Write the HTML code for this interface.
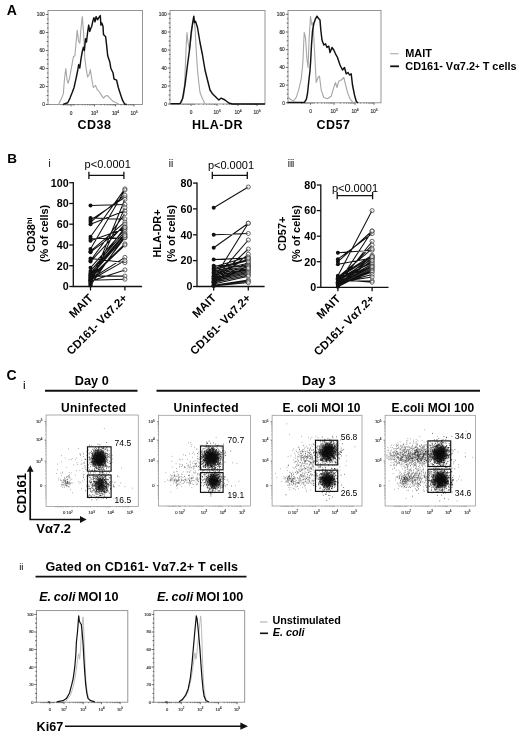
<!DOCTYPE html>
<html lang="en">
<head>
<meta charset="utf-8">
<title>Figure</title>
<style>html,body{margin:0;padding:0;background:#fff}svg{display:block}</style>
</head>
<body>
<svg width="520" height="736" viewBox="0 0 520 736" font-family='"Liberation Sans", sans-serif'>
<rect width="520" height="736" fill="#fff"/>
<defs><radialGradient id="core"><stop offset="0" stop-color="#000" stop-opacity="0.95"/><stop offset="0.45" stop-color="#000" stop-opacity="0.7"/><stop offset="1" stop-color="#000" stop-opacity="0"/></radialGradient><radialGradient id="core2"><stop offset="0" stop-color="#000" stop-opacity="0.6"/><stop offset="0.5" stop-color="#000" stop-opacity="0.3"/><stop offset="1" stop-color="#000" stop-opacity="0"/></radialGradient></defs>
<text x="6.8" y="14.7" font-size="14" font-weight="bold">A</text>
<rect x="48" y="10.5" width="94.5" height="94" fill="none" stroke="#8a8a8a" stroke-width="0.9"/>
<path d="M45.8 104.5H48.3M47.1 100H48.3M46.6 95.5H48.3M47.1 91H48.3M45.8 86.5H48.3M47.1 82H48.3M46.6 77.5H48.3M47.1 73H48.3M45.8 68.5H48.3M47.1 64H48.3M46.6 59.5H48.3M47.1 55H48.3M45.8 50.5H48.3M47.1 46H48.3M46.6 41.5H48.3M47.1 37H48.3M45.8 32.5H48.3M47.1 28H48.3M46.6 23.5H48.3M47.1 19H48.3M45.8 14.5H48.3" stroke="#333" stroke-width="0.7" fill="none"/>
<text x="44.8" y="106.2" font-size="4.8" text-anchor="end" fill="#333" stroke="#333" stroke-width="0.15">0</text>
<text x="44.8" y="88.2" font-size="4.8" text-anchor="end" fill="#333" stroke="#333" stroke-width="0.15">20</text>
<text x="44.8" y="70.2" font-size="4.8" text-anchor="end" fill="#333" stroke="#333" stroke-width="0.15">40</text>
<text x="44.8" y="52.2" font-size="4.8" text-anchor="end" fill="#333" stroke="#333" stroke-width="0.15">60</text>
<text x="44.8" y="34.2" font-size="4.8" text-anchor="end" fill="#333" stroke="#333" stroke-width="0.15">80</text>
<text x="44.8" y="16.2" font-size="4.8" text-anchor="end" fill="#333" stroke="#333" stroke-width="0.15">100</text>
<line x1="71" y1="104.5" x2="71" y2="106.5" stroke="#333" stroke-width="0.7"/>
<text x="71" y="114.7" font-size="4.8" text-anchor="middle" fill="#333" stroke="#333" stroke-width="0.15">0</text>
<line x1="94.5" y1="104.5" x2="94.5" y2="106.5" stroke="#333" stroke-width="0.7"/>
<text x="94.5" y="114.7" font-size="4.8" text-anchor="middle" fill="#333" stroke="#333" stroke-width="0.15">10<tspan dy="-1.8" font-size="3.4">3</tspan></text>
<line x1="115.5" y1="104.5" x2="115.5" y2="106.5" stroke="#333" stroke-width="0.7"/>
<text x="115.5" y="114.7" font-size="4.8" text-anchor="middle" fill="#333" stroke="#333" stroke-width="0.15">10<tspan dy="-1.8" font-size="3.4">4</tspan></text>
<line x1="134" y1="104.5" x2="134" y2="106.5" stroke="#333" stroke-width="0.7"/>
<text x="134" y="114.7" font-size="4.8" text-anchor="middle" fill="#333" stroke="#333" stroke-width="0.15">10<tspan dy="-1.8" font-size="3.4">5</tspan></text>
<path d="M78.1 104.3v1.2M82.2 104.3v1.2M85.1 104.3v1.2M87.4 104.3v1.2M89.3 104.3v1.2M90.9 104.3v1.2M92.2 104.3v1.2M93.4 104.3v1.2M100.8 104.3v1.2M104.5 104.3v1.2M107.1 104.3v1.2M109.2 104.3v1.2M110.8 104.3v1.2M112.2 104.3v1.2M113.5 104.3v1.2M114.5 104.3v1.2M121.1 104.3v1.2M124.3 104.3v1.2M126.6 104.3v1.2M128.4 104.3v1.2M129.9 104.3v1.2M131.1 104.3v1.2M132.2 104.3v1.2M133.2 104.3v1.2M62 104.3v1.2M63.5 104.3v1.2M65 104.3v1.2M66.2 104.3v1.2M67.4 104.3v1.2M68.6 104.3v1.2M69.8 104.3v1.2M72.2 104.3v1.2M73.4 104.3v1.2M74.6 104.3v1.2" stroke="#444" stroke-width="0.55" fill="none"/>
<path d="M58.6 104.4L61.2 99.1L63.3 93.9L64.5 79L65.8 68.5L67.1 80.1L68.1 83.3L69.6 78L71.7 66.3L73.4 56.8L74.9 55.8L76 43.1L77.2 30.4L78.5 41L79.8 43.1L80.8 30.4L82.3 16.6L83.6 32.5L84.8 57.9L86.1 68.5L87.6 76.9L89.1 74.8L90.3 69.5L91.8 79L93.3 87.5L94.6 86.4L95.6 85.4L97.1 89.6L99.2 91.7L101.3 94.9L103.5 98.1L105.6 96L107.3 95.5L109.8 98.1L113 101.3L116.2 102.7L119.3 104.4" fill="none" stroke="#a6a6a6" stroke-width="1.1" stroke-linejoin="round"/>
<path d="M63.1 104.4L67.7 102.7L70 98.1L72.3 92.3L74 87.7L75.8 79.6L77.5 71.5L78.7 64.6L79.8 68L81 58.9L82.3 51.5L83.4 47.3L84.4 50.5L85.5 38.8L86.5 42L87.6 32.5L88.7 25.1L89.7 31.4L90.8 28.3L91.8 26.2L92.9 20.9L93.9 17.7L95 21.9L96.1 16.6L97.5 19.8L98.8 17.7L100.3 15.6L100.9 25.1L101.8 23L103 26.2L103.5 34.6L105.6 36.7L106.6 45.2L107.7 55.8L109.8 62.1L110.9 68.5L113 72.7L114 79L116.6 80.1L118.3 87.5L120.4 93.9L122.5 100.2L124.6 104L126.7 104.4" fill="none" stroke="#111" stroke-width="1.45" stroke-linejoin="round"/>
<text x="94.5" y="129" font-size="12.5" font-weight="bold" text-anchor="middle" letter-spacing="0.5">CD38</text>
<rect x="170" y="10.5" width="95" height="93.5" fill="none" stroke="#8a8a8a" stroke-width="0.9"/>
<path d="M167.8 104H170.3M169.1 99.5H170.3M168.6 95H170.3M169.1 90.5H170.3M167.8 86H170.3M169.1 81.5H170.3M168.6 77H170.3M169.1 72.5H170.3M167.8 68H170.3M169.1 63.5H170.3M168.6 59H170.3M169.1 54.5H170.3M167.8 50H170.3M169.1 45.5H170.3M168.6 41H170.3M169.1 36.5H170.3M167.8 32H170.3M169.1 27.5H170.3M168.6 23H170.3M169.1 18.5H170.3M167.8 14H170.3" stroke="#333" stroke-width="0.7" fill="none"/>
<text x="166.8" y="105.7" font-size="4.8" text-anchor="end" fill="#333" stroke="#333" stroke-width="0.15">0</text>
<text x="166.8" y="87.7" font-size="4.8" text-anchor="end" fill="#333" stroke="#333" stroke-width="0.15">20</text>
<text x="166.8" y="69.7" font-size="4.8" text-anchor="end" fill="#333" stroke="#333" stroke-width="0.15">40</text>
<text x="166.8" y="51.7" font-size="4.8" text-anchor="end" fill="#333" stroke="#333" stroke-width="0.15">60</text>
<text x="166.8" y="33.7" font-size="4.8" text-anchor="end" fill="#333" stroke="#333" stroke-width="0.15">80</text>
<text x="166.8" y="15.7" font-size="4.8" text-anchor="end" fill="#333" stroke="#333" stroke-width="0.15">100</text>
<line x1="191" y1="104" x2="191" y2="106" stroke="#333" stroke-width="0.7"/>
<text x="191" y="114.2" font-size="4.8" text-anchor="middle" fill="#333" stroke="#333" stroke-width="0.15">0</text>
<line x1="217" y1="104" x2="217" y2="106" stroke="#333" stroke-width="0.7"/>
<text x="217" y="114.2" font-size="4.8" text-anchor="middle" fill="#333" stroke="#333" stroke-width="0.15">10<tspan dy="-1.8" font-size="3.4">3</tspan></text>
<line x1="238" y1="104" x2="238" y2="106" stroke="#333" stroke-width="0.7"/>
<text x="238" y="114.2" font-size="4.8" text-anchor="middle" fill="#333" stroke="#333" stroke-width="0.15">10<tspan dy="-1.8" font-size="3.4">4</tspan></text>
<line x1="257" y1="104" x2="257" y2="106" stroke="#333" stroke-width="0.7"/>
<text x="257" y="114.2" font-size="4.8" text-anchor="middle" fill="#333" stroke="#333" stroke-width="0.15">10<tspan dy="-1.8" font-size="3.4">5</tspan></text>
<path d="M198.8 103.8v1.2M203.4 103.8v1.2M206.7 103.8v1.2M209.2 103.8v1.2M211.2 103.8v1.2M213 103.8v1.2M214.5 103.8v1.2M215.8 103.8v1.2M223.3 103.8v1.2M227 103.8v1.2M229.6 103.8v1.2M231.7 103.8v1.2M233.3 103.8v1.2M234.7 103.8v1.2M236 103.8v1.2M237 103.8v1.2M243.7 103.8v1.2M247.1 103.8v1.2M249.4 103.8v1.2M251.3 103.8v1.2M252.8 103.8v1.2M254.1 103.8v1.2M255.2 103.8v1.2M256.1 103.8v1.2M182 103.8v1.2M183.5 103.8v1.2M185 103.8v1.2M186.2 103.8v1.2M187.4 103.8v1.2M188.6 103.8v1.2M189.8 103.8v1.2M192.2 103.8v1.2M193.4 103.8v1.2M194.6 103.8v1.2" stroke="#444" stroke-width="0.55" fill="none"/>
<path d="M181.2 103.8L183.8 95L185 75L186.2 45L187 32.5L188 42.5L189.5 50L191.2 37.5L192.5 25L193.8 18.8L195 27.5L196.2 50L197.5 70L198.8 82.5L200 92.5L202.5 98.8L205 103.8" fill="none" stroke="#a6a6a6" stroke-width="1.1" stroke-linejoin="round"/>
<path d="M170.5 103.8L180 103.8L182.5 98.8L185 85L187.5 65L189.5 50L191.2 32.5L192.5 23.8L193.8 16.2L194.5 22.5L195.5 21.2L197.5 27.5L200 42.5L202.5 55L205 70L207.5 80L210 90L212.5 93.8L215 96.2L218.8 100L221.2 98.2L225 100L228.8 103L232.5 104L265 104" fill="none" stroke="#111" stroke-width="1.45" stroke-linejoin="round"/>
<text x="217.5" y="129" font-size="12.5" font-weight="bold" text-anchor="middle" letter-spacing="0.5">HLA-DR</text>
<rect x="288" y="10.5" width="93" height="92.3" fill="none" stroke="#8a8a8a" stroke-width="0.9"/>
<path d="M285.8 102.8H288.3M287.1 98.4H288.3M286.6 94H288.3M287.1 89.5H288.3M285.8 85.1H288.3M287.1 80.7H288.3M286.6 76.2H288.3M287.1 71.8H288.3M285.8 67.4H288.3M287.1 63H288.3M286.6 58.5H288.3M287.1 54.1H288.3M285.8 49.7H288.3M287.1 45.3H288.3M286.6 40.8H288.3M287.1 36.4H288.3M285.8 32H288.3M287.1 27.6H288.3M286.6 23.1H288.3M287.1 18.7H288.3M285.8 14.3H288.3" stroke="#333" stroke-width="0.7" fill="none"/>
<text x="284.8" y="104.5" font-size="4.8" text-anchor="end" fill="#333" stroke="#333" stroke-width="0.15">0</text>
<text x="284.8" y="86.8" font-size="4.8" text-anchor="end" fill="#333" stroke="#333" stroke-width="0.15">20</text>
<text x="284.8" y="69.1" font-size="4.8" text-anchor="end" fill="#333" stroke="#333" stroke-width="0.15">40</text>
<text x="284.8" y="51.4" font-size="4.8" text-anchor="end" fill="#333" stroke="#333" stroke-width="0.15">60</text>
<text x="284.8" y="33.7" font-size="4.8" text-anchor="end" fill="#333" stroke="#333" stroke-width="0.15">80</text>
<text x="284.8" y="16" font-size="4.8" text-anchor="end" fill="#333" stroke="#333" stroke-width="0.15">100</text>
<line x1="310.5" y1="102.8" x2="310.5" y2="104.8" stroke="#333" stroke-width="0.7"/>
<text x="310.5" y="113" font-size="4.8" text-anchor="middle" fill="#333" stroke="#333" stroke-width="0.15">0</text>
<line x1="334" y1="102.8" x2="334" y2="104.8" stroke="#333" stroke-width="0.7"/>
<text x="334" y="113" font-size="4.8" text-anchor="middle" fill="#333" stroke="#333" stroke-width="0.15">10<tspan dy="-1.8" font-size="3.4">3</tspan></text>
<line x1="355" y1="102.8" x2="355" y2="104.8" stroke="#333" stroke-width="0.7"/>
<text x="355" y="113" font-size="4.8" text-anchor="middle" fill="#333" stroke="#333" stroke-width="0.15">10<tspan dy="-1.8" font-size="3.4">4</tspan></text>
<line x1="374" y1="102.8" x2="374" y2="104.8" stroke="#333" stroke-width="0.7"/>
<text x="374" y="113" font-size="4.8" text-anchor="middle" fill="#333" stroke="#333" stroke-width="0.15">10<tspan dy="-1.8" font-size="3.4">5</tspan></text>
<path d="M317.6 102.6v1.2M321.7 102.6v1.2M324.6 102.6v1.2M326.9 102.6v1.2M328.8 102.6v1.2M330.4 102.6v1.2M331.7 102.6v1.2M332.9 102.6v1.2M340.3 102.6v1.2M344 102.6v1.2M346.6 102.6v1.2M348.7 102.6v1.2M350.3 102.6v1.2M351.7 102.6v1.2M353 102.6v1.2M354 102.6v1.2M360.7 102.6v1.2M364.1 102.6v1.2M366.4 102.6v1.2M368.3 102.6v1.2M369.8 102.6v1.2M371.1 102.6v1.2M372.2 102.6v1.2M373.1 102.6v1.2M301.5 102.6v1.2M303 102.6v1.2M304.5 102.6v1.2M305.7 102.6v1.2M306.9 102.6v1.2M308.1 102.6v1.2M309.3 102.6v1.2M311.7 102.6v1.2M312.9 102.6v1.2M314.1 102.6v1.2" stroke="#444" stroke-width="0.55" fill="none"/>
<path d="M287.9 96.9L290.5 99.5L293.6 101L296.5 96.9L298.9 88.8L301.1 79.6L302.8 63.8L304.2 32.5L305.5 37.5L307 60L308 67.5L309.2 37.5L310.5 16.2L311.8 25L313 22.5L314.5 50L316.2 82.5L318 77.5L319.5 76.2L321.2 90L323.8 97.5L327.5 98.8L331.2 96.2L333.8 87.5L335.5 82.5L337 87.5L338.8 81.2L341.2 80L343.8 77.5L345 82.5L347.5 92.5L350 98.8L352.5 102L356.2 102.5" fill="none" stroke="#a6a6a6" stroke-width="1.1" stroke-linejoin="round"/>
<path d="M287.5 102.5L302 102.5L304.6 102.2L306.4 99.2L307.5 93.5L308.6 83L309.9 71.5L310.6 62.2L311.5 45L312.5 31.2L313.8 23.8L315.5 18.8L317 16.2L318.8 18.8L320 20L320.8 30L322 40L323.8 45L325.5 43.8L327 47.5L328.8 46.2L330 52.5L332 47.5L333.8 50L335.5 53.8L337.5 57.5L340 65L342.5 70L344.5 67.5L346.2 73.8L348 72.5L349.5 75L351.2 73.8L352.5 85L354.5 95L356.2 101.2L358 103" fill="none" stroke="#111" stroke-width="1.45" stroke-linejoin="round"/>
<text x="333.5" y="129" font-size="12.5" font-weight="bold" text-anchor="middle" letter-spacing="0.5">CD57</text>
<line x1="390.2" y1="53.7" x2="398.5" y2="53.7" stroke="#b0b0b0" stroke-width="1.2"/>
<line x1="390.2" y1="66.3" x2="399" y2="66.3" stroke="#111" stroke-width="1.8"/>
<text x="405.3" y="57" font-size="10.9" font-weight="bold">MAIT</text>
<text x="405.3" y="70.3" font-size="10.9" font-weight="bold">CD161<tspan dy="-1.2">-</tspan><tspan dy="1.2"> Vα7.2</tspan><tspan dy="-1.2" font-size="8">+</tspan><tspan dy="1.2"> T cells</tspan></text>
<text x="7.2" y="163.2" font-size="13.5" font-weight="bold">B</text>
<path d="M73.3 182.1V286.5H142" fill="none" stroke="#111" stroke-width="1.3"/>
<line x1="69.3" y1="286.5" x2="73.3" y2="286.5" stroke="#111" stroke-width="1.3"/>
<text x="68.7" y="290.3" font-size="10.7" font-weight="bold" text-anchor="end">0</text>
<line x1="69.3" y1="265.7" x2="73.3" y2="265.7" stroke="#111" stroke-width="1.3"/>
<text x="68.7" y="269.5" font-size="10.7" font-weight="bold" text-anchor="end">20</text>
<line x1="69.3" y1="245" x2="73.3" y2="245" stroke="#111" stroke-width="1.3"/>
<text x="68.7" y="248.8" font-size="10.7" font-weight="bold" text-anchor="end">40</text>
<line x1="69.3" y1="224.2" x2="73.3" y2="224.2" stroke="#111" stroke-width="1.3"/>
<text x="68.7" y="228" font-size="10.7" font-weight="bold" text-anchor="end">60</text>
<line x1="69.3" y1="203.5" x2="73.3" y2="203.5" stroke="#111" stroke-width="1.3"/>
<text x="68.7" y="207.3" font-size="10.7" font-weight="bold" text-anchor="end">80</text>
<line x1="69.3" y1="182.7" x2="73.3" y2="182.7" stroke="#111" stroke-width="1.3"/>
<text x="68.7" y="186.5" font-size="10.7" font-weight="bold" text-anchor="end">100</text>
<line x1="90.5" y1="286.5" x2="90.5" y2="290.5" stroke="#111" stroke-width="1.3"/>
<line x1="124.9" y1="286.5" x2="124.9" y2="290.5" stroke="#111" stroke-width="1.3"/>
<path d="M90.5 205.5L124.9 204.5M90.5 218L124.9 219M90.5 220.1L124.9 197.2M90.5 222.1L124.9 195.2M90.5 224.2L124.9 210.7M90.5 236.7L124.9 188.9M90.5 238.8L124.9 237.7M90.5 240.8L124.9 228.4M90.5 249.1L124.9 190M90.5 251.2L124.9 222.1M90.5 252.2L124.9 226.3M90.5 258.5L124.9 262.6M90.5 260.6L124.9 213.8M90.5 261.6L124.9 224.2M90.5 267.8L124.9 229.4M90.5 270.9L124.9 231.5M90.5 273L124.9 233.6M90.5 275.1L124.9 234.6M90.5 276.1L124.9 236.7M90.5 277.2L124.9 243.9M90.5 278.2L124.9 245M90.5 279.2L124.9 257.4M90.5 280.3L124.9 260.6M90.5 281.3L124.9 269.9M90.5 276.1L124.9 276.1M90.5 280.3L124.9 279.2M90.5 282.3L124.9 237.7M90.5 283.4L124.9 199.3M90.5 284.4L124.9 207.6M90.5 274L124.9 227.3M90.5 285.5L124.9 235.6" stroke="#111" stroke-width="1.05" fill="none"/>
<circle cx="90.5" cy="205.5" r="2" fill="#111"/>
<circle cx="90.5" cy="218" r="2" fill="#111"/>
<circle cx="90.5" cy="220.1" r="2" fill="#111"/>
<circle cx="90.5" cy="222.1" r="2" fill="#111"/>
<circle cx="90.5" cy="224.2" r="2" fill="#111"/>
<circle cx="90.5" cy="236.7" r="2" fill="#111"/>
<circle cx="90.5" cy="238.8" r="2" fill="#111"/>
<circle cx="90.5" cy="240.8" r="2" fill="#111"/>
<circle cx="90.5" cy="249.1" r="2" fill="#111"/>
<circle cx="90.5" cy="251.2" r="2" fill="#111"/>
<circle cx="90.5" cy="252.2" r="2" fill="#111"/>
<circle cx="90.5" cy="258.5" r="2" fill="#111"/>
<circle cx="90.5" cy="260.6" r="2" fill="#111"/>
<circle cx="90.5" cy="261.6" r="2" fill="#111"/>
<circle cx="90.5" cy="267.8" r="2" fill="#111"/>
<circle cx="90.5" cy="270.9" r="2" fill="#111"/>
<circle cx="90.5" cy="273" r="2" fill="#111"/>
<circle cx="90.5" cy="275.1" r="2" fill="#111"/>
<circle cx="90.5" cy="276.1" r="2" fill="#111"/>
<circle cx="90.5" cy="277.2" r="2" fill="#111"/>
<circle cx="90.5" cy="278.2" r="2" fill="#111"/>
<circle cx="90.5" cy="279.2" r="2" fill="#111"/>
<circle cx="90.5" cy="280.3" r="2" fill="#111"/>
<circle cx="90.5" cy="281.3" r="2" fill="#111"/>
<circle cx="90.5" cy="276.1" r="2" fill="#111"/>
<circle cx="90.5" cy="280.3" r="2" fill="#111"/>
<circle cx="90.5" cy="282.3" r="2" fill="#111"/>
<circle cx="90.5" cy="283.4" r="2" fill="#111"/>
<circle cx="90.5" cy="284.4" r="2" fill="#111"/>
<circle cx="90.5" cy="274" r="2" fill="#111"/>
<circle cx="90.5" cy="285.5" r="2" fill="#111"/>
<circle cx="124.9" cy="204.5" r="2.05" fill="#fff" fill-opacity="0.5" stroke="#3a3a3a" stroke-width="0.75"/>
<circle cx="124.9" cy="219" r="2.05" fill="#fff" fill-opacity="0.5" stroke="#3a3a3a" stroke-width="0.75"/>
<circle cx="124.9" cy="197.2" r="2.05" fill="#fff" fill-opacity="0.5" stroke="#3a3a3a" stroke-width="0.75"/>
<circle cx="124.9" cy="195.2" r="2.05" fill="#fff" fill-opacity="0.5" stroke="#3a3a3a" stroke-width="0.75"/>
<circle cx="124.9" cy="210.7" r="2.05" fill="#fff" fill-opacity="0.5" stroke="#3a3a3a" stroke-width="0.75"/>
<circle cx="124.9" cy="188.9" r="2.05" fill="#fff" fill-opacity="0.5" stroke="#3a3a3a" stroke-width="0.75"/>
<circle cx="124.9" cy="237.7" r="2.05" fill="#fff" fill-opacity="0.5" stroke="#3a3a3a" stroke-width="0.75"/>
<circle cx="124.9" cy="228.4" r="2.05" fill="#fff" fill-opacity="0.5" stroke="#3a3a3a" stroke-width="0.75"/>
<circle cx="124.9" cy="190" r="2.05" fill="#fff" fill-opacity="0.5" stroke="#3a3a3a" stroke-width="0.75"/>
<circle cx="124.9" cy="222.1" r="2.05" fill="#fff" fill-opacity="0.5" stroke="#3a3a3a" stroke-width="0.75"/>
<circle cx="124.9" cy="226.3" r="2.05" fill="#fff" fill-opacity="0.5" stroke="#3a3a3a" stroke-width="0.75"/>
<circle cx="124.9" cy="262.6" r="2.05" fill="#fff" fill-opacity="0.5" stroke="#3a3a3a" stroke-width="0.75"/>
<circle cx="124.9" cy="213.8" r="2.05" fill="#fff" fill-opacity="0.5" stroke="#3a3a3a" stroke-width="0.75"/>
<circle cx="124.9" cy="224.2" r="2.05" fill="#fff" fill-opacity="0.5" stroke="#3a3a3a" stroke-width="0.75"/>
<circle cx="124.9" cy="229.4" r="2.05" fill="#fff" fill-opacity="0.5" stroke="#3a3a3a" stroke-width="0.75"/>
<circle cx="124.9" cy="231.5" r="2.05" fill="#fff" fill-opacity="0.5" stroke="#3a3a3a" stroke-width="0.75"/>
<circle cx="124.9" cy="233.6" r="2.05" fill="#fff" fill-opacity="0.5" stroke="#3a3a3a" stroke-width="0.75"/>
<circle cx="124.9" cy="234.6" r="2.05" fill="#fff" fill-opacity="0.5" stroke="#3a3a3a" stroke-width="0.75"/>
<circle cx="124.9" cy="236.7" r="2.05" fill="#fff" fill-opacity="0.5" stroke="#3a3a3a" stroke-width="0.75"/>
<circle cx="124.9" cy="243.9" r="2.05" fill="#fff" fill-opacity="0.5" stroke="#3a3a3a" stroke-width="0.75"/>
<circle cx="124.9" cy="245" r="2.05" fill="#fff" fill-opacity="0.5" stroke="#3a3a3a" stroke-width="0.75"/>
<circle cx="124.9" cy="257.4" r="2.05" fill="#fff" fill-opacity="0.5" stroke="#3a3a3a" stroke-width="0.75"/>
<circle cx="124.9" cy="260.6" r="2.05" fill="#fff" fill-opacity="0.5" stroke="#3a3a3a" stroke-width="0.75"/>
<circle cx="124.9" cy="269.9" r="2.05" fill="#fff" fill-opacity="0.5" stroke="#3a3a3a" stroke-width="0.75"/>
<circle cx="124.9" cy="276.1" r="2.05" fill="#fff" fill-opacity="0.5" stroke="#3a3a3a" stroke-width="0.75"/>
<circle cx="124.9" cy="279.2" r="2.05" fill="#fff" fill-opacity="0.5" stroke="#3a3a3a" stroke-width="0.75"/>
<circle cx="124.9" cy="237.7" r="2.05" fill="#fff" fill-opacity="0.5" stroke="#3a3a3a" stroke-width="0.75"/>
<circle cx="124.9" cy="199.3" r="2.05" fill="#fff" fill-opacity="0.5" stroke="#3a3a3a" stroke-width="0.75"/>
<circle cx="124.9" cy="207.6" r="2.05" fill="#fff" fill-opacity="0.5" stroke="#3a3a3a" stroke-width="0.75"/>
<circle cx="124.9" cy="227.3" r="2.05" fill="#fff" fill-opacity="0.5" stroke="#3a3a3a" stroke-width="0.75"/>
<circle cx="124.9" cy="235.6" r="2.05" fill="#fff" fill-opacity="0.5" stroke="#3a3a3a" stroke-width="0.75"/>
<path d="M88.9 171.7V178.9M88.9 175.3H123.9M123.9 171.7V178.9" fill="none" stroke="#111" stroke-width="1.3"/>
<text x="107.7" y="167.7" font-size="11" text-anchor="middle">p&lt;0.0001</text>
<text x="49.5" y="167.2" font-size="10" text-anchor="middle">i</text>
<text transform="translate(35.4 234.7) rotate(-90)" font-size="10.9" font-weight="bold" text-anchor="middle">CD38<tspan dy="-3.2" font-size="7.5">hi</tspan></text>
<text transform="translate(47.7 233.5) rotate(-90)" font-size="10.9" font-weight="bold" text-anchor="middle">(% of cells)</text>
<text transform="translate(93.7 298.7) rotate(-45)" font-size="11.5" font-weight="bold" text-anchor="end">MAIT</text>
<text transform="translate(128.1 298.7) rotate(-45)" font-size="11.5" font-weight="bold" text-anchor="end">CD161- Vα7.2+</text>
<path d="M197 182.5V286.5H264.6" fill="none" stroke="#111" stroke-width="1.3"/>
<line x1="193" y1="286.5" x2="197" y2="286.5" stroke="#111" stroke-width="1.3"/>
<text x="192.4" y="290.3" font-size="10.7" font-weight="bold" text-anchor="end">0</text>
<line x1="193" y1="260.6" x2="197" y2="260.6" stroke="#111" stroke-width="1.3"/>
<text x="192.4" y="264.4" font-size="10.7" font-weight="bold" text-anchor="end">20</text>
<line x1="193" y1="234.8" x2="197" y2="234.8" stroke="#111" stroke-width="1.3"/>
<text x="192.4" y="238.6" font-size="10.7" font-weight="bold" text-anchor="end">40</text>
<line x1="193" y1="208.9" x2="197" y2="208.9" stroke="#111" stroke-width="1.3"/>
<text x="192.4" y="212.8" font-size="10.7" font-weight="bold" text-anchor="end">60</text>
<line x1="193" y1="183.1" x2="197" y2="183.1" stroke="#111" stroke-width="1.3"/>
<text x="192.4" y="186.9" font-size="10.7" font-weight="bold" text-anchor="end">80</text>
<line x1="213.7" y1="286.5" x2="213.7" y2="290.5" stroke="#111" stroke-width="1.3"/>
<line x1="248.3" y1="286.5" x2="248.3" y2="290.5" stroke="#111" stroke-width="1.3"/>
<path d="M213.7 207.7L248.3 187M213.7 234.8L248.3 233.5M213.7 247.7L248.3 223.2M213.7 259.4L248.3 258.1M213.7 267.1L248.3 256.8M213.7 278.7L248.3 223.2M213.7 280L248.3 240M213.7 281.3L248.3 249M213.7 282.6L248.3 254.2M213.7 268.4L248.3 259.4M213.7 269.7L248.3 260.6M213.7 271L248.3 263.2M213.7 272.3L248.3 264.5M213.7 273.6L248.3 265.8M213.7 274.9L248.3 267.1M213.7 276.2L248.3 268.4M213.7 277.5L248.3 269.7M213.7 278.7L248.3 271M213.7 280L248.3 272.3M213.7 281.3L248.3 273.6M213.7 282.6L248.3 274.9M213.7 283.9L248.3 276.2M213.7 285.2L248.3 280M213.7 285.2L248.3 281.3M213.7 285.9L248.3 282.6M213.7 283.9L248.3 265.8M213.7 282.6L248.3 261.9M213.7 265.8L248.3 267.1M213.7 276.2L248.3 258.1M213.7 278.7L248.3 268.4" stroke="#111" stroke-width="1.05" fill="none"/>
<circle cx="213.7" cy="207.7" r="2" fill="#111"/>
<circle cx="213.7" cy="234.8" r="2" fill="#111"/>
<circle cx="213.7" cy="247.7" r="2" fill="#111"/>
<circle cx="213.7" cy="259.4" r="2" fill="#111"/>
<circle cx="213.7" cy="267.1" r="2" fill="#111"/>
<circle cx="213.7" cy="278.7" r="2" fill="#111"/>
<circle cx="213.7" cy="280" r="2" fill="#111"/>
<circle cx="213.7" cy="281.3" r="2" fill="#111"/>
<circle cx="213.7" cy="282.6" r="2" fill="#111"/>
<circle cx="213.7" cy="268.4" r="2" fill="#111"/>
<circle cx="213.7" cy="269.7" r="2" fill="#111"/>
<circle cx="213.7" cy="271" r="2" fill="#111"/>
<circle cx="213.7" cy="272.3" r="2" fill="#111"/>
<circle cx="213.7" cy="273.6" r="2" fill="#111"/>
<circle cx="213.7" cy="274.9" r="2" fill="#111"/>
<circle cx="213.7" cy="276.2" r="2" fill="#111"/>
<circle cx="213.7" cy="277.5" r="2" fill="#111"/>
<circle cx="213.7" cy="278.7" r="2" fill="#111"/>
<circle cx="213.7" cy="280" r="2" fill="#111"/>
<circle cx="213.7" cy="281.3" r="2" fill="#111"/>
<circle cx="213.7" cy="282.6" r="2" fill="#111"/>
<circle cx="213.7" cy="283.9" r="2" fill="#111"/>
<circle cx="213.7" cy="285.2" r="2" fill="#111"/>
<circle cx="213.7" cy="285.2" r="2" fill="#111"/>
<circle cx="213.7" cy="285.9" r="2" fill="#111"/>
<circle cx="213.7" cy="283.9" r="2" fill="#111"/>
<circle cx="213.7" cy="282.6" r="2" fill="#111"/>
<circle cx="213.7" cy="265.8" r="2" fill="#111"/>
<circle cx="213.7" cy="276.2" r="2" fill="#111"/>
<circle cx="213.7" cy="278.7" r="2" fill="#111"/>
<circle cx="248.3" cy="187" r="2.05" fill="#fff" fill-opacity="0.5" stroke="#3a3a3a" stroke-width="0.75"/>
<circle cx="248.3" cy="233.5" r="2.05" fill="#fff" fill-opacity="0.5" stroke="#3a3a3a" stroke-width="0.75"/>
<circle cx="248.3" cy="223.2" r="2.05" fill="#fff" fill-opacity="0.5" stroke="#3a3a3a" stroke-width="0.75"/>
<circle cx="248.3" cy="258.1" r="2.05" fill="#fff" fill-opacity="0.5" stroke="#3a3a3a" stroke-width="0.75"/>
<circle cx="248.3" cy="256.8" r="2.05" fill="#fff" fill-opacity="0.5" stroke="#3a3a3a" stroke-width="0.75"/>
<circle cx="248.3" cy="223.2" r="2.05" fill="#fff" fill-opacity="0.5" stroke="#3a3a3a" stroke-width="0.75"/>
<circle cx="248.3" cy="240" r="2.05" fill="#fff" fill-opacity="0.5" stroke="#3a3a3a" stroke-width="0.75"/>
<circle cx="248.3" cy="249" r="2.05" fill="#fff" fill-opacity="0.5" stroke="#3a3a3a" stroke-width="0.75"/>
<circle cx="248.3" cy="254.2" r="2.05" fill="#fff" fill-opacity="0.5" stroke="#3a3a3a" stroke-width="0.75"/>
<circle cx="248.3" cy="259.4" r="2.05" fill="#fff" fill-opacity="0.5" stroke="#3a3a3a" stroke-width="0.75"/>
<circle cx="248.3" cy="260.6" r="2.05" fill="#fff" fill-opacity="0.5" stroke="#3a3a3a" stroke-width="0.75"/>
<circle cx="248.3" cy="263.2" r="2.05" fill="#fff" fill-opacity="0.5" stroke="#3a3a3a" stroke-width="0.75"/>
<circle cx="248.3" cy="264.5" r="2.05" fill="#fff" fill-opacity="0.5" stroke="#3a3a3a" stroke-width="0.75"/>
<circle cx="248.3" cy="265.8" r="2.05" fill="#fff" fill-opacity="0.5" stroke="#3a3a3a" stroke-width="0.75"/>
<circle cx="248.3" cy="267.1" r="2.05" fill="#fff" fill-opacity="0.5" stroke="#3a3a3a" stroke-width="0.75"/>
<circle cx="248.3" cy="268.4" r="2.05" fill="#fff" fill-opacity="0.5" stroke="#3a3a3a" stroke-width="0.75"/>
<circle cx="248.3" cy="269.7" r="2.05" fill="#fff" fill-opacity="0.5" stroke="#3a3a3a" stroke-width="0.75"/>
<circle cx="248.3" cy="271" r="2.05" fill="#fff" fill-opacity="0.5" stroke="#3a3a3a" stroke-width="0.75"/>
<circle cx="248.3" cy="272.3" r="2.05" fill="#fff" fill-opacity="0.5" stroke="#3a3a3a" stroke-width="0.75"/>
<circle cx="248.3" cy="273.6" r="2.05" fill="#fff" fill-opacity="0.5" stroke="#3a3a3a" stroke-width="0.75"/>
<circle cx="248.3" cy="274.9" r="2.05" fill="#fff" fill-opacity="0.5" stroke="#3a3a3a" stroke-width="0.75"/>
<circle cx="248.3" cy="276.2" r="2.05" fill="#fff" fill-opacity="0.5" stroke="#3a3a3a" stroke-width="0.75"/>
<circle cx="248.3" cy="280" r="2.05" fill="#fff" fill-opacity="0.5" stroke="#3a3a3a" stroke-width="0.75"/>
<circle cx="248.3" cy="281.3" r="2.05" fill="#fff" fill-opacity="0.5" stroke="#3a3a3a" stroke-width="0.75"/>
<circle cx="248.3" cy="282.6" r="2.05" fill="#fff" fill-opacity="0.5" stroke="#3a3a3a" stroke-width="0.75"/>
<circle cx="248.3" cy="265.8" r="2.05" fill="#fff" fill-opacity="0.5" stroke="#3a3a3a" stroke-width="0.75"/>
<circle cx="248.3" cy="261.9" r="2.05" fill="#fff" fill-opacity="0.5" stroke="#3a3a3a" stroke-width="0.75"/>
<circle cx="248.3" cy="267.1" r="2.05" fill="#fff" fill-opacity="0.5" stroke="#3a3a3a" stroke-width="0.75"/>
<circle cx="248.3" cy="258.1" r="2.05" fill="#fff" fill-opacity="0.5" stroke="#3a3a3a" stroke-width="0.75"/>
<circle cx="248.3" cy="268.4" r="2.05" fill="#fff" fill-opacity="0.5" stroke="#3a3a3a" stroke-width="0.75"/>
<path d="M212.3 171.8V179M212.3 175.4H247.3M247.3 171.8V179" fill="none" stroke="#111" stroke-width="1.3"/>
<text x="231" y="169.2" font-size="11" text-anchor="middle">p&lt;0.0001</text>
<text x="171" y="167.2" font-size="10" text-anchor="middle">ii</text>
<text transform="translate(160.6 233.5) rotate(-90)" font-size="10.9" font-weight="bold" text-anchor="middle">HLA-DR+</text>
<text transform="translate(174.8 233.5) rotate(-90)" font-size="10.9" font-weight="bold" text-anchor="middle">(% of cells)</text>
<text transform="translate(216.9 298.7) rotate(-45)" font-size="11.5" font-weight="bold" text-anchor="end">MAIT</text>
<text transform="translate(251.5 298.7) rotate(-45)" font-size="11.5" font-weight="bold" text-anchor="end">CD161- Vα7.2+</text>
<path d="M320.8 184.4V287.3H388.5" fill="none" stroke="#111" stroke-width="1.3"/>
<line x1="316.8" y1="287.3" x2="320.8" y2="287.3" stroke="#111" stroke-width="1.3"/>
<text x="316.2" y="291.1" font-size="10.7" font-weight="bold" text-anchor="end">0</text>
<line x1="316.8" y1="261.7" x2="320.8" y2="261.7" stroke="#111" stroke-width="1.3"/>
<text x="316.2" y="265.5" font-size="10.7" font-weight="bold" text-anchor="end">20</text>
<line x1="316.8" y1="236.2" x2="320.8" y2="236.2" stroke="#111" stroke-width="1.3"/>
<text x="316.2" y="240" font-size="10.7" font-weight="bold" text-anchor="end">40</text>
<line x1="316.8" y1="210.6" x2="320.8" y2="210.6" stroke="#111" stroke-width="1.3"/>
<text x="316.2" y="214.4" font-size="10.7" font-weight="bold" text-anchor="end">60</text>
<line x1="316.8" y1="185" x2="320.8" y2="185" stroke="#111" stroke-width="1.3"/>
<text x="316.2" y="188.8" font-size="10.7" font-weight="bold" text-anchor="end">80</text>
<line x1="337.9" y1="287.3" x2="337.9" y2="291.3" stroke="#111" stroke-width="1.3"/>
<line x1="372.1" y1="287.3" x2="372.1" y2="291.3" stroke="#111" stroke-width="1.3"/>
<path d="M337.9 252.8L372.1 250.2M337.9 259.2L372.1 233.6M337.9 261.7L372.1 231M337.9 264.3L372.1 257.9M337.9 275.8L372.1 210.6M337.9 283.5L372.1 231M337.9 284.7L372.1 241.3M337.9 280.9L372.1 245.1M337.9 277.1L372.1 255.3M337.9 278.3L372.1 256.6M337.9 279.6L372.1 259.2M337.9 280.9L372.1 261.7M337.9 282.2L372.1 264.3M337.9 283.5L372.1 265.6M337.9 284.7L372.1 266.8M337.9 286L372.1 268.1M337.9 286.7L372.1 269.4M337.9 286L372.1 270.7M337.9 284.7L372.1 272M337.9 283.5L372.1 274.5M337.9 282.2L372.1 277.1M337.9 280.9L372.1 280.9M337.9 279.6L372.1 282.2M337.9 278.3L372.1 263M337.9 277.1L372.1 248.9M337.9 286L372.1 257.9M337.9 282.2L372.1 256.6M337.9 279.6L372.1 266.8M337.9 284.7L372.1 260.4" stroke="#111" stroke-width="1.05" fill="none"/>
<circle cx="337.9" cy="252.8" r="2" fill="#111"/>
<circle cx="337.9" cy="259.2" r="2" fill="#111"/>
<circle cx="337.9" cy="261.7" r="2" fill="#111"/>
<circle cx="337.9" cy="264.3" r="2" fill="#111"/>
<circle cx="337.9" cy="275.8" r="2" fill="#111"/>
<circle cx="337.9" cy="283.5" r="2" fill="#111"/>
<circle cx="337.9" cy="284.7" r="2" fill="#111"/>
<circle cx="337.9" cy="280.9" r="2" fill="#111"/>
<circle cx="337.9" cy="277.1" r="2" fill="#111"/>
<circle cx="337.9" cy="278.3" r="2" fill="#111"/>
<circle cx="337.9" cy="279.6" r="2" fill="#111"/>
<circle cx="337.9" cy="280.9" r="2" fill="#111"/>
<circle cx="337.9" cy="282.2" r="2" fill="#111"/>
<circle cx="337.9" cy="283.5" r="2" fill="#111"/>
<circle cx="337.9" cy="284.7" r="2" fill="#111"/>
<circle cx="337.9" cy="286" r="2" fill="#111"/>
<circle cx="337.9" cy="286.7" r="2" fill="#111"/>
<circle cx="337.9" cy="286" r="2" fill="#111"/>
<circle cx="337.9" cy="284.7" r="2" fill="#111"/>
<circle cx="337.9" cy="283.5" r="2" fill="#111"/>
<circle cx="337.9" cy="282.2" r="2" fill="#111"/>
<circle cx="337.9" cy="280.9" r="2" fill="#111"/>
<circle cx="337.9" cy="279.6" r="2" fill="#111"/>
<circle cx="337.9" cy="278.3" r="2" fill="#111"/>
<circle cx="337.9" cy="277.1" r="2" fill="#111"/>
<circle cx="337.9" cy="286" r="2" fill="#111"/>
<circle cx="337.9" cy="282.2" r="2" fill="#111"/>
<circle cx="337.9" cy="279.6" r="2" fill="#111"/>
<circle cx="337.9" cy="284.7" r="2" fill="#111"/>
<circle cx="372.1" cy="250.2" r="2.05" fill="#fff" fill-opacity="0.5" stroke="#3a3a3a" stroke-width="0.75"/>
<circle cx="372.1" cy="233.6" r="2.05" fill="#fff" fill-opacity="0.5" stroke="#3a3a3a" stroke-width="0.75"/>
<circle cx="372.1" cy="231" r="2.05" fill="#fff" fill-opacity="0.5" stroke="#3a3a3a" stroke-width="0.75"/>
<circle cx="372.1" cy="257.9" r="2.05" fill="#fff" fill-opacity="0.5" stroke="#3a3a3a" stroke-width="0.75"/>
<circle cx="372.1" cy="210.6" r="2.05" fill="#fff" fill-opacity="0.5" stroke="#3a3a3a" stroke-width="0.75"/>
<circle cx="372.1" cy="231" r="2.05" fill="#fff" fill-opacity="0.5" stroke="#3a3a3a" stroke-width="0.75"/>
<circle cx="372.1" cy="241.3" r="2.05" fill="#fff" fill-opacity="0.5" stroke="#3a3a3a" stroke-width="0.75"/>
<circle cx="372.1" cy="245.1" r="2.05" fill="#fff" fill-opacity="0.5" stroke="#3a3a3a" stroke-width="0.75"/>
<circle cx="372.1" cy="255.3" r="2.05" fill="#fff" fill-opacity="0.5" stroke="#3a3a3a" stroke-width="0.75"/>
<circle cx="372.1" cy="256.6" r="2.05" fill="#fff" fill-opacity="0.5" stroke="#3a3a3a" stroke-width="0.75"/>
<circle cx="372.1" cy="259.2" r="2.05" fill="#fff" fill-opacity="0.5" stroke="#3a3a3a" stroke-width="0.75"/>
<circle cx="372.1" cy="261.7" r="2.05" fill="#fff" fill-opacity="0.5" stroke="#3a3a3a" stroke-width="0.75"/>
<circle cx="372.1" cy="264.3" r="2.05" fill="#fff" fill-opacity="0.5" stroke="#3a3a3a" stroke-width="0.75"/>
<circle cx="372.1" cy="265.6" r="2.05" fill="#fff" fill-opacity="0.5" stroke="#3a3a3a" stroke-width="0.75"/>
<circle cx="372.1" cy="266.8" r="2.05" fill="#fff" fill-opacity="0.5" stroke="#3a3a3a" stroke-width="0.75"/>
<circle cx="372.1" cy="268.1" r="2.05" fill="#fff" fill-opacity="0.5" stroke="#3a3a3a" stroke-width="0.75"/>
<circle cx="372.1" cy="269.4" r="2.05" fill="#fff" fill-opacity="0.5" stroke="#3a3a3a" stroke-width="0.75"/>
<circle cx="372.1" cy="270.7" r="2.05" fill="#fff" fill-opacity="0.5" stroke="#3a3a3a" stroke-width="0.75"/>
<circle cx="372.1" cy="272" r="2.05" fill="#fff" fill-opacity="0.5" stroke="#3a3a3a" stroke-width="0.75"/>
<circle cx="372.1" cy="274.5" r="2.05" fill="#fff" fill-opacity="0.5" stroke="#3a3a3a" stroke-width="0.75"/>
<circle cx="372.1" cy="277.1" r="2.05" fill="#fff" fill-opacity="0.5" stroke="#3a3a3a" stroke-width="0.75"/>
<circle cx="372.1" cy="280.9" r="2.05" fill="#fff" fill-opacity="0.5" stroke="#3a3a3a" stroke-width="0.75"/>
<circle cx="372.1" cy="282.2" r="2.05" fill="#fff" fill-opacity="0.5" stroke="#3a3a3a" stroke-width="0.75"/>
<circle cx="372.1" cy="263" r="2.05" fill="#fff" fill-opacity="0.5" stroke="#3a3a3a" stroke-width="0.75"/>
<circle cx="372.1" cy="248.9" r="2.05" fill="#fff" fill-opacity="0.5" stroke="#3a3a3a" stroke-width="0.75"/>
<circle cx="372.1" cy="257.9" r="2.05" fill="#fff" fill-opacity="0.5" stroke="#3a3a3a" stroke-width="0.75"/>
<circle cx="372.1" cy="256.6" r="2.05" fill="#fff" fill-opacity="0.5" stroke="#3a3a3a" stroke-width="0.75"/>
<circle cx="372.1" cy="266.8" r="2.05" fill="#fff" fill-opacity="0.5" stroke="#3a3a3a" stroke-width="0.75"/>
<circle cx="372.1" cy="260.4" r="2.05" fill="#fff" fill-opacity="0.5" stroke="#3a3a3a" stroke-width="0.75"/>
<path d="M337.2 192V199.2M337.2 195.6H372.6M372.6 192V199.2" fill="none" stroke="#111" stroke-width="1.3"/>
<text x="355" y="191.7" font-size="11" text-anchor="middle">p&lt;0.0001</text>
<text x="291" y="167.2" font-size="10" text-anchor="middle">iii</text>
<text transform="translate(286 233.8) rotate(-90)" font-size="10.9" font-weight="bold" text-anchor="middle">CD57+</text>
<text transform="translate(299.5 233.8) rotate(-90)" font-size="10.9" font-weight="bold" text-anchor="middle">(% of cells)</text>
<text transform="translate(341.1 299.5) rotate(-45)" font-size="11.5" font-weight="bold" text-anchor="end">MAIT</text>
<text transform="translate(375.3 299.5) rotate(-45)" font-size="11.5" font-weight="bold" text-anchor="end">CD161- Vα7.2+</text>
<text x="6.5" y="380.2" font-size="14" font-weight="bold">C</text>
<text x="24.4" y="389" font-size="10" text-anchor="middle" stroke="#000" stroke-width="0.2">i</text>
<text x="91.8" y="385" font-size="12.7" font-weight="bold" text-anchor="middle">Day 0</text>
<text x="319" y="385" font-size="12.7" font-weight="bold" text-anchor="middle">Day 3</text>
<line x1="45" y1="390.8" x2="137.5" y2="390.8" stroke="#111" stroke-width="2"/>
<line x1="156.5" y1="390.8" x2="480" y2="390.8" stroke="#111" stroke-width="2"/>
<rect x="46.1" y="415" width="92.2" height="91.4" fill="none" stroke="#9a9a9a" stroke-width="0.8"/>
<text x="93.8" y="411.6" font-size="12" font-weight="bold" text-anchor="middle" letter-spacing="0.35">Uninfected</text>
<path d="M65.1 483.4h0.6m-0.5 -2.8h0.6m-2.6 0.4h0.6m5.1 2.1h0.6m-0.8 -0.6h0.6m-2.4 -0.2h0.6m-6.4 2.3h0.6m5.5 -1.2h0.6m-6.7 -7.6h0.6m1.6 4.3h0.6m2.8 1.4h0.6m0 -2h0.6m-1.2 3.5h0.6m-3.4 4.5h0.6m2.9 -1.7h0.6m-3.9 -6.6h0.6m0.1 2.1h0.6m2.2 1.2h0.6m-3.7 -4.1h0.6m-0.8 7.5h0.6m-1.4 -3.4h0.6m2.9 -5.9h0.6m-1.7 9.5h0.6m-6.3 -5.5h0.6m4.7 -1.7h0.6m1.1 2.6h0.6m-6.1 3h0.6m5.4 0.4h0.6m1.5 -2h0.6m-4.3 -5.6h0.6m0.8 2.3h0.6m-3.6 -2.2h0.6m-2 2.5h0.6m5.7 -5.1h0.6m-8.3 7.7h0.6m7.5 1.2h0.6m-9.9 -10.6h0.6m5.7 6.1h0.6m-4.7 5.8h0.6m5.6 -2.8h0.6m-3 1h0.6m3.2 0.6h0.6m-3.6 -0.2h0.6m-6.5 2.5h0.6m6.5 -2.6h0.6m-8.8 -4h0.6m7.3 -4h0.6m-3.5 9.7h0.6m-3.8 2h0.6m4.6 -6h0.6m-1.2 2.7h0.6m-1.2 1.7h0.6m-2.8 -5.3h0.6m4.2 1.5h0.6m-6 3.1h0.6m6 -4.7h0.6m-8.6 1h0.6m2.9 -0.5h0.6m3.7 -2.5h0.6m-1 -0.8h0.6m-6.3 6.4h0.6m4.8 0.8h0.6m-2.8 -2.4h0.6m-1.2 1.5h0.6m-1.5 -1.1h0.6m1.5 -0.9h0.6m-0.1 1.9h0.6m2.9 -0.8h0.6m-7.4 -2.4h0.6m0.6 4.4h0.6m-1.5 -1.8h0.6m5.4 -10h0.6m-8.8 9.5h0.6m3.6 0h0.6m-2.9 1.4h0.6m1.4 -4h0.6m5.4 3h0.6m-9 -1.5h0.6m0.4 0.1h0.6m-7.6 -1.5h0.6m9.8 -2.3h0.6m-3.6 7.2h0.6m2 1.9h0.6m-7.8 -6.3h0.6m3.2 3.3h0.6m3.5 -11.2h0.6m-0.7 4.2h0.6m-1.7 -0.2h0.6m-2 9.2h0.6m-1.5 -3.5h0.6m18.8 -15.1h0.6m1.5 17.2h0.6m-3.5 -22.4h0.6m6.7 -16.4h0.6m-8.8 17.3h0.6m-0.3 12.8h0.6m-0.4 -1h0.6m-26.9 -10.6h0.6m18.7 -6h0.6m-16 3.8h0.6m30.2 8.4h0.6m-9.5 -16.3h0.6m-12.8 5.6h0.6m22.1 20.9h0.6m-13.1 8.2h0.6m2.5 -25.3h0.6m-12.7 29.4h0.6m0.8 -27.8h0.6m9.4 6.7h0.6m-1.3 -18.6h0.6m12.3 24.6h0.6m-8.6 -16.7h0.6m-9.5 22h0.6m0.2 -12.5h0.6m6.7 -10.1h0.6m-29 17.8h0.6m10.2 8.7h0.6m6.7 -24.1h0.6m5.9 14.8h0.6m3.1 4h0.6m-3.4 -1.8h0.6m14.5 -2.8h0.6m-21.2 4.4h0.6m-21.8 -11.7h0.6m12.2 20h0.6m-1.9 -13.6h0.6m7 -5.4h0.6m-1.9 4.4h0.6m15.9 -13.8h0.6m-4 15.1h0.6m-20.1 -16.8h0.6m11.2 23h0.6m-19 -9.7h0.6m27.7 -0.8h0.6m-7.9 5.2h0.6m-11.8 -18.8h0.6m-10.1 13.6h0.6m18.3 -11.9h0.6m-15.4 7.4h0.6m-1.2 9.1h0.6m5 2.6h0.6m-9.6 5.7h0.6m-1.9 -29.4h0.6m19.9 8.2h0.6m-26.3 9.6h0.6m20.7 -9h0.6m10.5 8.4h0.6m-4 -3.2h0.6m6.4 -0.4h0.6m-24.2 -20.4h0.6m38.6 42.2h0.6m-17.4 -28.5h0.6m30.8 -20.6h0.6m-40.8 39.1h0.6m38.8 -12.9h0.6m-19.1 16.3h0.6m-21.2 -15.8h0.6m16.2 14.6h0.6m-5.2 -16.3h0.6m-14.3 -2.6h0.6m26.1 7.3h0.6m-25 -15.1h0.6m48.6 31.7h0.6m-29 -59.7h0.6m-0.8 49.2h0.6m14.3 -0.9h0.6m-25.1 1.6h0.6m-26.9 8.1h0.6m31.1 -27.7h0.6m13.5 40.1h0.6m-38.8 -39.6h0.6m23.1 13.6h0.6m-10.3 -18.5h0.6m34.7 32.2h0.6m-47 -38.1h0.6m39.9 37.3h0.6m1.1 -2.8h0.6m-38.3 -8.8h0.6m-18.6 -16.2h0.6m28.8 20.4h0.6m-10 -10.4h0.6m16 8h0.6m1.9 -2.7h0.6m-14 9.3h0.6m4.6 -25.8h0.6m-10.1 13.2h0.6m6.7 2.5h0.6m0.9 0.3h0.6m-2.5 -22.9h0.6m7.2 37h0.6" stroke="#151515" stroke-width="0.66" stroke-opacity="0.8" fill="none"/>
<ellipse cx="98.8" cy="458.6" rx="9" ry="10" fill="url(#core)"/>
<ellipse cx="100.4" cy="484.5" rx="7" ry="8.5" fill="url(#core2)"/>
<path d="M100.3 457.8h0.8m-0.7 -3.3h0.8m-9 4.4h0.8m2.5 2.8h0.8m-1.3 -14.1h0.8m-0.6 17.6h0.8m1.5 -12.4h0.8m-2.2 8h0.8m3.6 -1.5h0.8m2.7 2.3h0.8m-6.1 -0.5h0.8m5.1 1.6h0.8m-3 -8.6h0.8m-4.9 7.6h0.8m-1.3 1.4h0.8m2.3 -0.7h0.8m-3.6 6.9h0.8m4.2 -11.6h0.8m-4.8 11.8h0.8m-2.3 -7.2h0.8m3.8 -3.7h0.8m-8.3 0.8h0.8m4.6 3.9h0.8m0.6 -4.6h0.8m-0.5 2.2h0.8m-3.1 -2.1h0.8m-2.4 2.7h0.8m-3.6 -5.5h0.8m2.9 -3.5h0.8m-2.3 -2.3h0.8m-1.7 10.8h0.8m3.6 -2.6h0.8m-3.6 -5.8h0.8m6.4 8.2h0.8m-3.4 -5.9h0.8m-5.2 -3.9h0.8m2.5 11.5h0.8m-10.1 -4.1h0.8m8 -7.2h0.8m-9.4 2.9h0.8m3.4 -1.4h0.8m1.5 6.9h0.8m1.3 1.9h0.8m2.3 2h0.8m-10.7 -7h0.8m0.1 -2.4h0.8m2.6 4.5h0.8m1.2 -6.7h0.8m-6.8 6.6h0.8m2.8 -1.2h0.8m-0.3 -1.9h0.8m1.9 4.7h0.8m-3.6 -4.3h0.8m-1.1 -8.6h0.8m-3.6 11.6h0.8m-2.7 0.6h0.8m5 -6.6h0.8m-2.2 4.5h0.8m1.7 3.9h0.8m-2.5 -6.2h0.8m-1.2 3.3h0.8m2.3 1.5h0.8m-5.9 -6.9h0.8m0.4 2.6h0.8m-3.4 2.6h0.8m1.4 0.9h0.8m2.7 -2.1h0.8m5.5 0.3h0.8m-5 1.9h0.8m-0.8 -10.5h0.8m-7.3 11h0.8m3.9 8.8h0.8m-1.8 -4.4h0.8m0.8 -1.4h0.8m-1.7 -4.7h0.8m-0.8 -3.8h0.8m1.5 0.2h0.8m-4 13.2h0.8m-2.5 -8.8h0.8m4.1 0h0.8m-7.7 1h0.8m4 1.9h0.8m-5.5 4.4h0.8m7.7 -7.3h0.8m-5.7 -1.9h0.8m3.2 -1.2h0.8m-3.3 1h0.8m-5.6 5h0.8m6.3 -3h0.8m-7.9 3.4h0.8m1.4 -2.1h0.8m4.7 3.5h0.8m-7.9 4.8h0.8m1 -6.3h0.8m-3.1 -3.5h0.8m-4.6 7.7h0.8m10.1 -12.6h0.8m-10.9 -1.7h0.8m8.6 4.9h0.8m-5.1 0.6h0.8m-1 -3.3h0.8m-0.3 -1.4h0.8m-1.2 7.3h0.8m1.1 -2.3h0.8m-5.6 1.7h0.8m0.7 5.9h0.8m3.6 -7.1h0.8m-5.1 -2.5h0.8m-2.5 1.5h0.8m3.5 3.7h0.8m0.2 6.6h0.8m-5.3 -8.7h0.8m11.5 -7.9h0.8m-12.4 8.5h0.8m1.5 1h0.8m-2.1 -0.2h0.8m0.2 1.7h0.8m-7.6 -6.9h0.8m5.8 -0.6h0.8m-4.5 6.9h0.8m0.6 0.1h0.8m4.1 -1.4h0.8m-1.6 -1.7h0.8m-7.5 0.3h0.8m5.7 -2.1h0.8m-2.7 5.3h0.8m-3.6 -0.4h0.8m8.8 -5h0.8m-6.8 1.7h0.8m4.1 1.9h0.8m-3.1 -4.2h0.8m-4 2.9h0.8m-6.9 6.1h0.8m8.5 -13.4h0.8m-1.3 6.7h0.8m-1.8 2.1h0.8m-7.6 -2.4h0.8m9.6 -1.5h0.8m-9.6 -3.3h0.8m-1.5 7.1h0.8m9.4 0.4h0.8m-5.8 7.6h0.8m-3.5 -12.2h0.8m2.8 5.1h0.8m-6.2 -7.2h0.8m3.8 5.9h0.8m-6.4 -1.8h0.8m1.9 2.7h0.8m0.7 -2.3h0.8m-1.6 4.8h0.8m5.3 -5.9h0.8m-2.7 -1.7h0.8m-3.5 6.3h0.8m4.2 -4.7h0.8m-6.4 2.4h0.8m-5.7 -0.7h0.8m2 1.5h0.8m-2.4 -9.9h0.8m3.3 9.4h0.8m-2.8 2.6h0.8m0.1 -6.2h0.8m1.9 -4.1h0.8m-4.9 6.5h0.8m4.6 -0.6h0.8m-2.7 -2.1h0.8m-0.8 9.8h0.8m-4.3 2.9h0.8m-0.7 -9.8h0.8m2.1 4.2h0.8m-5.7 -13.1h0.8m5.6 12.1h0.8m-0.7 7.7h0.8m-2.3 -9.9h0.8m1.8 0.4h0.8m1.7 -6.7h0.8m-7.9 -9.3h0.8m3.3 12.9h0.8m-0.4 10.6h0.8m-4 -10.1h0.8m-2.5 -2.4h0.8m-1.3 6.2h0.8m1.5 -2.4h0.8m-1.5 3.5h0.8m1.5 -4.4h0.8m-0.2 0h0.8m-7.1 6.7h0.8m4.8 -10.1h0.8m1.4 5.4h0.8m-10.1 5.4h0.8m5.9 -3.1h0.8m-1.3 -4.3h0.8m-6.9 4.7h0.8m4.7 -5.3h0.8m0.3 1.5h0.8m0.4 -1.9h0.8m-3.3 -7.4h0.8m-2.2 11.8h0.8m5.4 -4.3h0.8m-5.9 8.2h0.8m-1.5 -3.6h0.8m6.2 -2.9h0.8m-2.4 -3.2h0.8m-4.4 2.7h0.8m-1.1 5h0.8m7.2 -7.5h0.8m-11.2 4.9h0.8m-2.5 0h0.8m4.9 -3.3h0.8m-0.9 -5.3h0.8m0 0h0.8m-5.9 4.2h0.8m0.2 5.9h0.8m0.9 -5.3h0.8m0.8 8.3h0.8m-2.7 -5.1h0.8m3.5 -0.4h0.8m-9.6 9.4h0.8m11.4 -18.8h0.8m-8.6 10.1h0.8m2.7 1h0.8m-5.2 -7.2h0.8m0.6 8.7h0.8m-5 -8.6h0.8m2.9 -3.8h0.8m-1.6 6.3h0.8m1.7 -1.1h0.8m-5.5 1.2h0.8m2.1 -1.1h0.8m-0.6 6h0.8m3.3 4h0.8m-7.6 -9h0.8m-6.8 9.8h0.8m5.4 -8.1h0.8m3.5 -5.6h0.8m-1 5.6h0.8m-8.8 1.3h0.8m9.8 -9h0.8m-2.2 8.7h0.8m-1.9 1h0.8m2.1 -2.8h0.8m-2.3 -0.8h0.8m-1.4 -1.7h0.8m-3.7 10.7h0.8m1.2 -8h0.8m-6.4 -2.6h0.8m3.9 7.2h0.8m0 -1.7h0.8m-2.4 3.5h0.8m-2.1 -8h0.8m3.7 2.6h0.8m-4.9 -2.7h0.8m-0.7 5h0.8m1.3 -7.7h0.8m-0.5 5.9h0.8m-5.8 2.4h0.8m1.7 -4.6h0.8m3 6.9h0.8m-6 -3.7h0.8m-1.5 7.9h0.8m0.6 -4.7h0.8m-1.4 -1.6h0.8m9.3 -14.1h0.8m-10.1 12.8h0.8m0.4 -4.9h0.8m7 3.1h0.8m-14.1 3.3h0.8m-1 1.2h0.8m3.2 -4.2h0.8m5.6 -0.1h0.8m-10.1 -7.6h0.8m8.2 10.2h0.8m-7.8 0.5h0.8m3.8 -0.9h0.8m-10.4 -4h0.8m10.3 4.4h0.8m-0.9 -13.4h0.8m-3.3 12.4h0.8m7.5 -6.1h0.8m-10.9 4.2h0.8m3.5 -2.1h0.8m0.1 -1.4h0.8m-3.9 1.1h0.8m-1.1 -0.7h0.8m-7 7.5h0.8m5.9 -6.9h0.8m-1.2 6.5h0.8m-4.9 -4.7h0.8m4.5 2.7h0.8m-3.9 -11h0.8m4.8 10.2h0.8m-5.2 -2.6h0.8m0.1 -0.6h0.8m-5.3 -1.3h0.8m0.7 0.5h0.8m-2.8 5.3h0.8m-1.3 0.1h0.8m0.2 -1.3h0.8m7.6 -0.6h0.8m-8.2 -0.7h0.8m2.3 -7.5h0.8m-3.4 8h0.8m-0.3 -0.4h0.8m3.4 2.9h0.8m-0.2 -0.7h0.8m-5 -2.6h0.8m-0.7 -1.2h0.8m-0.5 -5.9h0.8m-1.4 7.1h0.8m-3 0h0.8m4.4 -0.6h0.8m4.7 -10.2h0.8m-8.8 3.2h0.8m3.3 18.8h0.8m-13 -10.6h0.8m9.8 -1.8h0.8m-0.7 -8.1h0.8m0.3 11h0.8m-3.7 -4.1h0.8m1.3 0.5h0.8m-2.2 -0.1h0.8m-9.5 2h0.8m7.8 3.3h0.8m-4.6 -3.3h0.8m4.5 0.7h0.8m1.3 7.8h0.8m-8.3 -16.5h0.8m5.4 14.5h0.8m-0.6 -3h0.8m-6.2 -6.4h0.8m4.5 -0.8h0.8m-10.2 -0.4h0.8m14.2 12.3h0.8m-11.9 -11.2h0.8m2.4 0h0.8m3 2.8h0.8m-9.2 5.8h0.8m1 -4.6h0.8m1.2 -2.2h0.8m0.3 -1.6h0.8m-8.4 -6.4h0.8m1.3 6.1h0.8m3.5 3.4h0.8m1.2 0.3h0.8m-5.5 -3.5h0.8m-5.4 2.3h0.8m8.3 2.9h0.8m-2.9 -2.9h0.8m2.9 0.8h0.8m-1.5 2.3h0.8m-2.7 3.1h0.8m-3.5 -7h0.8m-1.6 -1.8h0.8m7.4 10.7h0.8m-6.1 -5h0.8m3.2 1h0.8m-0.7 -8.7h0.8m-7.2 7.2h0.8m6.4 -1.5h0.8m-8.8 -1.9h0.8m-0.1 -2.1h0.8m6.8 1h0.8m-6 11.7h0.8m3.2 -7.7h0.8m-7 0.3h0.8m7 0.9h0.8m-2.1 -2.2h0.8m-3.4 -1.2h0.8m-1.1 6.3h0.8m-7.3 -5.8h0.8m5 -2.1h0.8m-2.7 5.7h0.8m7.3 -0.7h0.8m-6.7 -9.1h0.8m4.8 6.8h0.8m-7.6 -5h0.8m-0.9 0.1h0.8m-0.4 6.6h0.8m-0.9 -0.8h0.8m-3.9 4.8h0.8m-0.1 -13.6h0.8m0.8 4.4h0.8m-3.6 1.7h0.8m3.7 -3.5h0.8m-2.3 11h0.8m2.1 -6.6h0.8m-2.8 0.1h0.8m-1.4 3.6h0.8m-0.9 -13.2h0.8m-0.6 6.4h0.8m1.6 1.1h0.8m-2.6 11.7h0.8m-5 -13.8h0.8m-2 -5.4h0.8m-2.5 11.6h0.8m3.6 -9.3h0.8m-3.8 10.4h0.8m1.7 -4.1h0.8m3.1 7.2h0.8m4.8 -1.4h0.8m-7.1 -3.5h0.8m5 5.2h0.8m-8.2 -4.1h0.8m1.3 -1.7h0.8m-3.6 -5.8h0.8m-0.9 -0.9h0.8m5.4 8.8h0.8m-9.3 3.6h0.8m6.5 -13.9h0.8m2.5 11.4h0.8m0 -8.6h0.8m-6.1 7h0.8m-2 -1.1h0.8m2.2 -7h0.8m-8.8 0.4h0.8m1.5 3.4h0.8m2.5 3.6h0.8m-2 -3.9h0.8m-2.4 6.8h0.8m3.4 -3.6h0.8m-4.6 6.1h0.8m-1.8 -3.8h0.8m5.3 -3.8h0.8m-1.9 -3.6h0.8m-0.2 5.5h0.8m-9.9 2h0.8m1.7 2.6h0.8m-0.1 -6.1h0.8m2.6 -0.7h0.8m-0.9 -0.9h0.8m0.7 2.3h0.8m-2.5 -11.6h0.8m2.6 11.7h0.8m-11.1 0.3h0.8m7 4.1h0.8m-6.2 2h0.8m2.4 3.6h0.8m-0.7 -7.2h0.8m-1.6 -7.6h0.8m4.3 8.5h0.8m0.8 -0.2h0.8m-8.2 -10.6h0.8m-1.1 4.2h0.8m-1.4 5.2h0.8m3.2 -3.5h0.8m-1.3 0.5h0.8m-0.7 3.8h0.8m1.9 -6.1h0.8m-9.5 8.9h0.8m4.9 -1.4h0.8m-7 -6h0.8m5.1 -4.7h0.8m-2.7 9.1h0.8m4.8 3.7h0.8m-7.6 -12.6h0.8m4 9.8h0.8m-1.9 -9.4h0.8m1.2 8.8h0.8m-1.6 -5.3h0.8m-1.6 5.3h0.8m-3.9 -11h0.8m2.4 9.7h0.8m-2 1.7h0.8m-2.9 -4h0.8m0.2 2.7h0.8m5.9 -3.5h0.8m0.8 7.5h0.8m-5.2 -3.9h0.8m2.6 -3.3h0.8m-7.4 -3.7h0.8m1.3 10.1h0.8m-0.6 -3.8h0.8m-3.4 -1.1h0.8m-5.1 3.7h0.8m2.8 -9h0.8m-2 1.1h0.8m4.8 7.9h0.8m-8.6 -0.5h0.8m7.1 -6.3h0.8m-9.1 -0.7h0.8m2.2 4.5h0.8m0.1 -9.9h0.8m1.3 2.1h0.8m1.6 1.3h0.8m-6.4 1.5h0.8m-0.3 9.1h0.8m4.1 -3h0.8m-2.7 -9h0.8m-3.7 4.2h0.8m-2.4 4.4h0.8m0 -5.1h0.8m-1.9 -5.6h0.8m5 14.2h0.8m-2.3 -9.7h0.8m-10.9 4.8h0.8m13 0.5h0.8m-1.9 5h0.8m-0.1 -8.1h0.8m-1 5.2h0.8m-9.9 -5h0.8m-0.4 1.2h0.8m6.2 -4h0.8m-10 10h0.8m7.7 0.7h0.8m-6.7 -1.7h0.8m11.1 3.9h0.8m-8.8 -7.3h0.8m-0.6 3.1h0.8m3.3 -3.8h0.8m-9.2 2.7h0.8m2.4 -0.5h0.8m1.7 4.2h0.8m2.3 -8.7h0.8m-3.6 9.3h0.8m-3.9 -5.6h0.8m5.3 3.5h0.8m-3.2 -10.8h0.8m-7 6.5h0.8m5 9.7h0.8m-5.2 -5.9h0.8m4.9 -11.8h0.8m-6.4 7.7h0.8m0.4 -1.3h0.8m2.5 -2.8h0.8m-0.8 0.7h0.8m-4.3 5h0.8m-0.9 -1.1h0.8m6.8 -1.1h0.8m-6.9 3h0.8m-1.6 1.4h0.8m-4 -1.9h0.8m1.9 -6h0.8m7.2 -0.2h0.8m-0.9 6.4h0.8m-1.8 -6.9h0.8m-1.7 10.2h0.8m-5.4 -6.6h0.8m8.2 1.2h0.8m-10.9 -3.3h0.8m2.3 4h0.8m-1.8 5.8h0.8m-2.5 -5.2h0.8m5.4 -6.2h0.8m-2.3 11.9h0.8m-9.1 -12.3h0.8m0.3 -3.2h0.8m4.4 0h0.8m-0.7 13.9h0.8m-8.2 -7.4h0.8m-1.8 4.6h0.8m3.3 -4.4h0.8m2 3.4h0.8m-2.2 -2.2h0.8m-1.5 0.4h0.8m-3 -0.2h0.8m-3.5 -2.4h0.8m12.7 2.4h0.8m-11.9 0.8h0.8m0.2 -8h0.8m0 10h0.8m3.1 -3.5h0.8m-5.3 -4.1h0.8m7.1 5.5h0.8m-8.8 -9.9h0.8m-2.3 19.3h0.8m0 -10.7h0.8m3.9 -0.4h0.8m-2.5 -5.1h0.8m-3.5 12.9h0.8m0.3 -3.5h0.8m-4.1 -4.8h0.8m6 5.6h0.8m-5.6 -1.9h0.8m4.5 -5.6h0.8m-0.5 -0.7h0.8m-5.3 3.7h0.8m-7.5 -0.4h0.8m5.2 -5.6h0.8m1.2 9.3h0.8m-0.7 2.1h0.8m-3.5 -10.8h0.8m8.7 7.2h0.8m-2.9 -5.2h0.8m-1.3 4.6h0.8m-1.3 -1h0.8m1.1 -2.8h0.8m-8.4 -3.5h0.8m6.7 3.1h0.8m-8.6 -0.8h0.8m1.3 -1.4h0.8m-0.2 2.7h0.8m-1.7 -1.4h0.8m1.2 2.1h0.8m-0.5 2.9h0.8m0 -10.2h0.8m-3.9 5.9h0.8m3.8 -3.3h0.8m-6 5.4h0.8m0.5 5.4h0.8m-1.1 -0.1h0.8m-4.4 -11.7h0.8m8.6 9.4h0.8m-3.4 -1.3h0.8m-0.8 -5.6h0.8m0.8 2.9h0.8m-0.7 2.6h0.8m-11.1 -5.8h0.8m10 4.8h0.8m-6.1 1.6h0.8m-0.9 -3.3h0.8m1.1 2.9h0.8m4.1 -0.4h0.8m0.5 7.4h0.8m-1.4 -3.1h0.8m-6.3 -3.9h0.8m-1.8 -3.7h0.8m-0.5 0.4h0.8m5.1 4.9h0.8m-8.1 -10.2h0.8m0.6 6.3h0.8m-4.4 -3.1h0.8m-4.9 7.2h0.8m6.9 8.4h0.8m-0.7 -11.4h0.8m4.4 1.2h0.8m-5.3 -2.2h0.8m-3.5 7.9h0.8m4.8 0.9h0.8m-5.5 -7.1h0.8m-2.7 4h0.8m-2.6 -1.7h0.8m7.9 3.5h0.8m-7.9 -1.3h0.8m0 -7.8h0.8m-2.9 8.1h0.8m9.6 -7.4h0.8m-9.3 1.1h0.8m10.7 5.6h0.8m-11.5 -11.7h0.8m-1.3 12.5h0.8m8.1 -6.1h0.8m-9.7 -1h0.8m-5 5.9h0.8m2 0.7h0.8m-3 -9.8h0.8m6.2 2.1h0.8m0.9 3.2h0.8m-7.6 2.6h0.8m6.2 -10.6h0.8m2.7 10.1h0.8m-4.5 -9.9h0.8m-6 6.3h0.8m5.5 -4.6h0.8m-7.7 -2.4h0.8m1.5 10h0.8m-5.9 -4h0.8m6.9 9.2h0.8m-0.3 -8h0.8m-7.2 -2.6h0.8m1 4.5h0.8m1.3 6.4h0.8m0.4 -11.5h0.8m3.6 8.5h0.8m-5.8 -7h0.8m-7.7 -1.3h0.8m8.9 0.9h0.8m-8.6 4.2h0.8m4.7 1.7h0.8m0.6 3.4h0.8m-6 -1.8h0.8m-1.4 -1.2h0.8m3.3 -1.9h0.8m2 -1.1h0.8m-0.3 3.8h0.8m-4.2 -6.1h0.8m-3.9 0.2h0.8m1.1 2.1h0.8m10.3 2.8h0.8m-8.5 -6.3h0.8m-6 2.3h0.8m2.4 -3.1h0.8m4.1 2h0.8m-2.6 -7.4h0.8m-4.6 11h0.8m-0.1 1.3h0.8m-0.5 -1.8h0.8m-8.4 -3.7h0.8m-2.4 5.6h0.8m8.5 -3.4h0.8m-4.8 -1.6h0.8m8.6 9.7h0.8m-7.5 -1.9h0.8m-6.2 -13.5h0.8m3.1 4.4h0.8m-1.1 4.5h0.8m11.8 -3.6h0.8m-11.2 4h0.8m-1.1 2.7h0.8m5.5 -9.1h0.8m-6.4 4.1h0.8m-0.2 -5.3h0.8m-11.6 -7.1h0.8m11.9 15.1h0.8m-3.3 -15.4h0.8m-3.3 9.7h0.8m-6.6 -1h0.8m11 8.8h0.8m-4.8 -0.2h0.8m-4.1 -2.7h0.8m2.8 2.9h0.8m-1.4 -4.2h0.8m-1.2 -3h0.8m12.5 7h0.8m-10.9 10.6h0.8m4.7 -23h0.8m-4.8 14.3h0.8m5.9 2.9h0.8m-7.1 -15h0.8m-10 8.7h0.8m6.9 -7.7h0.8m-5.8 3.7h0.8m1.7 4.4h0.8m-2.7 -9.4h0.8m7.8 17h0.8m-8.4 -3.5h0.8m2.3 -2.1h0.8m-0.6 -8.6h0.8m-0.3 10.7h0.8m-9 5.7h0.8m15.9 -0.9h0.8m-1.4 -6.4h0.8m-13.8 -8.1h0.8m-3.5 4.3h0.8m3.6 3.3h0.8m-11.9 9.9h0.8m23.2 -14.1h0.8m-9.7 3.1h0.8m-3.1 -4.2h0.8m-3 -3.6h0.8m0.9 4.8h0.8m0 -5h0.8m-2.4 5.4h0.8m2.4 -6.7h0.8m-1.9 12.3h0.8m0.2 -8.1h0.8m-6.9 0.8h0.8m6.1 10.7h0.8m-5.8 -13.2h0.8m2.2 5.1h0.8m-8 -5.6h0.8m3.7 8.4h0.8m-6.9 -10.1h0.8m8.7 -1.2h0.8m-3 9.4h0.8m-2 -8.2h0.8m-0.5 4.1h0.8m1.4 -3h0.8m3.4 -5.1h0.8m-7.9 10.1h0.8m5.6 -3.7h0.8m-3.1 0.3h0.8m0.2 13.8h0.8m-7.1 -7.7h0.8m-3.8 3.1h0.8m11.2 -5.6h0.8m-14 2.2h0.8m12 4.1h0.8m-2.6 -17.5h0.8m-9.2 19.5h0.8m-3.9 -1.7h0.8m16.6 -2.2h0.8m-5 -6.6h0.8m-14 1.4h0.8m5 0.3h0.8m4.2 -0.6h0.8m-3.6 3.4h0.8m-1.9 8.6h0.8m1.7 -10.6h0.8m-4.5 -4.3h0.8m7.9 4.7h0.8m-14.3 -4.3h0.8m4.4 0.7h0.8m6.1 -4.3h0.8m-4.1 7.9h0.8m-10.2 -0.6h0.8m5.3 2.7h0.8m-2.8 -1.2h0.8m-7.6 -8.3h0.8m12.9 12.7h0.8m-5.3 -9.8h0.8m5.4 -9h0.8m-11.4 16.6h0.8m7.4 -10.2h0.8m-15.1 14.9h0.8m10.7 -14.1h0.8m-1.4 10.8h0.8m-15.6 1.3h0.8m17.8 -19.2h0.8m-0.6 1.8h0.8m1.3 13.1h0.8m5.4 -6.1h0.8m-13.4 10h0.8m-4.4 -10.5h0.8m0.7 3.8h0.8m-4.8 3.3h0.8m8.3 -2.5h0.8m5.7 -2.4h0.8m-3 -1.3h0.8m-3.9 -8.3h0.8m-3.9 10.5h0.8m-4.7 -2.6h0.8m0.1 -0.6h0.8m-11.2 0.7h0.8m8.4 0.5h0.8m-3.6 2.3h0.8m9.5 -0.7h0.8m-8 9.6h0.8m7.5 -2.6h0.8m0.2 -7.5h0.8m-8 8.7h0.8m-3.2 -7.4h0.8m4.4 2.9h0.8m-4.4 3.7h0.8m-0.3 -1.5h0.8m6.2 -0.4h0.8m-2.7 -11h0.8m-12.2 3.3h0.8m9.2 12.7h0.8m-10.3 -7.2h0.8m1.2 -6.2h0.8m2.5 8.6h0.8m1.9 2.9h0.8m-7.5 -1.8h0.8m9.9 -4.9h0.8m-3.3 -3.8h0.8m-9.6 1h0.8m1.7 19.7h0.8m0.1 -7.4h0.8m3 -8h0.8m2.3 -6.6h0.8m0.1 7h0.8m-14.4 1.3h0.8m10.8 -0.9h0.8m5 -5.2h0.8m-6.8 7h0.8m-8.7 2.7h0.8m-3.9 -15h0.8m10.2 1.3h0.8m-4.4 -3.4h0.8m0.3 3.1h0.8m0.7 -2.4h0.8m-0.2 7.6h0.8m-2.9 1.2h0.8m-0.5 -7.5h0.8m-15.9 8.1h0.8m8.4 -2.9h0.8m6.8 -9.2h0.8m-7.5 8.2h0.8m-2.4 5.7h0.8m4.3 -6.9h0.8m-5.5 9.7h0.8m1 -1.3h0.8m5.4 -14.9h0.8m-9.4 11.4h0.8m7.2 4.7h0.8m1.8 1.5h0.8m-7.4 -7.5h0.8m5.6 -1.3h0.8m0.8 -6.9h0.8m-3 8.5h0.8m-15.5 6.9h0.8m11.9 -5.8h0.8m-8.5 -2.9h0.8m13.7 -2.2h0.8m-28.7 -0.1h0.8m11.9 4.3h0.8m3.7 -4.7h0.8m-3.3 11.8h0.8m-4.2 5.4h0.8m4.3 -18.3h0.8m6.6 10h0.8m-11 1.1h0.8m-5.3 -10h0.8m15.8 4h0.8m-14.4 4.6h0.8m11.6 -3.2h0.8m-16 -2h0.8m11.6 6.7h0.8m7.3 -6.1h0.8m-13.9 1.3h0.8m8.7 -5.4h0.8m-0.3 -10.9h0.8m-3.6 12.4h0.8m-2.7 8.2h0.8m-10 -4.6h0.8m7.1 4h0.8m-7.3 -9.4h0.8m-6.4 21.1h0.8m8.9 -16.5h0.8m-8.1 6.9h0.8m4.6 3h0.8m7 -8.5h0.8m-1.5 -6.8h0.8m-6.7 3.2h0.8m-6.1 3.6h0.8m5.5 8.5h0.8m-18.8 -12.6h0.8m12.9 1.2h0.8m6.7 5.2h0.8m-3 -5.2h0.8m1.8 5h0.8m-13.9 -3.8h0.8m1.8 -5.5h0.8m7.7 7.5h0.8m-1 -5.7h0.8m-2.5 -0.2h0.8m2.4 9.6h0.8m6.9 3.5h0.8m-15.1 -10.3h0.8m-1.6 4.5h0.8m15.6 2.5h0.8m-24.2 -11.8h0.8m4.3 10.6h0.8m6.4 -1.3h0.8m9.2 -6.8h0.8m-15.5 16.8h0.8m5.8 -16.5h0.8m-14.1 -4.4h0.8m-3.1 9.5h0.8m13.1 5.6h0.8m-1.8 -10.2h0.8m-4.2 15.6h0.8m-6.5 -10.4h0.8m9.2 2.7h0.8m-3.2 -0.7h0.8m6.1 -3.9h0.8m-8 -0.2h0.8m-3.6 -0.1h0.8m2.9 2.5h0.8m8.4 6.5h0.8m-10.8 -4.2h0.8m3.4 1h0.8m-2.4 -3h0.8m-3.5 -6.3h0.8m6.7 12.5h0.8m-2 -5.2h0.8m-3 -5.3h0.8m-12.3 6.7h0.8m10.3 -7.3h0.8m-7.3 11h0.8m-5.5 2.9h0.8m12.9 3.6h0.8m-8.4 -14.3h0.8m0.4 1h0.8m0.8 -5.4h0.8m6.4 -0.2h0.8m-9.6 8h0.8m-1 -5.9h0.8m4.2 0.4h0.8m-9.8 1.6h0.8m5 10.8h0.8m-5.7 -4.4h0.8m0.9 -7.9h0.8m1.8 3.7h0.8m5.8 8.9h0.8m-9.2 -2.5h0.8m8.4 -3.1h0.8m-10.7 0.5h0.8m2.9 -3.3h0.8m-1.7 1.9h0.8m6.9 2.8h0.8m-8.1 -0.8h0.8m8.4 -11.6h0.8m-0.7 -2.4h0.8m-6 11.6h0.8m4.5 -1.9h0.8m-11.8 -6.5h0.8m-5.1 9.4h0.8m4.9 -8.9h0.8m3.5 -0.3h0.8m-6.2 1.8h0.8m10.9 11.6h0.8m-11 -18.2h0.8m1.6 9.8h0.8m-0.3 3h0.8m-4.6 2.2h0.8m5.7 -4.3h0.8m-7.8 -4.2h0.8m5.4 -3.7h0.8m-5.6 2.1h0.8m-7.7 8.1h0.8m6.9 -3.4h0.8m4.2 -9.2h0.8m-6.1 10.7h0.8m4.3 -8.2h0.8m-1.5 7.8h0.8m2.8 5.5h0.8m-5.3 6.1h0.8m-3.9 -15.4h0.8m-2.7 -3.1h0.8m0.9 -5.7h0.8m-1.1 13.9h0.8m5.3 -4.7h0.8m1.4 -1.8h0.8m-9.4 -7.4h0.8m-4.3 6.6h0.8m11.7 7.8h0.8m-15 0h0.8m7.8 -4.5h0.8m-3.3 -0.4h0.8m-3.9 -8.6h0.8m1.7 17.9h0.8m7.5 -9.1h0.8m-12.7 0.4h0.8m8.2 3.3h0.8m-8.9 0h0.8m1.3 0.9h0.8m-1.9 -11.6h0.8m1.7 13.1h0.8m-7.1 -5.1h0.8m10 -1.6h0.8m-6.9 37.6h0.8m5.3 -4.9h0.8m-8.1 3h0.8m-3.7 -10.5h0.8m9 9h0.8m-7.6 -9.7h0.8m3.8 -6.2h0.8m1 12.1h0.8m-5.2 -0.1h0.8m4.2 -1.1h0.8m-1.9 5.9h0.8m-4.8 -6.6h0.8m-1 4.2h0.8m-0.4 -2.7h0.8m1.5 -2h0.8m5.6 -0.7h0.8m-2 4.4h0.8m-1.2 -4.8h0.8m-2.4 4.5h0.8m-7.1 -2.4h0.8m1.2 -1.5h0.8m5 -3.3h0.8m-12.9 -4.9h0.8m4.2 5.3h0.8m1.1 5.8h0.8m6.2 -1.2h0.8m-6 -5h0.8m-0.3 10.1h0.8m2.2 -16h0.8m-2.6 17h0.8m-1.1 -14.8h0.8m-5.3 10h0.8m2.1 -6.7h0.8m-6.1 8.6h0.8m-2.6 2.2h0.8m4.7 -5.5h0.8m-6.3 -4.3h0.8m7.4 -4.2h0.8m4.8 0.3h0.8m-14.1 7h0.8m6 3.3h0.8m-4.2 -4.5h0.8m-0.3 -1.8h0.8m-10.2 7.4h0.8m10.6 -3.8h0.8m-4.3 0.4h0.8m1.6 -1.6h0.8m3.8 -7.9h0.8m-4.3 3.2h0.8m-3.1 12.3h0.8m-3.9 -7.7h0.8m1.2 5.1h0.8m-2.4 -12.7h0.8m5.3 6.4h0.8m-4.2 6.9h0.8m-3.1 -7h0.8m3.4 3.8h0.8m-3.5 3h0.8m10.3 -7h0.8m-2.3 -8.1h0.8m-2.6 8.4h0.8m-5.9 0.1h0.8m-4 -4.5h0.8m0.2 12.3h0.8m5.4 -7.9h0.8m-7.5 -1.7h0.8m-3.5 12.1h0.8m6.7 -8.1h0.8m-5.5 -5.5h0.8m6.5 8.6h0.8m-9.9 1h0.8m-1.5 -1.6h0.8m-0.2 -5.1h0.8m5.1 4.1h0.8m1.3 -6.1h0.8m1.5 10.5h0.8m-7.2 -4.3h0.8m-3.9 -2.9h0.8m-3 1.1h0.8m5.3 6h0.8m2.2 -2.5h0.8m-6.1 -5h0.8m-0.7 2.2h0.8m-7.2 2.6h0.8m0.7 -6.2h0.8m5.6 0h0.8m5.8 2h0.8m-1.2 6.1h0.8m-9.1 -3.7h0.8m6.4 -3.5h0.8m-5.6 -1.1h0.8m-1 1h0.8m-0.7 6.5h0.8m4.5 -4.2h0.8m-5.6 3.5h0.8m-2.8 -9.2h0.8m4.9 0.6h0.8m-1.5 -0.1h0.8m2.8 -0.4h0.8m-4.8 12.2h0.8m-8.1 -0.1h0.8m-0.2 -15.6h0.8m5.4 11.9h0.8m-4.5 -15.5h0.8m-0.2 10.6h0.8m-2.1 0.1h0.8m-6.5 -1.3h0.8m13.7 10.1h0.8m-9.6 -10.8h0.8m2.3 8.5h0.8m0.5 -10.7h0.8m-3 6.3h0.8m4.3 5h0.8m-4.5 0.1h0.8m-4.5 1.6h0.8m-0.9 -5.5h0.8m4.6 -6.3h0.8m-7.3 -4h0.8m2.7 8.1h0.8m-2.8 2.7h0.8m-8 -2.5h0.8m8.1 -1.2h0.8m2 9.7h0.8m-5.8 -12.9h0.8m-1.4 4.9h0.8m4 -4.5h0.8m0.8 -0.8h0.8m-1.5 7h0.8m-2.2 8.3h0.8m-3.8 -11.2h0.8m2.2 4.9h0.8m-8.1 -2.8h0.8m1.6 1.7h0.8m7.7 -2.8h0.8m-6.7 0.7h0.8m-12.3 2.8h0.8m13.4 -2.9h0.8m-4.7 -4.3h0.8m0.1 9.3h0.8m-0.5 0.7h0.8m-10.8 -8.7h0.8m10.7 2.1h0.8m-8.6 -3.1h0.8m10.9 -3h0.8m-9.8 0.9h0.8m1 8.4h0.8m3.8 -12.8h0.8m2.7 6.9h0.8m-9.1 10.8h0.8m1.3 -14h0.8m-3.1 2.5h0.8m-2.3 1.9h0.8m6.8 3.3h0.8m-9.9 11.7h0.8m0.8 -12.8h0.8m3.3 3.1h0.8m-2.2 -1.5h0.8m9 -1.7h0.8m-13.7 1.1h0.8m0.4 -3.4h0.8m3.2 3.4h0.8m-2.7 2.5h0.8m-0.5 -10.4h0.8m3.5 4.6h0.8m0.6 -1.4h0.8m-3.4 4.6h0.8m-14 -8.7h0.8m5.6 14h0.8m-3.9 -2.4h0.8m11.2 -2h0.8m-2.5 -4.8h0.8m-3.5 3.5h0.8m0.9 2.3h0.8m-3.3 -6.8h0.8m-2.3 5.4h0.8m-5.2 -8h0.8m4.2 3.3h0.8m-0.2 -10.1h0.8m-1.1 11.6h0.8m3.7 -8.3h0.8m-5.1 11.8h0.8m2.4 3.4h0.8m1.5 -10.7h0.8m-2.5 3.4h0.8m-6.6 9h0.8m-0.1 -11.5h0.8m0.1 0h0.8m4.9 5.9h0.8m0.8 0.2h0.8m-9 3h0.8m-0.9 -7.2h0.8m1.1 2.4h0.8m4.7 -3.1h0.8m-4.2 2.8h0.8m-7.3 -5.2h0.8m3.4 7.2h0.8m1.4 0.4h0.8m-1.9 -4.5h0.8m0.7 -2.6h0.8m-7.9 3.2h0.8m-1.2 -0.9h0.8m2 -0.2h0.8m2 -1.2h0.8m-2.3 -4.3h0.8m1.5 4h0.8m0.2 -9.4h0.8m-5.6 14.8h0.8m-7.5 -2.9h0.8m9.5 2.2h0.8m-7.3 0.6h0.8m5.9 -5.8h0.8m1.6 4.5h0.8m-3.7 -2h0.8m1.3 2.7h0.8m1.6 1.7h0.8m-7.9 -3.3h0.8m5.4 -0.7h0.8m-2.9 4.3h0.8m-3.1 -13.7h0.8m0.4 12.2h0.8m-0.7 -4.7h0.8m3.5 3h0.8m-8.2 -2.8h0.8m3.2 -1.8h0.8m-6.4 15h0.8m8.6 -4.6h0.8m-0.6 -2.2h0.8m-13.1 2.9h0.8m11 -3.4h0.8m-13.8 3.6h0.8m12.8 -8.4h0.8m-5.9 6.2h0.8m-1.6 1.5h0.8m-0.2 -2h0.8m-0.8 -10.5h0.8m-5.1 22.5h0.8m4.3 -9h0.8m2.7 2h0.8m-3.1 -11.2h0.8m-3 -6.4h0.8m-1.7 13.7h0.8m-8.8 -3.4h0.8m11.4 5.4h0.8m-8 -9.6h0.8m-4.6 -1.7h0.8m9 14.9h0.8m-7.7 -3.3h0.8m5.6 -9.1h0.8m6.4 -9.8h0.8m-10 13.3h0.8m8.2 7.6h0.8m-0.3 -8h0.8m-6 5.9h0.8m-2.7 -4.9h0.8m-3.6 -3.7h0.8m-5.1 11.5h0.8m2.4 -19.6h0.8m2.1 9.9h0.8m-1.2 9h0.8m-1.9 -10.1h0.8m-3.4 1.2h0.8m0.4 1.1h0.8m13.8 0.9h0.8m-17.1 7.5h0.8m6.2 -5.4h0.8m-1.4 0h0.8m-0.9 2.9h0.8m0.5 -0.3h0.8m-7 -6.6h0.8m-1.7 4.7h0.8m5.6 -7h0.8m-1.8 15.1h0.8m1.9 -18.2h0.8m-6.3 8.5h0.8m-0.5 -1.2h0.8m4.1 -0.3h0.8m-10.1 1.9h0.8m3.3 -2.9h0.8m-2.7 -7.3h0.8m-3.6 5h0.8m-0.1 -11.5h0.8m8.3 7.5h0.8m-8.5 8.3h0.8m-7.7 3.9h0.8m6 -3.3h0.8m0.3 -1.7h0.8m1.6 -1.5h0.8m-8.7 -7.2h0.8m6.5 14.1h0.8m-2.8 -4.3h0.8m2.1 -0.2h0.8m2.6 -9.7h0.8m-3.8 6.4h0.8m-3.2 -3.3h0.8m-2.7 -0.8h0.8m-2.1 17.2h0.8m10.7 -12.2h0.8m-4.8 -4.8h0.8m-15.2 -4.1h0.8m11.2 15.9h0.8m-1.6 -11.9h0.8m-1.6 0h0.8m-5.5 3.8h0.8m3.3 -2.9h0.8m-2.8 -0.5h0.8m3.8 11.3h0.8m-2.7 4.1h0.8m-6.5 -9.6h0.8m1.1 -2.1h0.8m4.3 3.5h0.8m3.4 -5.4h0.8m-10.5 1.8h0.8m5.5 -2.5h0.8m1.7 11.6h0.8m-10.3 -6.4h0.8m9.2 -11.2h0.8m-4.2 8.3h0.8m-7.4 7.5h0.8m5.9 -8.7h0.8m0.1 5.4h0.8m0.5 -0.3h0.8m-2.2 -8.5h0.8m-4.2 6.3h0.8m-10.4 9.8h0.8m8.9 -15.5h0.8m-6.6 6.3h0.8m6.7 -4h0.8m-2.6 -1.5h0.8m-2.2 3.8h0.8m-0.3 3.8h0.8m1.2 -2.7h0.8m1.5 5.6h0.8m0 -5.1h0.8m-4 -5h0.8m-1.5 7.2h0.8m1.5 -5.2h0.8m-7.2 -5.6h0.8m6 12.5h0.8m-0.6 -11.7h0.8m-3.2 7.8h0.8m-3.7 0.6h0.8m2.2 -5.8h0.8m-5.1 8.1h0.8m5.8 -8.3h0.8m-6.5 8.6h0.8m5.8 -5.8h0.8m3.3 0.1h0.8m-11.6 6.7h0.8m2.7 -3.6h0.8m0.2 -6.6h0.8m-5.9 4h0.8m9.8 -4h0.8m-0.9 6h0.8m-10.9 0.2h0.8m6 -5.7h0.8m-11.8 6.1h0.8m3.4 0.4h0.8m-4.1 -2.8h0.8m3.7 -6.5h0.8m1.5 8h0.8m-2.1 -6.5h0.8m2.4 -2.8h0.8m0.5 10.9h0.8m3.9 1.9h0.8m-6.3 -3h0.8m-2.1 -7.7h0.8m5.1 9h0.8m-8 -8.2h0.8m6.5 8.2h0.8m-11.7 0.7h0.8m11.7 -3.4h0.8m-6.9 -1.9h0.8m-5 7.2h0.8m14.4 -4.6h0.8m-13.9 3.3h0.8m-1.5 -0.4h0.8m3.8 -8.4h0.8m-8.6 4.5h0.8m7 1.7h0.8m0.9 -8h0.8m-3.9 3.7h0.8m-2.4 4.6h0.8m-5.2 -2.7h0.8m-1.5 2.4h0.8m0.4 -3.7h0.8m3.6 -0.8h0.8m3 0.1h0.8m-2 4.5h0.8m-8.5 -2.5h0.8m0 -0.7h0.8m1.5 10.6h0.8m-1.4 -1.2h0.8m2.7 -13.9h0.8m-12 9.6h0.8m0.5 0.2h0.8m11.5 -1.6h0.8m-5.9 -3.1h0.8m1.2 -0.3h0.8m-4.1 -0.3h0.8m6.2 -1.2h0.8m-4.1 -2.6h0.8m-5.2 -1.1h0.8m1.3 10h0.8m1.2 -5.7h0.8m0.5 0.7h0.8m-1.8 3h0.8m-0.1 -13.3h0.8m-8.3 15.7h0.8m4.1 7.2h0.8m-1.4 -13.6h0.8m6.3 5.4h0.8m0.8 -0.2h0.8m-9.3 1h0.8m-3.2 -5.7h0.8m0.1 1.1h0.8m4.7 -1.2h0.8m-2.7 -0.1h0.8m1.5 -10.9h0.8m-5.2 14.1h0.8m-4.4 4.1h0.8m4 3.5h0.8m3.5 -3.7h0.8m-7.3 -10h0.8m-1.2 3.6h0.8m1.9 0h0.8m15.5 -6.6h0.8m-11.7 6.6h0.8m-9 8.1h0.8m0.6 -12.4h0.8m1.6 5.9h0.8m-15.1 2.2h0.8m5 -5.4h0.8m8.1 6h0.8m-5.3 10.9h0.8m3.3 -16.2h0.8m-1.8 2.9h0.8m-15 -8.4h0.8m3.9 21.1h0.8m6.2 -13.6h0.8m-3 7.3h0.8m2.7 4.2h0.8m3.6 -0.4h0.8m-6.1 -7.3h0.8m-2.6 -3.2h0.8m-8.3 -2.4h0.8m3.7 -0.4h0.8m11.7 5.3h0.8m-0.7 3.5h0.8m-2.6 0.8h0.8m-9.6 -1.2h0.8m0.8 -7.7h0.8m8 15.6h0.8m-13.4 -2.5h0.8m9.7 -14.9h0.8m-4 7h0.8m-0.2 -4.2h0.8m-10.4 2.3h0.8m11.6 4.3h0.8m-2 1.9h0.8m-10.3 -6.6h0.8m6.9 6h0.8m-1.9 -2.8h0.8m-0.9 9.1h0.8m-14.2 -12.2h0.8m26.1 1.5h0.8m-25.7 -0.6h0.8m1.5 -4.7h0.8m8.8 13.8h0.8m0.6 -6h0.8m2.4 -2.7h0.8m-11.7 -1.8h0.8m6.1 -1h0.8m-6.6 -0.5h0.8m-5.6 -3.8h0.8m7.4 3.8h0.8m-0.1 10.2h0.8m0.7 -8.3h0.8m-9.3 -6h0.8m8.2 1.2h0.8m-0.5 -1.2h0.8m-2.5 5.8h0.8m4.2 -1.9h0.8m-8.7 3.7h0.8m1.6 8.4h0.8m-2.6 -12.9h0.8m-1.1 5.8h0.8m2.4 1.3h0.8m-10.2 10.3h0.8m17.8 -14.5h0.8m-18.4 1.1h0.8m8.6 -13.8h0.8m-3.1 4.4h0.8m1.7 16.5h0.8m2.6 -16.7h0.8m1.2 13.9h0.8m-10.9 -2.3h0.8m10.1 -4.8h0.8m-9.7 -1.3h0.8m6 -9.2h0.8m0.7 6.8h0.8m-3.7 -3.8h0.8m-11.5 5.9h0.8m9.4 -5.9h0.8m-2.1 5.7h0.8m2.9 1.9h0.8m-5.2 0.8h0.8m6.8 -1.1h0.8m-11.3 13.6h0.8m-0.3 -7.5h0.8m-5.5 -2.8h0.8m-9.6 -0.6h0.8m8.6 -9.3h0.8m-5.3 15.3h0.8m9.9 -15.4h0.8m7.2 4.8h0.8m-13.4 5.4h0.8m-5.3 -10.7h0.8m1.5 16.1h0.8m9 -15.9h0.8m0.7 9.3h0.8m-4.9 0.1h0.8m-1.3 -6.1h0.8m-8.4 1.7h0.8m2.3 7.7h0.8m-5.7 5.6h0.8m2.5 -12.6h0.8m7 5.9h0.8m-6.9 -8.7h0.8m-4.6 -3h0.8m11.6 15.5h0.8m3.4 -3.4h0.8m-9.7 1.5h0.8m2.8 -5.9h0.8m-4.3 13.9h0.8m-12.6 -20.5h0.8m3.4 12.5h0.8m11.7 -6.4h0.8m-3.8 1.7h0.8m-3 -2.8h0.8m-2.7 3.1h0.8m5.9 12.9h0.8m-17.8 -9.8h0.8m9.7 2.5h0.8m5.3 -1.1h0.8m-2.2 -10h0.8m-15.4 15.1h0.8m16.1 -15.1h0.8m-0.3 9.4h0.8m-22.5 1.3h0.8m7.7 1.5h0.8m1 -11h0.8m-5.8 3h0.8m14 -2.6h0.8m-17.4 16.3h0.8m20.6 -8.4h0.8m-14.6 -11h0.8m-7.2 10.2h0.8m16.2 -9.3h0.8m-8.3 4.5h0.8m-2.3 4.5h0.8m12.8 -6.6h0.8m-8 10h0.8m-7.3 -7.2h0.8m-7 7.1h0.8m3.9 -10h0.8m2.7 -1.2h0.8m-7.2 3.3h0.8m13.8 0.5h0.8m-6.4 -7.3h0.8m-15.1 19h0.8m8.2 -19.4h0.8m0.9 12.4h0.8m-10.2 -8.6h0.8m10.7 -0.2h0.8m2.3 10.9h0.8m-2.8 -8.1h0.8m-3.7 -1.2h0.8m-1.3 5.5h0.8m-1.7 3.8h0.8m15.9 -8.8h0.8m-13.8 8h0.8m0.9 -6.2h0.8m-7.3 7.2h0.8m5.6 -2.9h0.8m-9.1 0.8h0.8m8.5 -4.8h0.8m-1.7 13.7h0.8m-15.4 -9.1h0.8m3.3 -11.4h0.8m4.6 11.1h0.8m0.9 -10h0.8m-9.4 3.6h0.8m7.6 -1.6h0.8m-9.6 15h0.8m3 -11.1h0.8m0.9 -2.5h0.8m2.6 1.7h0.8m2.6 -5.2h0.8m-13 18.2h0.8m7.4 -6.8h0.8m6.4 -1.3h0.8m-7.4 -12.2h0.8m-10.3 14.7h0.8m12.4 -2.4h0.8m-14.3 -15.7h0.8m2.7 5.5h0.8m6.2 1h0.8m7.5 2.3h0.8m-13.3 8.6h0.8m4.4 -10.2h0.8m2.1 16.4h0.8m-12.7 -12.6h0.8m0 -9.9h0.8m9.1 15.4h0.8m1.3 -1.6h0.8m-18.2 -2.7h0.8m7 -6.7h0.8m-3.3 11.4h0.8m3.9 7h0.8m3.6 -22.6h0.8m1.7 18.4h0.8m-5.8 -14.4h0.8m9.3 -0.6h0.8m-11.6 -3.4h0.8m-7.6 1.2h0.8m12.9 16.8h0.8m-9.6 -14.8h0.8m1.2 10.1h0.8m-9.3 -9h0.8m7.5 10.9h0.8m0.2 -1.5h0.8m-8.5 -17.2h0.8m8.3 9.2h0.8m-3.3 3.2h0.8m2.7 -2.3h0.8m4.9 4.7h0.8m-6.2 3.5h0.8m2.2 -1.3h0.8m-17.1 -6.1h0.8m20.3 6.5h0.8" stroke="#111" stroke-width="0.8" stroke-opacity="0.85" fill="none"/>
<rect x="87.5" y="446.8" width="23.6" height="24.4" fill="none" stroke="#111" stroke-width="1.15"/>
<rect x="87.5" y="475" width="23.6" height="22.4" fill="none" stroke="#111" stroke-width="1.15"/>
<text x="114.6" y="446" font-size="8.5">74.5</text>
<text x="114.6" y="502.5" font-size="8.5">16.5</text>
<text x="67.8" y="514" font-size="4.2" text-anchor="middle" fill="#333" stroke="#333" stroke-width="0.15">0 10<tspan dy="-1.4" font-size="3">2</tspan></text>
<text x="91.7" y="514" font-size="4.2" text-anchor="middle" fill="#333" stroke="#333" stroke-width="0.15">10<tspan dy="-1.4" font-size="3">3</tspan></text>
<text x="110.6" y="514" font-size="4.2" text-anchor="middle" fill="#333" stroke="#333" stroke-width="0.15">10<tspan dy="-1.4" font-size="3">4</tspan></text>
<text x="130" y="514" font-size="4.2" text-anchor="middle" fill="#333" stroke="#333" stroke-width="0.15">10<tspan dy="-1.4" font-size="3">5</tspan></text>
<path d="M72.9 506.3v1.1M77.6 506.3v1.1M81 506.3v1.1M83.6 506.3v1.1M85.8 506.3v1.1M87.6 506.3v1.1M89.1 506.3v1.1M90.5 506.3v1.1M97.4 506.3v1.1M100.8 506.3v1.1M103.1 506.3v1.1M105 506.3v1.1M106.4 506.3v1.1M107.7 506.3v1.1M108.8 506.3v1.1M109.8 506.3v1.1M116.5 506.3v1.1M119.9 506.3v1.1M122.3 506.3v1.1M124.2 506.3v1.1M125.7 506.3v1.1M127 506.3v1.1M128.1 506.3v1.1M129.1 506.3v1.1M55.8 506.3v1.1M57.3 506.3v1.1M58.8 506.3v1.1M60 506.3v1.1M61.2 506.3v1.1M62.4 506.3v1.1M63.6 506.3v1.1M66 506.3v1.1M67.2 506.3v1.1M68.4 506.3v1.1" stroke="#777" stroke-width="0.45" fill="none"/>
<text x="42.3" y="422.7" font-size="4.2" text-anchor="end" fill="#333" stroke="#333" stroke-width="0.15">10<tspan dy="-1.4" font-size="3">5</tspan></text>
<line x1="44.5" y1="421.4" x2="46.1" y2="421.4" stroke="#444" stroke-width="0.6"/>
<text x="42.3" y="441.4" font-size="4.2" text-anchor="end" fill="#333" stroke="#333" stroke-width="0.15">10<tspan dy="-1.4" font-size="3">4</tspan></text>
<line x1="44.5" y1="440.1" x2="46.1" y2="440.1" stroke="#444" stroke-width="0.6"/>
<text x="42.3" y="462.5" font-size="4.2" text-anchor="end" fill="#333" stroke="#333" stroke-width="0.15">10<tspan dy="-1.4" font-size="3">3</tspan></text>
<line x1="44.5" y1="461.2" x2="46.1" y2="461.2" stroke="#444" stroke-width="0.6"/>
<text x="42.3" y="487.1" font-size="4.2" text-anchor="end" fill="#333" stroke="#333" stroke-width="0.15">0<tspan dy="-1.4" font-size="3"></tspan></text>
<line x1="44.5" y1="485.8" x2="46.1" y2="485.8" stroke="#444" stroke-width="0.6"/>
<path d="M45.1 478.4h1M45.1 474.1h1M45.1 471h1M45.1 468.6h1M45.1 466.6h1M45.1 465h1M45.1 463.5h1M45.1 462.3h1M45.1 454.8h1M45.1 451.1h1M45.1 448.5h1M45.1 446.5h1M45.1 444.8h1M45.1 443.4h1M45.1 442.2h1M45.1 441.1h1M45.1 434.5h1M45.1 431.2h1M45.1 428.9h1M45.1 427h1M45.1 425.6h1M45.1 424.3h1M45.1 423.2h1M45.1 422.3h1M45.1 487.3h1M45.1 488.8h1M45.1 490.3h1M45.1 491.8h1M45.1 493.8h1M45.1 495.8h1M45.1 498.3h1" stroke="#777" stroke-width="0.45" fill="none"/>
<rect x="158.5" y="415.3" width="91.9" height="90.7" fill="none" stroke="#9a9a9a" stroke-width="0.8"/>
<text x="206.2" y="411.6" font-size="12" font-weight="bold" text-anchor="middle" letter-spacing="0.35">Uninfected</text>
<path d="M177.1 481.2h0.6m-4.7 -3.6h0.6m-0.6 5.7h0.6m2.8 2h0.6m-0.1 0.3h0.6m-0.7 -9.6h0.6m3.8 4.8h0.6m-2.5 -0.4h0.6m-5.8 -0.2h0.6m-3.3 -4.2h0.6m0.2 2.1h0.6m-2.3 1.3h0.6m5.1 6.7h0.6m4.7 -6.6h0.6m-3.9 -0.5h0.6m-2.3 0.6h0.6m-3.8 0.3h0.6m-3.8 1.2h0.6m3.5 -4.8h0.6m-0.8 5.1h0.6m-1.7 -0.2h0.6m3.7 3.4h0.6m-6.3 -5.2h0.6m4.9 5h0.6m-1.5 -2.3h0.6m-6.6 -4.2h0.6m10.2 0.9h0.6m1.2 -1.4h0.6m-9.1 -2.7h0.6m2.6 5.8h0.6m4.2 -0.3h0.6m-8.5 -4.9h0.6m0 7.4h0.6m2.3 0.9h0.6m-0.2 -4h0.6m-1.5 0.6h0.6m-7.3 4.9h0.6m5.3 -8.7h0.6m-0.6 4.2h0.6m1.5 3.7h0.6m-14.5 -2.8h0.6m15.2 -4.8h0.6m-12.3 3.9h0.6m7 0.2h0.6m-5.6 -2.6h0.6m3.9 3.9h0.6m6.3 -1.5h0.6m-10.3 -8.4h0.6m5.2 7.1h0.6m-4.7 -2.7h0.6m2.3 -2.6h0.6m-2.7 6.1h0.6m0 3.7h0.6m-1.9 -3.8h0.6m2.7 -5.2h0.6m-4.6 5.1h0.6m3.7 -2.7h0.6m-1.1 3.7h0.6m-8.6 -5.9h0.6m-0.4 5.1h0.6m5.1 1.9h0.6m1.6 -4.1h0.6m0.2 4.4h0.6m-2.7 -1.1h0.6m-6.7 -0.4h0.6m0.3 -4.9h0.6m1.8 4.2h0.6m0.4 -1.5h0.6m-3.9 1.7h0.6m0.3 -5.1h0.6m24 -0.1h0.6m-15.6 -10.2h0.6m25.4 3.3h0.6m-22 0.6h0.6m17.4 13.6h0.6m-9.9 -10h0.6m-10.9 -16.9h0.6m-9.7 13h0.6m17.1 -2.7h0.6m8 -10.7h0.6m-10.3 11.3h0.6m8.2 13.1h0.6m-3.3 -5.5h0.6m-2.2 -17.6h0.6m-4.3 5.2h0.6m-2.6 6.5h0.6m-4 -2.7h0.6m12 -8.8h0.6m1.6 15.8h0.6m-4.1 -2.9h0.6m5.5 -4.6h0.6m-9.4 -15.6h0.6m7.8 6.3h0.6m-31.9 20.2h0.6m4.9 1h0.6m-5.8 -4.6h0.6m18.3 -5.3h0.6m-10.7 5h0.6m6.1 -2.9h0.6m-1.2 -2.1h0.6m-0.1 -13.1h0.6m-3.3 18.1h0.6m-2.9 -4.3h0.6m2.5 4.3h0.6m10.5 -12.9h0.6m-9.7 12.6h0.6m-10.8 -12.4h0.6m10.3 5.1h0.6m-2.4 10.7h0.6m-1.3 -10.3h0.6m-22.8 8.1h0.6m23.4 -5.5h0.6m4.2 -0.9h0.6m-14.4 -2.1h0.6m-0.2 10h0.6m3 5.1h0.6m-13.4 -12.4h0.6m8.1 -7.2h0.6m16.9 -7.6h0.6m-10.1 14.8h0.6m-13.3 -3.2h0.6m3.3 20.8h0.6m27.3 -11.6h0.6m-26.9 7.4h0.6m11.8 -7.8h0.6m-5 2.6h0.6m9.7 -9.7h0.6m0.1 -7.8h0.6m-2.3 -3.4h0.6m-8.8 -11.7h0.6m-4.5 21h0.6m7.6 9.9h0.6m0.6 -9.6h0.6m-0.1 -14.8h0.6m-6.4 32.2h0.6m-8 -26.5h0.6m3.5 4.7h0.6m18.6 5.1h0.6m-15.5 13.8h0.6m-4.4 -0.1h0.6m5.5 -14.7h0.6m-16.6 12.1h0.6m-8.6 4h0.6m10.8 6.7h0.6m-10.3 -25.2h0.6m23.9 5h0.6m-1 16.4h0.6m-0.1 -19.2h0.6m-25.1 -7.1h0.6m25.7 13.8h0.6m-19.5 -5.9h0.6m2.4 -4.9h0.6m10.8 12.8h0.6m8.6 -12.4h0.6m-8.4 11h0.6m3.8 -13.4h0.6m-22.9 14.4h0.6m-1.2 -0.4h0.6m13.6 -0.7h0.6m0.3 -3.2h0.6m-2.9 5.2h0.6m10.4 -6.2h0.6m-0.7 -9.6h0.6m-5 21.9h0.6m-2.9 -9.8h0.6m-2.2 6.5h0.6m-10 -10.2h0.6m4.5 0.8h0.6m6.6 -5.4h0.6m-5.3 5.4h0.6m-0.8 -3.6h0.6m1.6 -9.1h0.6m-8.7 13.4h0.6m10.6 -2.7h0.6m-3.5 -0.9h0.6m-13.3 3.5h0.6m4.9 0.7h0.6m8.1 0.8h0.6m2.7 -7h0.6m-18.1 6h0.6m9.3 13.6h0.6m12.6 -0.6h0.6m-1.9 5.4h0.6m-20.2 -2.1h0.6m14.7 0.4h0.6m-8.7 -1.2h0.6m-3.9 -3.3h0.6m2.9 5.9h0.6m-2.2 -2.6h0.6m1.4 -5.4h0.6m0.6 4.4h0.6m-7.3 -0.1h0.6m-0.6 -4.8h0.6m5.9 2h0.6m-9 -4.4h0.6m6.5 6h0.6m-4 -0.2h0.6m-8.1 0.7h0.6m13 -0.4h0.6m-7.8 -0.6h0.6m4.6 3.1h0.6m0.4 -2.6h0.6m-7.6 2h0.6m12.7 -4.4h0.6m-4.3 2.6h0.6m-5.4 -5.1h0.6m12 -1.9h0.6m-10.8 4.8h0.6m5.3 -0.2h0.6m-8.3 3.4h0.6m2.3 -3.7h0.6m1 3h0.6m1.5 -2.9h0.6m-7.8 0.4h0.6m-6.2 2h0.6m8.2 3.7h0.6m-5.8 -3.3h0.6m9.7 -1.6h0.6m-8.2 0.8h0.6m-5.8 -3.6h0.6m12 3.8h0.6m-8.9 -4.6h0.6m0.7 7.7h0.6m-9.4 -6.5h0.6m15.1 7.4h0.6m2.5 -6.4h0.6m-7.2 -0.6h0.6m-1.2 1.2h0.6m-2.8 5.5h0.6m0.4 -5.1h0.6m-2.6 1.6h0.6m-4.6 -0.1h0.6m7.2 4.3h0.6m-19.2 -8.8h0.6m5.2 6.6h0.6m25 -2.2h0.6m-16.8 3h0.6m-18.4 -4.2h0.6m-5.3 1.1h0.6m17.6 -2h0.6m5.3 -0.4h0.6m4.7 1.9h0.6m-5.7 8.1h0.6m-6.3 -5.2h0.6m-3.2 1.1h0.6m11.8 -3.6h0.6m-0.4 4.7h0.6m2.1 -5.1h0.6m-10.6 3.5h0.6m-10.4 -5.4h0.6m33.3 1.4h0.6m21.2 18.9h0.6m-25 -20.9h0.6m-26.6 -9.9h0.6m24.4 -0.7h0.6m-3.7 13.2h0.6m-16.7 -18.6h0.6m-13.7 27.1h0.6m10.9 -45.1h0.6m28.3 23.6h0.6m2.5 -2.4h0.6m17.8 17.1h0.6m-31.9 -9.5h0.6m-6.3 11h0.6m34.4 -19.5h0.6m-49.5 16.2h0.6m33.5 -33.1h0.6m-28.4 7.8h0.6m19.2 23.8h0.6m-21.1 -25.8h0.6m21.8 -14.7h0.6m-1.2 30h0.6m19.5 18.2h0.6m-40.1 -20h0.6m4.2 -7.2h0.6m5.1 26.7h0.6m-25.7 -18.8h0.6m46.8 15.3h0.6m-37 -24.4h0.6m-1.3 -12.6h0.6m31 26.4h0.6m-29.7 -23.7h0.6m4.3 14.5h0.6m32.6 0.9h0.6m-25.9 24.1h0.6m8.1 -19.7h0.6m-45.5 24.9h0.6m43.2 -28.9h0.6m-11.4 -8.2h0.6m-13.3 -8.4h0.6" stroke="#151515" stroke-width="0.66" stroke-opacity="0.8" fill="none"/>
<ellipse cx="211" cy="457.5" rx="10" ry="10.5" fill="url(#core)"/>
<ellipse cx="213.5" cy="481" rx="7.5" ry="8" fill="url(#core)"/>
<path d="M213.1 459.8h0.8m-2.2 1.2h0.8m0.7 -2.9h0.8m-6.6 2.1h0.8m7.7 0.2h0.8m-0.5 -5h0.8m-10 7.8h0.8m0.8 -4.6h0.8m0.8 -1h0.8m-1.1 -2.5h0.8m-7.1 11h0.8m7.4 -17.3h0.8m-5.3 3.6h0.8m-0.2 -6.4h0.8m4.7 18.9h0.8m-4.2 -4h0.8m2.7 -9h0.8m1.7 -2h0.8m-8.2 6h0.8m6.8 2.1h0.8m-6.5 -4.1h0.8m0.1 3.8h0.8m1.8 6.1h0.8m-0.8 -6.2h0.8m-4.4 7.1h0.8m0.6 -7.3h0.8m5.8 7.2h0.8m-5.9 -7.6h0.8m-5.7 5.3h0.8m-0.1 -0.5h0.8m-2.1 -3.8h0.8m4.1 0.2h0.8m-1.5 1h0.8m-6.4 -6.7h0.8m3.2 13.1h0.8m-0.7 -12.3h0.8m-3 4.4h0.8m6.8 -2.7h0.8m-3.4 3.3h0.8m-4.6 -5h0.8m0.1 1h0.8m2 -4.7h0.8m1.6 11.3h0.8m-3 3.3h0.8m-0.7 -14.4h0.8m-3.1 9.7h0.8m-3.8 -7.1h0.8m3.8 7.4h0.8m-4.3 -3.4h0.8m-1.2 -1.4h0.8m1.1 7.3h0.8m-7.2 -6.3h0.8m12.4 2.9h0.8m-6.8 2.4h0.8m-5.5 -9.2h0.8m-3.5 -1.1h0.8m7 10.3h0.8m-3.5 -6.8h0.8m2.6 5.8h0.8m-1.4 -11.3h0.8m-4.1 -2.9h0.8m2.4 7.6h0.8m-4.5 10.5h0.8m7.3 -4.5h0.8m-5.1 -1.4h0.8m-4.3 -1h0.8m9.4 -3.7h0.8m-11.3 4.6h0.8m5.5 3h0.8m-8.4 -4.3h0.8m2.1 -4.9h0.8m0.6 3.3h0.8m2.7 4.1h0.8m-7.8 -1.5h0.8m0.9 -3.2h0.8m-1.3 7.6h0.8m-0.5 -12.5h0.8m-2.3 11.3h0.8m11.2 -8.3h0.8m-11.1 3.2h0.8m-5 3.3h0.8m4.7 -0.6h0.8m8.5 -2.4h0.8m-6.7 4.9h0.8m-6.6 -6.3h0.8m8.2 5.8h0.8m-6.6 -8.1h0.8m2.2 7.3h0.8m4.6 4.2h0.8m-6.5 -5.4h0.8m-3.8 -3.7h0.8m0.2 3.6h0.8m0.6 3.8h0.8m-2.2 -7.3h0.8m1.2 9.3h0.8m-7.5 -5h0.8m4.8 0.5h0.8m-0.9 -2.8h0.8m-3.3 7.9h0.8m6.7 -13.8h0.8m-18.3 8.3h0.8m6.8 -4.3h0.8m-4.5 3.9h0.8m5.5 -4h0.8m3.1 13.3h0.8m1.5 -5.7h0.8m-8.5 -2.3h0.8m0.7 2.3h0.8m1.8 -5.4h0.8m-0.9 -3h0.8m0.1 9.9h0.8m-5.5 -4.2h0.8m-6.1 1.7h0.8m9.6 -8.8h0.8m2.7 5.1h0.8m-15 -6.6h0.8m9.9 4.9h0.8m0.1 -5.7h0.8m-5.7 11.3h0.8m-3.2 -1.4h0.8m0.5 -1.5h0.8m2 8.5h0.8m-7.2 -6.5h0.8m9.7 -8.5h0.8m-5.9 15.3h0.8m3.2 -23.6h0.8m-6.1 5.7h0.8m1.4 4.4h0.8m-4.3 -0.5h0.8m2.7 1.6h0.8m-5.7 1.1h0.8m4.6 -2.8h0.8m2 -3.6h0.8m-3.6 5.7h0.8m3.9 -1.2h0.8m-9.9 -3.1h0.8m10 8.8h0.8m-13.3 -4.3h0.8m-0.3 8.3h0.8m4.8 -15.9h0.8m-1.6 13.2h0.8m-1.7 -2h0.8m-1.2 -1.2h0.8m0.5 -4.1h0.8m-0.3 3.9h0.8m-2.4 -3.8h0.8m-4.7 4.2h0.8m6.7 -11.9h0.8m-6.4 16.9h0.8m5.1 -9.3h0.8m1 -1.2h0.8m-9.5 13.1h0.8m0.6 -9.7h0.8m-5.7 -3.5h0.8m1.1 3.9h0.8m-3.5 5.4h0.8m5.2 -7.5h0.8m-1.9 6h0.8m8.1 -5.1h0.8m-0.5 9h0.8m-1.9 -5.9h0.8m-12.4 1.7h0.8m3.6 -2.1h0.8m-6.8 -2.2h0.8m7.9 -2.9h0.8m-0.6 11.7h0.8m-1.1 -10.6h0.8m8 -6.5h0.8m-14.3 11.4h0.8m0.6 -12.1h0.8m2.7 14h0.8m-5.1 2.9h0.8m4.4 -1.3h0.8m-9 -5.3h0.8m11.9 9h0.8m-1.9 -9h0.8m-5.5 -2.8h0.8m3 -0.3h0.8m-4.8 -6.1h0.8m-7.5 17.2h0.8m5.6 -7h0.8m-10 -1.1h0.8m16.7 -6.6h0.8m-19 6h0.8m6.7 -0.2h0.8m-3.7 -5.2h0.8m-0.8 9h0.8m4.1 0.8h0.8m-5 -1h0.8m1.8 -2.3h0.8m4.8 -0.3h0.8m-6 -7.6h0.8m0.9 11h0.8m-3.7 -3.8h0.8m-5.5 -5.7h0.8m8.2 11.8h0.8m-3.8 -13.3h0.8m-1.1 0.5h0.8m-0.3 15.7h0.8m1.5 -9.4h0.8m2.3 -1h0.8m-3.7 2.6h0.8m-0.4 -7.5h0.8m0.3 10.6h0.8m-13.1 -16.2h0.8m4.9 18.9h0.8m3 -3.6h0.8m1.4 0.9h0.8m-5.7 -6.6h0.8m3.4 5.3h0.8m0 -1.2h0.8m-5.2 3.5h0.8m3.1 -0.2h0.8m-13.2 -0.2h0.8m-0.4 -3.6h0.8m6.6 -0.5h0.8m-0.1 -1.9h0.8m2 3h0.8m-4.9 -13.1h0.8m-0.7 14h0.8m-1.1 -0.6h0.8m1.2 -6.2h0.8m5.5 11.8h0.8m-6 -7.7h0.8m3.6 -5.8h0.8m-8.4 11.1h0.8m6.5 -7.3h0.8m-7.7 3.8h0.8m-3.4 -3.9h0.8m4 -8.9h0.8m2.7 14.7h0.8m1.1 -10h0.8m-10.5 2.8h0.8m-0.9 13h0.8m0.5 -10.7h0.8m4.2 3.5h0.8m4.3 -7.1h0.8m-3.1 5.7h0.8m-9.4 0h0.8m-1.7 6.7h0.8m2 -2.8h0.8m7.6 -7.4h0.8m-9.9 3.4h0.8m-1.5 3.5h0.8m4.3 -7.6h0.8m-4.4 6.8h0.8m-3.9 4.4h0.8m1.9 -8.6h0.8m-1.4 8.3h0.8m6.5 -1.5h0.8m-1.5 -5.5h0.8m3.6 2.6h0.8m-6.1 -0.4h0.8m0.5 -1.3h0.8m-4.6 -8.6h0.8m8.5 1.3h0.8m-18.4 2.7h0.8m16.3 8.9h0.8m-11.4 -4.4h0.8m1.6 -10.3h0.8m-2.1 10.4h0.8m5.5 -6.8h0.8m-15.1 -1.7h0.8m10 7.6h0.8m-1.6 0.3h0.8m-2.9 -7h0.8m2.6 8.1h0.8m-0.3 3.9h0.8m-8.4 -16.4h0.8m-3.1 20.5h0.8m2.9 -8h0.8m2.9 1.5h0.8m12.8 -5.7h0.8m-15 -0.3h0.8m0.9 5.1h0.8m-5.9 3.7h0.8m8.1 -4.1h0.8m-6.1 -3.1h0.8m-7.2 4.1h0.8m2 -5.3h0.8m7.5 -1.9h0.8m-7.2 8.1h0.8m9.2 -7.1h0.8m-4 0.2h0.8m-3.8 5.2h0.8m-7.2 2.5h0.8m11.6 -4.5h0.8m-7.3 -5.6h0.8m5.6 5.7h0.8m-13.7 3.2h0.8m-1.5 -6.7h0.8m-3.7 9.5h0.8m17.5 -9.2h0.8m-12.8 0.2h0.8m-0.5 5.2h0.8m7.7 -7.1h0.8m-5.1 -3.7h0.8m3.8 7.9h0.8m-10.1 7.4h0.8m1.7 -0.7h0.8m4.1 1.3h0.8m-8.7 -7.3h0.8m4.1 -1.2h0.8m4.1 -2.4h0.8m-3 9.6h0.8m-13.2 -10.8h0.8m3.6 2h0.8m4.6 1.7h0.8m-2.1 -1.3h0.8m-1.4 4.3h0.8m2.6 -5.8h0.8m-4.4 0.1h0.8m-1 -3.1h0.8m3.9 9.7h0.8m-5.3 -6.2h0.8m-2.2 0h0.8m-5.4 10.6h0.8m19.5 -13.2h0.8m-19.5 8.4h0.8m6.6 -9.9h0.8m-11.4 9.7h0.8m-1.1 4h0.8m5.5 -6.1h0.8m1.3 -3h0.8m-1.4 1.2h0.8m5 1h0.8m-6.1 -2h0.8m-3.4 -1h0.8m1.9 11.8h0.8m3.9 -7.3h0.8m1.5 3.6h0.8m-6.9 -5.5h0.8m-6.3 1.9h0.8m2.5 -8.4h0.8m-4.9 16.2h0.8m5.5 -6.6h0.8m-0.9 -4.4h0.8m0.3 7.1h0.8m-4 -2.6h0.8m4.8 -4.6h0.8m-4.4 -1.2h0.8m1 1.7h0.8m1.5 -1.8h0.8m1.5 2.1h0.8m-11.4 -2.8h0.8m5.5 0.3h0.8m4 9.8h0.8m-6.2 -12.4h0.8m-3.1 3.2h0.8m-8.3 5.3h0.8m16 -4.5h0.8m-6.6 8.4h0.8m-8.2 -7.5h0.8m4.3 3.8h0.8m-6.7 -1.2h0.8m3.6 3.4h0.8m-7.1 -7h0.8m3.8 1.1h0.8m4.3 -1.4h0.8m7.7 -0.4h0.8m-8.8 8h0.8m-0.2 -5.6h0.8m-8.4 -0.3h0.8m5.5 1.8h0.8m-1.2 2h0.8m-6.9 -6.9h0.8m9 2.1h0.8m-13.6 10.8h0.8m2.4 -12.9h0.8m6.8 -0.9h0.8m-8.6 10h0.8m-0.5 6.7h0.8m3 0.8h0.8m-0.7 -12h0.8m-4 -1.3h0.8m-0.2 0.9h0.8m4.5 -5.7h0.8m-7.9 -3.8h0.8m9.4 9.3h0.8m-7.2 0h0.8m3.5 1.8h0.8m-1.4 -2.3h0.8m-4.9 0.5h0.8m-8.1 5.3h0.8m0.4 -9.6h0.8m8.6 4.9h0.8m-0.2 7.5h0.8m3.6 -1.4h0.8m-9.5 3h0.8m-3.6 -9.8h0.8m7.1 -0.6h0.8m-5.5 -0.6h0.8m5.4 -9.7h0.8m-1.2 16.2h0.8m-6.4 -2.3h0.8m-4.6 2.5h0.8m16.2 -9.3h0.8m-7.8 3.9h0.8m-8.1 -1.9h0.8m-0.2 -3.6h0.8m-5.7 13.4h0.8m4.8 -5.1h0.8m0.6 -0.3h0.8m-8.5 -6.6h0.8m8.3 9h0.8m-8.3 -7.3h0.8m-0.5 5.7h0.8m5.1 -2.8h0.8m-4.9 1.4h0.8m2 -5h0.8m0.5 0.3h0.8m1.8 6h0.8m-7.7 -0.2h0.8m2.4 -5.9h0.8m-4.9 -4.4h0.8m-1.7 9.2h0.8m9 -4.5h0.8m-5.2 4.5h0.8m1.8 0.4h0.8m1.1 1.5h0.8m-9.2 -1.7h0.8m-7.4 -2.6h0.8m9.1 3.5h0.8m-2.2 1.1h0.8m6 -7.7h0.8m-8.6 5.1h0.8m3.6 -0.5h0.8m0.6 -6.1h0.8m-1 10.8h0.8m0.6 -3.4h0.8m-6.5 -0.2h0.8m-0.1 -9.1h0.8m-3 7.1h0.8m-0.5 -4.1h0.8m0.4 2.6h0.8m0.5 1.5h0.8m-0.4 4.8h0.8m-0.9 -2.7h0.8m-6.5 -15.5h0.8m2.6 16.7h0.8m-0.5 -6h0.8m-4.6 7h0.8m2.2 -3h0.8m6.1 1.4h0.8m3.9 -3.1h0.8m-6.2 3.8h0.8m-7.6 -3h0.8m-0.4 -4.9h0.8m2.9 1.1h0.8m5 0.2h0.8m-10.2 3.8h0.8m-0.7 -0.2h0.8m-1.2 -6.7h0.8m-8.3 0.6h0.8m15.7 7.9h0.8m-6.6 -4.1h0.8m-2 3.5h0.8m-6 -5.1h0.8m1.3 9.5h0.8m-1.5 -0.4h0.8m1.6 7.1h0.8m0.9 -12.4h0.8m5.2 3.9h0.8m-2.6 -8.9h0.8m0.1 12.6h0.8m-6 -9.9h0.8m-5 6.9h0.8m5 -4.7h0.8m-7.2 7.5h0.8m8.1 -7.6h0.8m1.7 -4.3h0.8m-3.3 -0.2h0.8m1.4 3.3h0.8m-1.6 -0.6h0.8m-4.2 7.2h0.8m-6.3 -4.9h0.8m-0.5 3.5h0.8m0.2 -5.6h0.8m0.8 7.1h0.8m-4.3 -5.5h0.8m2.2 -2.4h0.8m-2.7 1.8h0.8m3.3 -6.4h0.8m-0.6 1.7h0.8m-1.7 15.9h0.8m-5 -10.8h0.8m2.2 4.8h0.8m-1.7 -12.7h0.8m-5.6 9h0.8m7.1 4.1h0.8m-4.2 -1.8h0.8m-3 2.9h0.8m3.4 -9.1h0.8m0.2 11.1h0.8m-5.1 -13.7h0.8m-1.5 0.4h0.8m3.3 6.9h0.8m-1.3 -0.7h0.8m4.9 -2.2h0.8m-11.1 -9.2h0.8m5.5 7.4h0.8m-2.8 5h0.8m2.1 -9.1h0.8m-6.7 7.5h0.8m2.6 5h0.8m-2.3 -14.8h0.8m6.2 2h0.8m-9.8 9.3h0.8m-1.1 9.6h0.8m4.6 -8.9h0.8m-3.6 7.7h0.8m3.3 -13.5h0.8m2.2 -4.5h0.8m-8.6 9.1h0.8m2.3 -5.7h0.8m5.2 11.2h0.8m-11.3 -5.1h0.8m0.4 -3.7h0.8m6 2.6h0.8m-5.4 -0.1h0.8m-5.2 5.1h0.8m0.9 0.4h0.8m0.5 -8.1h0.8m7.3 3h0.8m-9.7 -3.4h0.8m4.4 11.1h0.8m-0.7 -10.4h0.8m-8.1 -1.3h0.8m3.4 4.2h0.8m-3.1 4.8h0.8m-2 -9.2h0.8m5.3 5.5h0.8m-4.5 2.2h0.8m-5.1 3.1h0.8m14.3 1.5h0.8m-9.5 0h0.8m-1.1 -2.9h0.8m-1.8 -5.2h0.8m2.2 -8.9h0.8m-3.9 15.9h0.8m-12.2 -6.1h0.8m15.4 -0.3h0.8m-3.9 4.9h0.8m-0.2 -15.1h0.8m-6.2 7.3h0.8m3.8 -0.7h0.8m-1.8 9.8h0.8m-12.7 -2.4h0.8m15.4 -2.5h0.8m-4.6 -2.5h0.8m0.6 0.8h0.8m-5.3 2.5h0.8m-1.3 -3.8h0.8m1.2 -5.1h0.8m3.2 5h0.8m-8.2 -0.1h0.8m-1.7 7h0.8m7.2 2.5h0.8m-5.4 -5.9h0.8m-2.5 -7.1h0.8m2.9 5.8h0.8m3.5 -3.1h0.8m-0.1 5.6h0.8m-9.1 -5.2h0.8m-0.9 8.6h0.8m0.7 -3.7h0.8m5.3 -5.3h0.8m-6.6 2.8h0.8m-2 -7.4h0.8m-1.6 7.4h0.8m4 6.5h0.8m-9.2 -5.8h0.8m2 3h0.8m6.9 -4.7h0.8m2.5 -2.3h0.8m-9.2 -3.1h0.8m-1.3 5.3h0.8m4.7 5.4h0.8m-4.7 -9.2h0.8m-1.1 1.3h0.8m-1.4 0.2h0.8m-2.4 1.6h0.8m0.7 -0.6h0.8m-4.5 1.5h0.8m7.4 2.3h0.8m-5.5 -8.2h0.8m-3.9 -0.2h0.8m1.9 4h0.8m-5.5 4.5h0.8m0.2 -6.2h0.8m2.6 6.9h0.8m9.9 -5.4h0.8m-9.6 -0.2h0.8m-0.5 1h0.8m10.3 -4.2h0.8m-11.6 1.4h0.8m1.2 1.2h0.8m0.1 -2.5h0.8m5.6 5.9h0.8m-17 2.2h0.8m4.6 -8.5h0.8m3 2.9h0.8m0.5 -0.1h0.8m-0.1 3.2h0.8m-3.1 0h0.8m-3.8 -2.3h0.8m2.6 4.8h0.8m-4.4 7h0.8m7.9 -15.4h0.8m-3.3 4.9h0.8m-4.3 -3.3h0.8m5.1 -0.1h0.8m-8 0.4h0.8m7.5 9h0.8m-14.3 -7.7h0.8m6.2 0h0.8m-3.8 -2.9h0.8m1.7 0h0.8m1.7 15.8h0.8m-5.7 -3.4h0.8m2.1 -10.5h0.8m-3.7 -1.3h0.8m1.1 7.5h0.8m2.6 -4.5h0.8m-9.6 1h0.8m11 1.6h0.8m-8 -10.7h0.8m-2.3 11.9h0.8m-2.9 3.6h0.8m0.8 -10h0.8m-0.9 3.5h0.8m5.7 -2.1h0.8m-12.3 2.2h0.8m8.8 7.3h0.8m-7.6 -0.3h0.8m6.6 -4.6h0.8m-6.8 -6.1h0.8m-1.6 8.2h0.8m4.1 0.6h0.8m5.8 -4.7h0.8m-8.5 8.6h0.8m-6 -10.7h0.8m3.1 0.3h0.8m1.3 -2.1h0.8m3.4 -2.3h0.8m-9 -1.5h0.8m-3.2 10.3h0.8m7.6 -3.6h0.8m0.1 3.7h0.8m-6.7 -3h0.8m3.1 9.3h0.8m-4.1 -7.4h0.8m3.3 3.8h0.8m-1.3 -0.6h0.8m-7 -6.1h0.8m-4.4 1h0.8m16.8 1.3h0.8m-10 0.1h0.8m-0.6 -7.1h0.8m-4.3 5.1h0.8m2.8 -3.1h0.8m-1.9 0.6h0.8m-5.8 0.4h0.8m1.3 6.7h0.8m8 -1.2h0.8m-7.2 -5.1h0.8m-6.4 0.2h0.8m12.2 7.5h0.8m-6.4 -6.3h0.8m-1.7 3h0.8m-0.8 0.1h0.8m-4 -1.8h0.8m1 4.7h0.8m-4.5 1h0.8m3.9 -8.1h0.8m-0.3 2.8h0.8m-1.9 1.3h0.8m-2.2 -9.5h0.8m4.5 7.5h0.8m3.2 1.9h0.8m-16 3.8h0.8m4.7 -3.1h0.8m11.2 2.4h0.8m-14.5 -5.3h0.8m-2.9 3.4h0.8m8.1 -7.6h0.8m-1.2 8.8h0.8m0.6 -7.2h0.8m-7 -2h0.8m-3.2 6.4h0.8m4.7 4.5h0.8m0.1 -7.3h0.8m-7.8 8.4h0.8m5.8 -7.1h0.8m-5.6 -4.6h0.8m5.9 0.4h0.8m-1 7.1h0.8m-4.8 -10h0.8m2.5 13.5h0.8m-5.9 -11.9h0.8m7.1 6.3h0.8m-7.9 4.8h0.8m0.7 -3.4h0.8m-1.4 -5.4h0.8m1.8 -0.5h0.8m-9 1.4h0.8m11.6 7.4h0.8m3.1 -0.5h0.8m-3.1 -3.3h0.8m-9.3 0.9h0.8m-2.9 1.2h0.8m1.3 -2.1h0.8m-2.5 -1.8h0.8m6.7 -0.3h0.8m-7.6 2.2h0.8m5.6 -2.1h0.8m-9.2 -6.1h0.8m-1.5 11.7h0.8m4.3 -2.6h0.8m4 -0.9h0.8m-3.2 -3.5h0.8m-9.4 5.1h0.8m5.4 -0.3h0.8m-4.8 -3.2h0.8m11.9 -3.1h0.8m-8.7 9.6h0.8m-2.2 -5.3h0.8m-8.6 2.9h0.8m6.2 2.3h0.8m0.6 -7.4h0.8m1.4 0.6h0.8m-4.7 7.9h0.8m5.3 -6.4h0.8m-1.5 3.2h0.8m-1.7 -3.4h0.8m-2.9 1.6h0.8m1.2 -0.3h0.8m-5.4 -1.9h0.8m3.4 -4h0.8m-2.7 7.7h0.8m-0.1 -4.6h0.8m-1.6 -0.9h0.8m3.3 0.5h0.8m-11.7 -3.7h0.8m7.3 6.3h0.8m-3.9 -6.7h0.8m0.5 2.1h0.8m-2.9 3.7h0.8m-1.3 1.3h0.8m-0.6 -3.4h0.8m1.3 8.5h0.8m6.6 -2.3h0.8m-10.3 -4.1h0.8m6 3.5h0.8m-11.3 -3.8h0.8m2.9 3.6h0.8m4.8 -5.7h0.8m5.4 1.1h0.8m0.4 0.5h0.8m-11.1 9.1h0.8m-2.7 -10.4h0.8m7.5 1.9h0.8m-4.9 -5.4h0.8m4.6 9.9h0.8m-6.7 -1.2h0.8m-4.4 -5.2h0.8m-5.2 3.7h0.8m10.8 2.1h0.8m-2.1 -0.6h0.8m-8.4 -8.9h0.8m5.6 6.5h0.8m0.7 -1.9h0.8m-8.5 3.1h0.8m0.5 -9.1h0.8m-1 3.3h0.8m-2.9 1.5h0.8m7.7 12.7h0.8m2.4 -12.1h0.8m-3.2 1.5h0.8m-3.8 -2.7h0.8m-2.8 -4.4h0.8m6.9 4h0.8m-5.8 0.8h0.8m-2.1 -2.6h0.8m-3.4 9.2h0.8m3.1 -12.5h0.8m0.3 2.7h0.8m-3.1 8h0.8m-4.6 -3.6h0.8m0.8 3.1h0.8m4 4.2h0.8m-3.3 2.8h0.8m-6 -0.9h0.8m2 -4.5h0.8m-0.2 -3h0.8m-4.1 1.4h0.8m11.3 -1.1h0.8m-9.2 -0.6h0.8m2.2 -0.9h0.8m-3.7 1.8h0.8m6.9 5.5h0.8m-14.7 -9.8h0.8m5.5 9.1h0.8m4.8 -6.5h0.8m6 0.3h0.8m-5 9.8h0.8m0.3 -7.6h0.8m-6.8 -10.6h0.8m-14.7 5.6h0.8m13.9 10.4h0.8m-5.6 -0.2h0.8m3.2 3h0.8m-13.5 -14.5h0.8m2.9 -1.3h0.8m14.5 0.7h0.8m-15.4 3.2h0.8m9.3 -0.3h0.8m-1.7 6.2h0.8m-8.9 -18h0.8m-2.4 6.9h0.8m14.2 3.3h0.8m-16.7 6.7h0.8m5.8 -8.1h0.8m5.3 11.5h0.8m-5.6 -10.4h0.8m-7.5 -8h0.8m6.6 15.1h0.8m-8.5 -2.2h0.8m23.9 -7.2h0.8m-30.1 10.8h0.8m6.7 -6.9h0.8m5.4 2.3h0.8m1.3 4h0.8m0.2 -2.5h0.8m-20.3 7.7h0.8m1.9 -2h0.8m10.7 -15h0.8m-1.9 14h0.8m-7.2 -5.2h0.8m0.9 -6.4h0.8m-0.1 14.1h0.8m6.8 -8.1h0.8m-5.3 1h0.8m1.4 0.3h0.8m-12.6 4.6h0.8m4.3 -21.8h0.8m8.3 8.6h0.8m-5.7 6.9h0.8m-3.5 3.9h0.8m1.1 -5h0.8m-4.8 -0.1h0.8m-1.3 2h0.8m13.1 6h0.8m-6.1 -14.6h0.8m2.8 14.1h0.8m5.2 -19.6h0.8m-12.8 11.8h0.8m5.5 -4.6h0.8m-9.4 21h0.8m7.3 -26.7h0.8m-6.6 20.8h0.8m-4.5 -4.7h0.8m3.4 -12.8h0.8m-5.1 16.1h0.8m9.9 -10.8h0.8m-1.2 -0.6h0.8m-5.9 4.2h0.8m-9.7 2.2h0.8m4.3 -19h0.8m-3.4 11.7h0.8m-0.8 -0.8h0.8m0 -9.1h0.8m8.6 15.6h0.8m-4.6 -2.1h0.8m-1.9 0h0.8m-7.6 -7.8h0.8m6 15.8h0.8m0.2 3.6h0.8m-10.3 -11.6h0.8m3.7 9.3h0.8m12.8 -10.9h0.8m-6.5 1.7h0.8m-11 0.9h0.8m-1 10.3h0.8m8.8 -2.3h0.8m-2.2 -22.4h0.8m1.8 15.6h0.8m-19.6 0.1h0.8m19.3 10h0.8m-12.8 -5.8h0.8m7.2 -5.9h0.8m-4.5 4.3h0.8m4.3 0.8h0.8m-6.6 -12.3h0.8m9.4 16.3h0.8m-11.9 -8.3h0.8m7.3 -10.7h0.8m-2.7 26h0.8m-2.1 -19.5h0.8m9.7 4.5h0.8m-11.6 -2.7h0.8m-1 -8.5h0.8m-9.5 1.9h0.8m12.1 8.6h0.8m0.7 -12.1h0.8m-11.1 21.8h0.8m-2 -20.7h0.8m-0.5 9.5h0.8m3.5 10.2h0.8m7.1 1.6h0.8m-5.2 -12.8h0.8m-7.1 -6.1h0.8m9.6 17h0.8m-7.8 -13.3h0.8m2.7 8.6h0.8m-3.9 -10.3h0.8m-0.3 3.7h0.8m2.2 7.2h0.8m-2.6 -6.3h0.8m5.6 7.4h0.8m-2.3 0.4h0.8m-4.4 -2.7h0.8m-11 -13.8h0.8m0 15.1h0.8m10.1 -2.6h0.8m-5.7 10.2h0.8m-3.6 -22.5h0.8m-7.6 9.1h0.8m12.4 6.6h0.8m-6.2 0.5h0.8m0.2 -9.6h0.8m-2.7 9.2h0.8m7 -11.7h0.8m-12.2 7.8h0.8m17.5 -8.1h0.8m-20.7 9.9h0.8m9.6 -6.4h0.8m-4 6.8h0.8m-10.9 -3.1h0.8m13 5.9h0.8m2.6 -6.2h0.8m-16.2 8.8h0.8m12.2 -12.4h0.8m0.8 10.5h0.8m-7.7 -21.2h0.8m-2.8 10h0.8m-2.9 4.2h0.8m-2.3 2.9h0.8m16.7 -9.8h0.8m-5.8 4.1h0.8m-3.7 2.5h0.8m3.5 -3.6h0.8m-4 -0.4h0.8m-3.8 4.7h0.8m4.3 -9.7h0.8m-15.1 18.5h0.8m9.4 1.9h0.8m-9.2 -9.3h0.8m8.8 9.7h0.8m-4.6 -13.8h0.8m3.7 2.2h0.8m-9.4 5.4h0.8m-7.6 -11.1h0.8m18.4 3.2h0.8m-10.7 5.4h0.8m7.7 1h0.8m-13.1 -6.8h0.8m11.1 2.8h0.8m-10.7 6.1h0.8m9.6 8.2h0.8m-13.8 -18h0.8m1.4 6.6h0.8m0.5 4.8h0.8m-13.8 -1h0.8m11.2 -7.7h0.8m6.3 3h0.8m-10 8.1h0.8m8.5 -12.5h0.8m-3 -3.8h0.8m-9.2 5h0.8m8.5 2.5h0.8m-7.4 -9.2h0.8m-6.1 18.6h0.8m11.2 -15h0.8m4 8.4h0.8m-10.2 -7.2h0.8m8.3 5.8h0.8m2.1 0.3h0.8m-13.8 -6h0.8m-1.5 5.3h0.8m4.8 2.2h0.8m0.3 -10.3h0.8m-4.6 0.6h0.8m3.2 -2.3h0.8m-7 2.9h0.8m-1 3.7h0.8m11.6 0h0.8m-18 -0.3h0.8m12 5.4h0.8m-3.8 8.9h0.8m4.3 -11.8h0.8m-0.2 -8.9h0.8m-8.9 2.9h0.8m1.2 15.5h0.8m-4.7 -0.2h0.8m-3.9 -1h0.8m-4.7 -14.2h0.8m14.9 4.7h0.8m-5.8 0.5h0.8m-0.5 -1h0.8m-7.6 -0.7h0.8m5.5 -3.8h0.8m1.3 16.6h0.8m-13.1 -14.4h0.8m7.2 3.5h0.8m1.4 -4.6h0.8m-1.6 4.5h0.8m-1.1 9.6h0.8m0.5 -18.8h0.8m-10.7 12.9h0.8m6.3 -7.6h0.8m-6.7 2h0.8m6.6 -2.4h0.8m-2.3 9.8h0.8m5.8 -2.1h0.8m-6.4 -11.9h0.8m4.7 17.8h0.8m2.1 -2h0.8m-6.6 -5h0.8m-2.5 5.5h0.8m-2.3 5.6h0.8m5.3 -15.4h0.8m-5.3 -8h0.8m-5.1 8.1h0.8m17.8 -3.2h0.8m-9.7 5.6h0.8m-7.9 3.4h0.8m-10.7 2h0.8m22.1 -4.1h0.8m-12.5 -0.8h0.8m3.5 -4.1h0.8m-4 6.2h0.8m-3.5 -0.7h0.8m3.1 2.1h0.8m-8.4 -7.8h0.8m2.4 10.8h0.8m3.2 -17.8h0.8m-9.7 22.4h0.8m8.6 -20.2h0.8m-8.1 9h0.8m12.8 9.2h0.8m-11.2 -12h0.8m12.5 -4.2h0.8m-2.9 8.2h0.8m-9.3 5.9h0.8m1.4 -13.2h0.8m-12.5 5.3h0.8m11.1 8.4h0.8m-19 -0.1h0.8m18 1.1h0.8m0.2 -8.2h0.8m-2.9 1.2h0.8m-7 -3.2h0.8m3.6 -2.1h0.8m-10 -6.2h0.8m10.6 12.3h0.8m-3.1 -10.6h0.8m3.6 4.9h0.8m-17.9 12.2h0.8m2.6 4.3h0.8m11 -16.8h0.8m-17.6 -1.7h0.8m21.5 12.9h0.8m-7.9 -19.2h0.8m-4.5 8.9h0.8m4.1 1h0.8m-1.5 -9.4h0.8m-6.5 19.2h0.8m-5.6 -3.2h0.8m21.2 -1.7h0.8m-22.4 3.7h0.8m-3.5 -5.7h0.8m7.6 5.6h0.8m8.5 -6.5h0.8m2.7 4.9h0.8m-14 -12.2h0.8m16.3 3.6h0.8m-12.7 1.8h0.8m-6 -9.3h0.8m1.2 9.3h0.8m5.7 -2.5h0.8m-15.6 -3.5h0.8m8.1 8.3h0.8m3.6 -4h0.8m-1.9 3.3h0.8m5.9 -1.2h0.8m-9.8 3.8h0.8m5.5 -9.3h0.8m-10.7 4.1h0.8m-10.4 9.9h0.8m17.9 14.9h0.8m7.2 5h0.8m-5.5 1.2h0.8m-4.7 -12h0.8m1.4 7.4h0.8m-10.4 -1.5h0.8m6 3.8h0.8m-2.8 -6.1h0.8m1.3 -1h0.8m-3.8 6.2h0.8m-5.5 -1.6h0.8m-2.6 -5.3h0.8m1.7 3.4h0.8m6 0.2h0.8m-0.1 0.6h0.8m-4.7 1.6h0.8m-0.9 -1.5h0.8m3.6 -2.8h0.8m-0.4 -2.2h0.8m-5.6 -2.5h0.8m-1.9 13.4h0.8m2.3 -1.3h0.8m-7.1 -9.2h0.8m5.9 7.5h0.8m0.5 -10.2h0.8m-1.9 6.5h0.8m-2.2 2.2h0.8m-2.2 -8.8h0.8m-3.5 1h0.8m-1.7 5.4h0.8m8.4 -2.4h0.8m-8.1 -1.8h0.8m-4.1 5h0.8m3.5 -1.3h0.8m-2.5 3h0.8m-1.6 0.2h0.8m1.1 1h0.8m-1.6 -1.4h0.8m3.8 -2.1h0.8m3.4 1h0.8m-9.6 2.1h0.8m-0.6 -5h0.8m2.1 2.9h0.8m5.2 -7.8h0.8m-7.7 11.7h0.8m-0.5 -3.3h0.8m5.2 -6.3h0.8m-6 8.2h0.8m-3.1 -10.3h0.8m-2.2 7.9h0.8m3.4 6.7h0.8m3.2 -13.8h0.8m-1.9 10h0.8m1.3 -4.3h0.8m-8.5 1.2h0.8m6.6 1.9h0.8m-0.2 0.7h0.8m-8.9 -7.3h0.8m7.8 -2h0.8m-8.5 4.8h0.8m-2.8 -1h0.8m2.4 12h0.8m-1 -11.8h0.8m-0.2 5.9h0.8m-4.1 -5.4h0.8m-4 4.5h0.8m7.7 3.2h0.8m-7.4 2.7h0.8m6.5 -9.9h0.8m-5.3 -0.2h0.8m-3.7 4.4h0.8m1.4 -6h0.8m3.1 3.4h0.8m-4.6 -1.5h0.8m-0.5 6.5h0.8m4.4 -8.5h0.8m-4.4 8.6h0.8m-1.7 1.6h0.8m1.8 -4.5h0.8m-9.7 0.8h0.8m7.7 -1.1h0.8m-0.3 -0.3h0.8m-4.3 1.6h0.8m1.2 -8h0.8m-4.6 5h0.8m4 -9.7h0.8m-9.2 13.3h0.8m6.4 7.3h0.8m-6.2 -12.6h0.8m2.5 3.3h0.8m6.2 4.3h0.8m-9.2 -1.6h0.8m-1.6 -3.7h0.8m4.1 1.2h0.8m-4.2 2.9h0.8m1.8 -5.5h0.8m-1.5 -4.2h0.8m2.6 5.7h0.8m-1.7 6.2h0.8m-5.4 -8.8h0.8m2.2 4.7h0.8m-1.4 0.3h0.8m1.4 -11h0.8m-4.8 -1.1h0.8m0.6 6.6h0.8m2.3 2.4h0.8m-3.1 4.4h0.8m1.5 -10.1h0.8m-5.3 6.3h0.8m7.6 -2.1h0.8m-7.4 1.9h0.8m2.6 -1.5h0.8m-2.6 -1.3h0.8m-3.7 -1.5h0.8m3.4 0.9h0.8m-1.2 4h0.8m0.7 -12.6h0.8m-7.6 5.9h0.8m2 8.3h0.8m8.7 3h0.8m-4.9 -4.7h0.8m-7 0.6h0.8m-7.1 1.6h0.8m6.9 -1.3h0.8m-4.4 -7h0.8m0.5 4.3h0.8m2.7 -1.2h0.8m-0.8 4.2h0.8m-6.1 -3.2h0.8m-2.2 -1.8h0.8m7.9 -0.7h0.8m2.6 5h0.8m-4.3 -1.7h0.8m-0.9 4.1h0.8m-3.4 -6.7h0.8m-3.1 10.1h0.8m0.5 -9.8h0.8m-2.7 -5h0.8m-0.1 8.2h0.8m-0.7 -4.4h0.8m2.3 5h0.8m-3.7 -0.6h0.8m-2.7 2.2h0.8m-0.9 -4.9h0.8m3.2 -0.3h0.8m-5.3 10.3h0.8m8.5 -15.7h0.8m-5.7 1.9h0.8m-0.1 -0.1h0.8m0.1 7.5h0.8m3.2 2.7h0.8m-8.4 -1h0.8m-0.8 -4.4h0.8m-1 -6.7h0.8m3.1 -1.1h0.8m-3.7 10.4h0.8m0.4 -8.5h0.8m-3.5 9.2h0.8m5.4 3.7h0.8m-11.1 -4.6h0.8m3.9 1.2h0.8m-5 -3.7h0.8m7.6 -2h0.8m-4.6 -1.4h0.8m4.4 -1.4h0.8m-7.9 4h0.8m1.3 10h0.8m1.3 -12h0.8m0.2 4.8h0.8m-1.8 -1.7h0.8m-0.2 -4.5h0.8m-6.6 3.1h0.8m-0.5 4.6h0.8m9.9 2.2h0.8m-6 -3.7h0.8m-4.8 -6.7h0.8m3.5 -0.7h0.8m-1.6 5.4h0.8m0.7 0.8h0.8m-3 -2.6h0.8m-7.3 1h0.8m7.7 5.7h0.8m1.6 -8.4h0.8m-8.9 7h0.8m0.9 7.6h0.8m1.9 -16.7h0.8m-3.9 12.6h0.8m-5.2 -5.8h0.8m0.7 5.9h0.8m2.5 -10.7h0.8m-5.2 1.3h0.8m-3.8 1h0.8m15.9 2.3h0.8m-9.4 -5.1h0.8m1.3 2.8h0.8m-5 7.6h0.8m3.7 -9.3h0.8m2.9 3.4h0.8m-4.2 0.8h0.8m1.5 1.9h0.8m-6.1 0.4h0.8m-1 -2.4h0.8m6.4 -4.8h0.8m-10.2 2.7h0.8m1 6.9h0.8m-4.6 4.1h0.8m10.4 -11.2h0.8m-5.7 0.3h0.8m0.9 4.2h0.8m-0.6 0.4h0.8m3.4 -3.8h0.8m-5.1 -0.1h0.8m-3.2 1.7h0.8m-1.1 0.5h0.8m-3.6 -2h0.8m0.1 -4.2h0.8m-1.2 2.8h0.8m1.2 -4.4h0.8m-1.2 1.8h0.8m-2.8 5.4h0.8m6 0.4h0.8m-6.4 -3h0.8m5.6 -4.9h0.8m-1.5 0.6h0.8m-7 6.3h0.8m0.6 6.6h0.8m1.7 -7h0.8m0.9 0.4h0.8m-7 4.4h0.8m7.3 0.6h0.8m-10.2 2.6h0.8m1.8 -4.7h0.8m4.9 6.6h0.8m-10.7 -13.9h0.8m9.1 6.2h0.8m-6.1 -14h0.8m1.9 11.2h0.8m-11.6 11.8h0.8m-0.4 -13.3h0.8m8 3.3h0.8m1.9 -2.1h0.8m-6.7 -0.4h0.8m-5 -3.1h0.8m13.6 1.8h0.8m-8.1 10.6h0.8m3.2 -7.3h0.8m-1.9 -1.6h0.8m-6.6 5.2h0.8m2.9 2.5h0.8m-2.2 -8.1h0.8m1.3 0.7h0.8m-3.1 -2.9h0.8m1.2 5h0.8m4.8 -1.4h0.8m-13.5 2h0.8m13.5 -3.7h0.8m-11.7 1.1h0.8m-8.1 -0.7h0.8m8.6 -4.8h0.8m1.9 2.6h0.8m-9.3 0.6h0.8m7.9 10.9h0.8m1.4 -7.1h0.8m-7 -1.9h0.8m4.4 -1h0.8m-2.7 6.1h0.8m-5.5 -6.4h0.8m4 2.4h0.8m-2.8 -2.2h0.8m-0.6 9.8h0.8m4.2 -14.2h0.8m-5.4 7h0.8m-0.9 -6.1h0.8m-1.4 6.3h0.8m-2.7 0.7h0.8m-7 -7.5h0.8m8.2 7.8h0.8m-1.8 -3.5h0.8m0.5 6.4h0.8m1.7 -4.8h0.8m-5.6 4.7h0.8m2.7 -0.8h0.8m-3.7 -7.1h0.8m0.9 0.9h0.8m2.6 6.1h0.8m-12.6 -0.8h0.8m11.6 1.6h0.8m-7.2 -7.8h0.8m4.3 7.7h0.8m-4 -8.9h0.8m-6.4 5.8h0.8m1.7 -3.9h0.8m3.7 7.1h0.8m-9.7 -7.1h0.8m11.1 2.6h0.8m-6.6 2.8h0.8m-3.6 -7.6h0.8m3.3 11.4h0.8m2.7 -6.4h0.8m-0.8 -1.7h0.8m-8.6 -5.2h0.8m4.4 10.6h0.8m-0.5 -3.9h0.8m-3.5 4.7h0.8m0.4 -10.4h0.8m4.2 3.2h0.8m-4.2 2.7h0.8m1.5 1h0.8m-0.2 -0.1h0.8m-6.7 -3h0.8m3.1 -1.3h0.8m0.2 2.4h0.8m-7.4 -2.6h0.8m2 10.9h0.8m2.4 -7.2h0.8m-6.7 7.7h0.8m1.4 -7.8h0.8m-1.3 5.5h0.8m1.3 -7.4h0.8m-0.7 -2.2h0.8m-5.2 3.4h0.8m-7.3 5.5h0.8m16.4 -9.4h0.8m-8.3 -1.9h0.8m0.3 7.4h0.8m1.2 -6.4h0.8m-5.5 2.8h0.8m0.4 12.1h0.8m-0.6 -9.6h0.8m-1.9 3.5h0.8m10.1 1.5h0.8m-4.5 -9.2h0.8m-2.5 4.5h0.8m-0.1 4.3h0.8m-2.9 -11.3h0.8m-2.6 4.8h0.8m0.3 2.3h0.8m1.3 -6.8h0.8m-7.1 6.3h0.8m2.9 -1.4h0.8m-2 1.9h0.8m3 -0.7h0.8m-3.6 -7h0.8m-11 1.5h0.8m9.8 -3.5h0.8m-0.6 9.1h0.8m-2.3 -2.6h0.8m-2.3 6.4h0.8m2 -3.5h0.8m-3.8 1h0.8m5.1 -1h0.8m-6.3 -4.8h0.8m0.9 1.1h0.8m-6.3 7.4h0.8m2.1 -12h0.8m-1.1 16h0.8m1.3 -13.1h0.8m-4.3 8.5h0.8m4.5 -2.1h0.8m-2.9 1.1h0.8m5.4 0h0.8m-6.9 -7.8h0.8m1.4 12.3h0.8m-0.1 -11.7h0.8m-2.4 10.6h0.8m-3.7 -3.4h0.8m5.7 4.8h0.8m-10.7 -14h0.8m6.1 10.1h0.8m-3.4 -3h0.8m-0.9 5.1h0.8m-7.2 -3.9h0.8m2.5 -3.9h0.8m-1.7 -1h0.8m4.5 3.9h0.8m5.6 -1h0.8m-5.9 2.4h0.8m-1.1 4.6h0.8m-1.2 -5.5h0.8m-1.7 -0.6h0.8m-0.6 4.1h0.8m-0.5 -3.8h0.8m-1.1 2.8h0.8m-2.3 0.8h0.8m-1.1 -1h0.8m8 -1.9h0.8m-7.9 -5.9h0.8m2.1 5h0.8m-0.2 -2.8h0.8m-2.2 10.2h0.8m-1.2 -8.9h0.8m-6.8 1.4h0.8m6.1 2.5h0.8m-7.1 -6.8h0.8m-0.3 0.1h0.8m1.7 5.3h0.8m7 -0.3h0.8m-2.4 -7.6h0.8m-0.5 10.1h0.8m-4.7 0.1h0.8m-0.2 4.5h0.8m-0.1 -15.1h0.8m-9.9 13.9h0.8m5.1 -1.2h0.8m-1.7 -8.2h0.8m-0.8 4h0.8m1.1 -3.9h0.8m0.4 5.2h0.8m-6 -7.2h0.8m-4.5 3.3h0.8m6.2 -1.6h0.8m-2.9 2.3h0.8m1.4 3h0.8m2.1 -0.6h0.8m0.2 -5.8h0.8m-2.6 5.5h0.8m-6.7 -4.3h0.8m4.5 3.1h0.8m-6.9 -2.6h0.8m9.1 5.8h0.8m-5.9 2.1h0.8m-4.3 -6.3h0.8m5.8 -0.7h0.8m-8.2 3.8h0.8m8.9 -12.9h0.8m-6 5.3h0.8m-2.4 -0.7h0.8m9.6 3.1h0.8m-9.9 -0.1h0.8m-4.5 1h0.8m3.4 9.2h0.8m-0.5 -0.8h0.8m-5.6 -6.2h0.8m1.4 -6.8h0.8m14.1 5.5h0.8m-13.2 -2.1h0.8m-3.7 -1.2h0.8m4.8 2.6h0.8m-4.9 2.5h0.8m-4.7 0.2h0.8m3 0.8h0.8m-1.6 -1.6h0.8m2.4 3.8h0.8m-5.1 0h0.8m-1.8 -4.8h0.8m3.2 1.4h0.8m-10.2 -4.7h0.8m7.4 7.9h0.8m-2.6 2.5h0.8m-4.7 -6h0.8m7.7 0.3h0.8m-2.4 5h0.8m-6.9 -1.9h0.8m9.9 -4.5h0.8m-20.2 -5.2h0.8m7.6 0.7h0.8m6.6 1.4h0.8m10.9 7.5h0.8m-22.5 -4.7h0.8m15.5 5.3h0.8m-15.4 1.9h0.8m2.3 6.4h0.8m-1.3 -8.8h0.8m5.6 -5.6h0.8m-4.9 8.7h0.8m3 -6.6h0.8m-1.2 9.8h0.8m2 -6.9h0.8m-4.2 -11.1h0.8m-1.9 5.9h0.8m2.6 -0.7h0.8m-2.4 -2.4h0.8m1.7 1.7h0.8m-6.1 7.1h0.8m-2.5 -3.1h0.8m7.2 9.6h0.8m-17.2 -14.5h0.8m13.4 10h0.8m-7.4 -4.6h0.8m0.8 11.9h0.8m-0.8 -18.9h0.8m-8.6 -0.4h0.8m15.6 4.8h0.8m2.9 5.6h0.8m-9.8 0h0.8m1.5 1.5h0.8m-10.9 -8h0.8m1.7 3.6h0.8m0.9 -7.3h0.8m-3.4 16.4h0.8m15.4 -14.3h0.8m-10.8 4.4h0.8m-7.9 4.1h0.8m3.7 5.2h0.8m2.2 -10.8h0.8m-18.6 1.1h0.8m19.3 -3.3h0.8m-0.6 7.6h0.8m-16 -4.8h0.8m11.1 5.2h0.8m-1.7 -4.2h0.8m-3.7 -1.5h0.8m1.2 -4.2h0.8m2.9 4h0.8m-1.5 -1h0.8m-1.4 3.5h0.8m1.9 1.8h0.8m-0.6 -3.4h0.8m-6.4 -0.5h0.8m-7.7 0.7h0.8m12.6 4.9h0.8m-11.9 -2.6h0.8m8.4 -9h0.8m-3.1 9.2h0.8m1.5 -0.4h0.8m-15.1 -12.3h0.8m20.6 8.8h0.8m-4.9 9h0.8m-7.6 -13.1h0.8m6.5 6h0.8m-5.6 2.8h0.8m1.7 2.9h0.8m-14.4 -13.1h0.8m8.1 7.6h0.8m2.9 -0.7h0.8m-6.3 11.7h0.8m8.1 -4.7h0.8m-2.8 -10.6h0.8m-7.2 3.9h0.8m-6.6 -4.3h0.8m6.4 -1.9h0.8m1.4 9.2h0.8m-5.3 -4.4h0.8m4.1 4.4h0.8m-2.2 -9.2h0.8m-12.2 17.7h0.8m4.8 -13.1h0.8m-7.6 -2.3h0.8m5.5 8.6h0.8m-11.7 -11.9h0.8m11.9 4.9h0.8m-2.8 0.3h0.8m-5.4 3.8h0.8m15 -0.6h0.8m-10.7 6h0.8m5.1 -12.4h0.8m-6.9 2.3h0.8m2.2 9.9h0.8m-4.5 -7.4h0.8m3.8 -5.6h0.8m-4.1 9.7h0.8m8.4 -13.4h0.8m-3.2 8.5h0.8m2.5 5h0.8m3.1 -1.7h0.8m-14.4 -6.2h0.8m-6.7 7.5h0.8m10.4 1.4h0.8m-1.8 -12.5h0.8m-5.1 6.8h0.8m2.4 5.4h0.8m6.4 -2.6h0.8m-20.7 -7h0.8m-1.2 1.4h0.8m4.5 5.4h0.8m4.8 4.7h0.8m6.7 -8.5h0.8m-1.6 2.6h0.8m-3.6 7.2h0.8m-10 -7.7h0.8m14.6 -3.7h0.8m-8.4 4.8h0.8m-4.4 -7.8h0.8m-2.3 1.8h0.8m9.3 6.6h0.8m-3 -7.7h0.8m-1.9 7.2h0.8m2.3 -4.7h0.8m-2.2 11.3h0.8m4.9 -12.4h0.8m-17.5 -2.9h0.8m11.1 11.1h0.8m-4.3 -7.9h0.8m4.4 13.4h0.8m-8.2 -9.3h0.8m6.2 3.3h0.8m0.1 -4.9h0.8m-6.6 0.4h0.8m-6 0.2h0.8m0.9 4.3h0.8m-0.9 -2.3h0.8m-3.7 -7h0.8m12 1.3h0.8m1.4 10.4h0.8m-24.3 -8.5h0.8m9.9 3.5h0.8m0.6 -3.4h0.8m7.4 2.6h0.8m-2.5 -3h0.8m-10.2 10.9h0.8m1.5 -13.1h0.8m-0.2 11.6h0.8m-0.7 -9.6h0.8m3.8 9.2h0.8m-5.7 -7h0.8m-1.7 16.2h0.8m0.2 -5.1h0.8m-0.5 -7.2h0.8m-11.7 -1.2h0.8m11.2 -2.7h0.8m-3.4 -5.6h0.8m-7 8.2h0.8m4 -1.4h0.8m1.9 -2.2h0.8m-4 12.7h0.8m-2.9 -12.7h0.8m3.8 -3.5h0.8m-4.6 10.8h0.8m10 -3.9h0.8m12.5 3.8h0.8m-12.3 -8.9h0.8m-1.7 13.5h0.8m-9.2 0.6h0.8m-3.2 -15.8h0.8m3.6 1.8h0.8m3.1 -1.6h0.8m-4 -4.6h0.8m-1.5 16.2h0.8m-2.1 -4h0.8m7 -7.6h0.8m-14.4 6.3h0.8m8.1 -1.8h0.8m-7.9 7.9h0.8m-1.9 -7.9h0.8m5.6 5.3h0.8m-3.1 -8.3h0.8m13.2 -0.1h0.8m-7.7 3.7h0.8m-8.1 0.6h0.8m0.5 1.9h0.8m-13.9 -1.8h0.8m14.1 -5.1h0.8m-3.4 17.8h0.8m12 -9.1h0.8m-10 -5.1h0.8m5.8 -0.8h0.8m-13.5 6.1h0.8m-1.6 -7.9h0.8m13 -4.4h0.8m-9.5 9.2h0.8" stroke="#111" stroke-width="0.8" stroke-opacity="0.85" fill="none"/>
<rect x="200.5" y="446" width="22.6" height="23.8" fill="none" stroke="#111" stroke-width="1.15"/>
<rect x="200.5" y="472.6" width="22.6" height="19.8" fill="none" stroke="#111" stroke-width="1.15"/>
<text x="227.6" y="443.3" font-size="8.5">70.7</text>
<text x="227.6" y="497.8" font-size="8.5">19.1</text>
<text x="180.1" y="513.6" font-size="4.2" text-anchor="middle" fill="#333" stroke="#333" stroke-width="0.15">0 10<tspan dy="-1.4" font-size="3">2</tspan></text>
<text x="204" y="513.6" font-size="4.2" text-anchor="middle" fill="#333" stroke="#333" stroke-width="0.15">10<tspan dy="-1.4" font-size="3">3</tspan></text>
<text x="222.8" y="513.6" font-size="4.2" text-anchor="middle" fill="#333" stroke="#333" stroke-width="0.15">10<tspan dy="-1.4" font-size="3">4</tspan></text>
<text x="242.1" y="513.6" font-size="4.2" text-anchor="middle" fill="#333" stroke="#333" stroke-width="0.15">10<tspan dy="-1.4" font-size="3">5</tspan></text>
<path d="M185.2 505.9v1.1M189.9 505.9v1.1M193.3 505.9v1.1M195.9 505.9v1.1M198 505.9v1.1M199.8 505.9v1.1M201.4 505.9v1.1M202.8 505.9v1.1M209.7 505.9v1.1M213 505.9v1.1M215.3 505.9v1.1M217.2 505.9v1.1M218.7 505.9v1.1M219.9 505.9v1.1M221 505.9v1.1M222 505.9v1.1M228.6 505.9v1.1M232 505.9v1.1M234.4 505.9v1.1M236.3 505.9v1.1M237.8 505.9v1.1M239.1 505.9v1.1M240.3 505.9v1.1M241.2 505.9v1.1M168.1 505.9v1.1M169.6 505.9v1.1M171.1 505.9v1.1M172.3 505.9v1.1M173.5 505.9v1.1M174.7 505.9v1.1M175.9 505.9v1.1M178.3 505.9v1.1M179.5 505.9v1.1M180.7 505.9v1.1" stroke="#777" stroke-width="0.45" fill="none"/>
<text x="154.7" y="422.9" font-size="4.2" text-anchor="end" fill="#333" stroke="#333" stroke-width="0.15">10<tspan dy="-1.4" font-size="3">5</tspan></text>
<line x1="156.9" y1="421.6" x2="158.5" y2="421.6" stroke="#444" stroke-width="0.6"/>
<text x="154.7" y="441.5" font-size="4.2" text-anchor="end" fill="#333" stroke="#333" stroke-width="0.15">10<tspan dy="-1.4" font-size="3">4</tspan></text>
<line x1="156.9" y1="440.2" x2="158.5" y2="440.2" stroke="#444" stroke-width="0.6"/>
<text x="154.7" y="462.4" font-size="4.2" text-anchor="end" fill="#333" stroke="#333" stroke-width="0.15">10<tspan dy="-1.4" font-size="3">3</tspan></text>
<line x1="156.9" y1="461.1" x2="158.5" y2="461.1" stroke="#444" stroke-width="0.6"/>
<text x="154.7" y="486.9" font-size="4.2" text-anchor="end" fill="#333" stroke="#333" stroke-width="0.15">0<tspan dy="-1.4" font-size="3"></tspan></text>
<line x1="156.9" y1="485.6" x2="158.5" y2="485.6" stroke="#444" stroke-width="0.6"/>
<path d="M157.5 478.2h1M157.5 473.9h1M157.5 470.8h1M157.5 468.5h1M157.5 466.5h1M157.5 464.9h1M157.5 463.5h1M157.5 462.2h1M157.5 454.8h1M157.5 451.2h1M157.5 448.5h1M157.5 446.5h1M157.5 444.9h1M157.5 443.5h1M157.5 442.3h1M157.5 441.2h1M157.5 434.6h1M157.5 431.4h1M157.5 429h1M157.5 427.2h1M157.5 425.8h1M157.5 424.5h1M157.5 423.5h1M157.5 422.5h1M157.5 487.1h1M157.5 488.6h1M157.5 490.1h1M157.5 491.6h1M157.5 493.6h1M157.5 495.6h1M157.5 498.1h1" stroke="#777" stroke-width="0.45" fill="none"/>
<rect x="272.1" y="415.3" width="89.9" height="90.7" fill="none" stroke="#9a9a9a" stroke-width="0.8"/>
<text x="321.5" y="411.6" font-size="12" font-weight="bold" text-anchor="middle" letter-spacing="0">E. coli MOI 10</text>
<path d="M291.2 475.2h0.6m-2.3 3.5h0.6m7 4.1h0.6m-10.1 -0.4h0.6m4.4 -3.1h0.6m-3.7 -0.5h0.6m-5.3 -1.1h0.6m8.2 6.5h0.6m2.7 -5.7h0.6m-5 -6.3h0.6m-3.7 3.6h0.6m3.2 -1.3h0.6m-7.2 1.8h0.6m4.5 6h0.6m-5.3 3h0.6m3.3 -8.2h0.6m0.1 2.6h0.6m1.1 1.1h0.6m4.2 2.6h0.6m-10.7 -1.2h0.6m4.4 -5.6h0.6m-5.9 0.6h0.6m-6.8 4.5h0.6m7.4 1.8h0.6m-1.8 -3.6h0.6m4 2.8h0.6m-2 -6.2h0.6m6 5.9h0.6m-3.5 2.4h0.6m-0.5 -3.8h0.6m-3.9 0.7h0.6m-7.6 0.5h0.6m1.3 -1.2h0.6m-0.8 0.9h0.6m1.3 5.6h0.6m1.8 -6.2h0.6m-4.5 -2.5h0.6m2.4 0h0.6m-1.9 -1.8h0.6m3.6 1.5h0.6m-6.2 2.3h0.6m-0.6 -1.6h0.6m0.5 -2.4h0.6m0.4 0.3h0.6m-4.2 3.7h0.6m2.8 -5.7h0.6m-1 5.2h0.6m2.3 0.6h0.6m-1.2 0.7h0.6m-3.2 -4.4h0.6m3.3 1.2h0.6m-2.7 3.3h0.6m2.7 1.8h0.6m-6.4 -5h0.6m3.8 -3.3h0.6m-7 6.4h0.6m1.7 -4.8h0.6m4.4 4.6h0.6m-0.2 -2.7h0.6m-4.9 -0.1h0.6m1.5 -5.2h0.6m-4.1 8.5h0.6m-0.9 -2.4h0.6m2.6 1.8h0.6m-2.8 -5.1h0.6m10 1.3h0.6m-3.4 -3.3h0.6m-6.3 4.9h0.6m5.7 7h0.6m-3.8 -9.6h0.6m-6.9 0.9h0.6m0.4 3.1h0.6m-1.6 -1.6h0.6m7.4 5.3h0.6m-12.4 -7.5h0.6m4.7 7h0.6m-0.4 1.9h0.6m1.8 -1.4h0.6m-4.9 -5.5h0.6m6 2.8h0.6m-10.8 -2.7h0.6m6.7 2.9h0.6m-3.5 3.4h0.6m2.2 -0.9h0.6m0.3 -4.2h0.6m-3.2 -3.9h0.6m3.6 6h0.6m-0.4 -3.6h0.6m-7.4 0h0.6m1.8 1.2h0.6m19.9 -29.6h0.6m-3.6 16.2h0.6m14.7 3h0.6m-15.6 -16.8h0.6m-10.5 7.3h0.6m10.9 1.4h0.6m-5.1 -4.6h0.6m0.9 3.7h0.6m5.1 -2.5h0.6m-14.9 -1.3h0.6m18.7 -3.6h0.6m-11.1 7.7h0.6m6.7 -7.5h0.6m-6.5 4.7h0.6m-1.1 -6.5h0.6m5.3 13.9h0.6m4.1 -6.8h0.6m-2.5 9.7h0.6m1.4 -2.9h0.6m-23.2 -6.5h0.6m15.8 -3.9h0.6m-11.4 1.4h0.6m10.8 -10h0.6m-10.3 4.9h0.6m12.5 23.1h0.6m5 -28h0.6m-14.2 28h0.6m-13.6 -21.1h0.6m10.1 -1.2h0.6m-3.2 21.2h0.6m-4.9 -16.3h0.6m8.8 1.3h0.6m6.8 -2.6h0.6m6.7 4.2h0.6m0.5 -0.9h0.6m-14 4.1h0.6m-9.5 -12.4h0.6m1 19.1h0.6m-14.7 -4.1h0.6m9.5 -0.2h0.6m2.3 0.7h0.6m1.9 -8h0.6m-12 -7.6h0.6m9.2 1.5h0.6m3.8 11.6h0.6m9.5 -4h0.6m-6.6 -14.6h0.6m6.5 21.5h0.6m-13.4 -14.8h0.6m1.9 3.5h0.6m-0.9 14.1h0.6m-6.5 -15.2h0.6m8.8 20.7h0.6m-7 -7h0.6m8 -1.5h0.6m-12.2 -10.7h0.6m-3.2 1.1h0.6m25.3 -7h0.6m-15.1 19.3h0.6m-0.2 -12.9h0.6m1 2.8h0.6m8.4 6.1h0.6m-16.9 -3.8h0.6m5.5 7h0.6m1.2 -5.2h0.6m-3.1 -10.7h0.6m2.7 15.5h0.6m2.2 -7h0.6m-13.2 -1.7h0.6m-3.9 3.1h0.6m-0.3 -10.4h0.6m10.1 -1.5h0.6m-0.9 12.2h0.6m-15.6 -10.9h0.6m18.2 6.6h0.6m-5.5 9.7h0.6m-1.7 -17.5h0.6m-10.2 -0.5h0.6m11.2 19.8h0.6m-6.7 -1h0.6m-9.5 -3.8h0.6m23.4 1.3h0.6m-7.7 -3.6h0.6m-5.5 -24.7h0.6m-4.9 41h0.6m21 -26.2h0.6m-17.5 8.6h0.6m-4.4 -5.1h0.6m1.1 3.2h0.6m7.1 1.8h0.6m1 -2h0.6m-9.8 13.4h0.6m-16.8 -0.1h0.6m16.1 -17.1h0.6m7 -10.1h0.6m-17.8 16.9h0.6m15 0.8h0.6m-3.1 0.6h0.6m-11.1 -4.1h0.6m1.8 -8.1h0.6m3.6 5.5h0.6m0.1 -5.9h0.6m-6.6 8h0.6m-1.3 -3.3h0.6m-1.4 -2.6h0.6m12.8 8.6h0.6m-7.6 -2.7h0.6m-9.4 -0.8h0.6m3.9 -2.6h0.6m-2.3 10.6h0.6m4.4 -8.5h0.6m-4.2 5.6h0.6m-1.4 -2.8h0.6m9.8 3h0.6m-2.4 -10.4h0.6m0 -5.3h0.6m0.7 20.8h0.6m10.9 -18.2h0.6m-20.2 9h0.6m-5.2 5.1h0.6m2 -7.1h0.6m9.7 -7.3h0.6m9.2 7.6h0.6m-13.2 -4h0.6m-13.7 -3.4h0.6m11.5 6.9h0.6m-1.5 -2.9h0.6m-3.4 -5.3h0.6m-9.6 23.5h0.6m5.4 -36h0.6m12.2 15.8h0.6m-14.7 -0.7h0.6m3.2 17.1h0.6m-1.9 -5.7h0.6m11.4 9.6h0.6m-7.5 -24.3h0.6m-8.7 7h0.6m-4.5 6.7h0.6m18.4 -6.5h0.6m-4.1 0.8h0.6m-6.8 6.1h0.6m9.2 9.5h0.6m5 -17.5h0.6m-17.9 -8.9h0.6m12.7 29.4h0.6m-11.4 -6.5h0.6m7.4 -16.1h0.6m-10.1 6h0.6m7.9 -1.6h0.6m8.7 3.9h0.6m-4.5 15h0.6m-15.7 -17.9h0.6m-1.2 -1.9h0.6m1.5 5.7h0.6m1.6 -14.8h0.6m-11.9 14.8h0.6m11.4 2.6h0.6m0.7 8.4h0.6m-6.1 -11.4h0.6m8.8 5.7h0.6m-3.7 -7.9h0.6m-5.4 4.5h0.6m3.3 -7.2h0.6m-9.4 -7.1h0.6m8.6 20.3h0.6m6.6 -16h0.6m-15.6 27.1h0.6m15.1 -4.3h0.6m-8.5 -8.3h0.6m-0.4 3.1h0.6m0.7 -22.4h0.6m16.4 23h0.6m-27 -17.8h0.6m5.9 2.6h0.6m-14.6 3.9h0.6m8.6 -10.4h0.6m12.8 8.1h0.6m-4.7 11.2h0.6m-8.3 -1h0.6m-7.5 -4.2h0.6m11.3 -9.9h0.6m-0.6 10.4h0.6m12.5 -3.3h0.6m-13.8 -4.7h0.6m-4.6 20.2h0.6m4.7 -37.7h0.6m1.6 17h0.6m-0.1 2.9h0.6m-7.7 2h0.6m5.2 6.3h0.6m-9 -9.3h0.6m10.1 3.2h0.6m-3.5 -1.2h0.6m9.4 0.4h0.6m-14 -2.4h0.6m-4.6 -12h0.6m-3.4 12.2h0.6m5.2 -1.1h0.6m18.6 -3.2h0.6m-7.5 18h0.6m-13.8 -13.7h0.6m12 1.6h0.6m-1 3.6h0.6m-16.5 -5.6h0.6m0.3 6.1h0.6m5.6 -14.4h0.6m-11.5 4.9h0.6m24.3 1.9h0.6m-20.3 -4.4h0.6m-6.1 8.9h0.6m3.6 -8.4h0.6m7.9 16.1h0.6m-3.6 -7.8h0.6m-15.6 6.9h0.6m10.1 -11h0.6m-5.9 9.1h0.6m-0.3 -4.4h0.6m-2.3 5.2h0.6m12.2 -15.4h0.6m-7.1 -1.5h0.6m9.5 11.3h0.6m-5.4 6.3h0.6m-7.1 -2.9h0.6m15.4 -11.6h0.6m-13.6 19.3h0.6m4 -15.8h0.6m-22.1 0.5h0.6m15.1 19h0.6m1.3 -21.9h0.6m14.4 10.2h0.6m-17.3 2.7h0.6m-6.1 2.9h0.6m14 -25.8h0.6m-8.6 12.3h0.6m1.4 5h0.6m5.1 3.2h0.6m1.5 -0.1h0.6m2.8 -1.8h0.6m-14.1 3.2h0.6m-3.9 -8.9h0.6m18.9 -3.3h0.6m-22.6 -6.1h0.6m9.5 18.5h0.6m-5.9 -8h0.6m11 -5.9h0.6m-11.2 9.1h0.6m4.8 6.5h0.6m-0.1 -10.2h0.6m-7.2 3.1h0.6m12.1 -9.4h0.6m-12.4 -3.2h0.6m6.6 15.1h0.6m3.9 -6.3h0.6m-4.9 3h0.6m9.6 8.3h0.6m-17.9 -13.5h0.6m4.8 2.5h0.6m3.3 5.2h0.6m-8.7 -5.3h0.6m-3 -5.5h0.6m0.7 2.3h0.6m4.7 5.3h0.6m-10.3 -5.1h0.6m3.3 2h0.6m3.8 9.2h0.6m-1.8 -16.7h0.6m10.2 16h0.6m-3.9 -7.3h0.6m-2.2 14.1h0.6m-15.6 -18.8h0.6m9.5 9.2h0.6m-13.9 -4.2h0.6m24 -5h0.6m-11.1 1h0.6m-13.4 12.3h0.6m15.4 -15.3h0.6m-18.4 16.6h0.6m9.8 -5.4h0.6m-6.8 1.3h0.6m7.5 5h0.6m3.7 -3h0.6m-14.3 -17.3h0.6m-1.6 24.3h0.6m18.7 -10.1h0.6m-17.6 -12h0.6m5.8 15h0.6m8.2 -12.6h0.6m-14.7 5.8h0.6m16.2 3.1h0.6m-17.1 14.4h0.6m-6 -20.2h0.6m-1.8 7.4h0.6m37.7 3h0.6m-36.5 -4.1h0.6m12.8 0.5h0.6m-12.9 -9.4h0.6m3.6 5.2h0.6m-6 11h0.6m-6.3 -12.8h0.6m29.3 3.3h0.6m-4.4 -4.7h0.6m-13.2 6.8h0.6m-3.2 9.1h0.6m5.4 -13.4h0.6m-13.3 10.5h0.6m27.9 -5.7h0.6m-12.7 -7.7h0.6m-1.6 8.7h0.6m1.8 2.7h0.6m-19.9 -16.6h0.6m-5.9 16.1h0.6m12.5 5h0.6m12.2 -14.6h0.6m-3.7 2.8h0.6m-5.2 -1.7h0.6m2.6 12.5h0.6m-4.8 -8h0.6m12.9 -0.2h0.6m-13.7 2.5h0.6m-5 1.9h0.6m7.3 -6.5h0.6m-0.1 2.9h0.6m-22.5 4.4h0.6m17.2 -9.3h0.6m-6.1 6.1h0.6m15.7 -11.1h0.6m-15.9 8.3h0.6m0 8.1h0.6m2.4 1.7h0.6m10 -10.2h0.6m-6.7 18h0.6m-24.8 0.1h0.6m20.1 -8.7h0.6m-16.6 15.5h0.6m13.7 1.5h0.6m1.4 -7.5h0.6m-2.7 4.6h0.6m-4.5 -6.2h0.6m2.3 -0.6h0.6m17.5 -2.7h0.6m-34.5 -3.1h0.6m21.5 5.2h0.6m-8.2 1.1h0.6m0.4 -7.2h0.6m-2.3 5.1h0.6m8.1 7.1h0.6m-20.9 -9.4h0.6m15.2 12.7h0.6m1.1 -7.9h0.6m2.4 -12.9h0.6m-14.8 8.1h0.6m-4.9 9h0.6m10.7 -1.6h0.6m-4.1 1.9h0.6m7.3 -7h0.6m0.7 -2h0.6m6.6 -2.2h0.6m-18.4 1.2h0.6m2.3 14.1h0.6m-7.5 2.7h0.6m18.1 -8.1h0.6m-17.9 3h0.6m-20.3 -9.8h0.6m32.6 4.3h0.6m12.6 -3.8h0.6m-33.7 2.7h0.6m15.9 11.3h0.6m-20.9 -9.1h0.6m25.7 -4.9h0.6m-15.5 -3.1h0.6m10 12h0.6m-2.2 -3.5h0.6m2.9 -2.1h0.6m-2.9 5.5h0.6m4.4 -1.8h0.6m-11.1 1.2h0.6m-14.9 -14.6h0.6m27 11.2h0.6m-23.8 -4.2h0.6m7.2 3.8h0.6m-5.9 5.5h0.6m-8.8 10.6h0.6m4.8 -6.7h0.6m14.6 -19.7h0.6m-17.1 10.3h0.6m12.5 -2.9h0.6m-2.9 3.5h0.6m-10.7 -0.6h0.6m29.3 -4.2h0.6m-29.3 7.7h0.6m20 2.3h0.6m-17.9 -6.6h0.6m6.7 -0.8h0.6m1.1 7.6h0.6m0.7 -6.5h0.6m-7.2 10.7h0.6m-9.6 1.2h0.6m16.7 -11.3h0.6m-13.6 10.3h0.6m16.6 -5.4h0.6m7 -16h0.6m-18 8.8h0.6m-7.9 2.2h0.6m10.5 2.7h0.6m-6.5 -10.9h0.6m5.5 11.4h0.6m13.2 1.9h0.6m-19.1 -12.3h0.6m23.2 2.8h0.6m-22.8 8.4h0.6m2.1 3.5h0.6m-14.2 -12h0.6m10.1 -3.2h0.6m-7.6 15.5h0.6m7.4 -8.8h0.6m-8.2 0.9h0.6m4.1 -6.7h0.6m6.7 -1.2h0.6m3.8 5.6h0.6m-32.2 -7.2h0.6m22.2 4.1h0.6m12.9 13.3h0.6m2 -2.9h0.6m-7.3 -8.9h0.6m-1 1h0.6m-12.6 -5.5h0.6m0.3 10.5h0.6m-1.6 -9h0.6m8 12h0.6m-9.5 -0.7h0.6m9 -10.5h0.6m-9.7 -5.3h0.6m-9.5 13.6h0.6m0.8 -0.2h0.6m10.4 -14.6h0.6m-8.1 21.3h0.6m3.8 -8.3h0.6m-7 -10.2h0.6m-8.5 26.6h0.6m12 -22.3h0.6m5.8 0.2h0.6m8.3 12.3h0.6m-15.5 -4.7h0.6m-1.7 1.8h0.6m-0.2 -3.4h0.6m14.4 2.3h0.6m-12 -6.9h0.6m-9.4 9.2h0.6m14.1 -3.9h0.6m4.5 0.3h0.6m-14.4 -0.9h0.6m3.8 0.4h0.6m17.5 2h0.6m-16.1 -2.8h0.6m-7.3 -2.6h0.6m-8.9 1.8h0.6m1.9 -4.7h0.6m3.4 -0.6h0.6m15.6 11.1h0.6m-17 2.7h0.6m10.8 -15.5h0.6m-5.1 5.2h0.6m-12.9 2.5h0.6m19.6 2.4h0.6m-18.8 -3.7h0.6m4.3 6.1h0.6m4 -7.2h0.6m-6.3 -3.4h0.6m-0.1 9.7h0.6m-8.1 -2.3h0.6m12 2.1h0.6m-7.8 0.3h0.6m18.3 4.7h0.6m-22.9 -7.9h0.6m9.3 0.5h0.6m-6.1 2.5h0.6m22.8 2.2h0.6m-23.7 -7.1h0.6m11.2 2.5h0.6m-11.1 3.7h0.6m8.4 -0.7h0.6m-5.5 0.8h0.6m-2.6 -8.1h0.6m2.6 -0.9h0.6m8.3 7.2h0.6m-21.2 -1.9h0.6m17.1 -1.8h0.6m-3.6 -0.8h0.6m-4 1.7h0.6m3.3 -3h0.6m-12 4.4h0.6m3.8 0.7h0.6m-0.6 -6.3h0.6m8.1 5.4h0.6m-0.6 -2.1h0.6m-8.3 5.5h0.6m-9.9 1.6h0.6m14.9 -6.1h0.6m-3.6 2.3h0.6m-6.7 -1.2h0.6m-1.9 -7.2h0.6m7.6 6.6h0.6m2.5 1.6h0.6m-0.2 0.8h0.6m-13 1.4h0.6m25.7 -6h0.6m-28.3 4.2h0.6m14.7 1.1h0.6m3.7 -8.1h0.6m-8.7 6.3h0.6m32.9 -29.4h0.6m-20.3 8.3h0.6m-3.6 3.7h0.6m-0.5 -26.1h0.6m1.3 29.5h0.6m-11.2 -11.6h0.6m-3.4 36.2h0.6m28.3 -28.7h0.6m-31.1 10.6h0.6m5.3 16.3h0.6m26.9 -25.9h0.6m-8.6 -10.8h0.6m-35.9 26.3h0.6m51.2 -18.4h0.6m-35.4 -23.9h0.6m42.4 9.5h0.6m-50.7 16.2h0.6m34.5 4h0.6m-20.5 -0.6h0.6m13.4 -0.9h0.6m-11.7 -0.6h0.6m-21 22.8h0.6m6.1 -42.8h0.6m3.5 21.7h0.6m19.6 -24.1h0.6m-34.2 26.5h0.6m26 -20.5h0.6m-25 20.4h0.6m15.3 -28.8h0.6m-12.4 49.9h0.6m-3.5 -7h0.6m-8.2 7h0.6m49.8 -34.1h0.6m-37.3 20.3h0.6m-9.6 -1.2h0.6m38.9 -4.7h0.6m-15 -6.7h0.6m10.4 -10.7h0.6m8.8 12.8h0.6m-31.4 -25.8h0.6m-2.5 30h0.6m26.5 -29.7h0.6m-22.6 14.9h0.6m-17.8 11.1h0.6m6.4 13.9h0.6m-31.7 -2.2h0.6m12.1 -43.1h0.6m38.4 25.9h0.6m-6.9 -10.1h0.6m-19.6 3.7h0.6m15.4 -1.7h0.6m-6.4 -0.3h0.6m9.9 -4.5h0.6m-37.8 -23.9h0.6m32.5 43.7h0.6m15.2 -13.4h0.6m-34.4 -12h0.6m29.9 13.9h0.6m3.1 8.7h0.6m-20.9 -28.6h0.6" stroke="#151515" stroke-width="0.66" stroke-opacity="0.8" fill="none"/>
<ellipse cx="327.8" cy="451.8" rx="10" ry="10.5" fill="url(#core)" transform="rotate(28.6 327.8 451.8)"/>
<ellipse cx="327.5" cy="480" rx="8.5" ry="9" fill="url(#core)"/>
<path d="M323.5 453.8h0.8m-0.3 -0.4h0.8m-5.4 -0.6h0.8m15.3 9.3h0.8m-4.5 -14.9h0.8m-5.2 0.8h0.8m5 -4.4h0.8m-11.2 9.8h0.8m3 1.8h0.8m6.2 -6.5h0.8m-12.7 2.3h0.8m5.2 1.2h0.8m-6.1 2.3h0.8m3.8 3.1h0.8m-2.9 -3.6h0.8m4.1 -6.3h0.8m0.7 -3.1h0.8m-5.4 7.6h0.8m5.3 -3.4h0.8m-9 -2.8h0.8m-3.8 -1.1h0.8m14.7 12.8h0.8m-11.3 -10.3h0.8m9.6 3h0.8m-10.2 0.8h0.8m-1.7 -3.9h0.8m-4 -2.4h0.8m5 15.5h0.8m-5 -6.2h0.8m3.3 -1h0.8m-5.5 3.5h0.8m5.1 -4.7h0.8m-6.4 3.3h0.8m1.7 -7.7h0.8m-0.2 1.5h0.8m2.9 6.8h0.8m-3.7 -6.5h0.8m2.5 7.1h0.8m0.6 3.4h0.8m-5.9 -10.9h0.8m-2.8 3h0.8m2.5 3.5h0.8m6.7 -7h0.8m-6.7 -2.6h0.8m-6.6 1.3h0.8m1.4 -0.8h0.8m-8.8 7.1h0.8m4 1.7h0.8m3.9 -15.4h0.8m-6.3 14.5h0.8m0.4 -2h0.8m-5 3.2h0.8m5.6 1.6h0.8m-4 -0.5h0.8m4.6 -6.7h0.8m-4.7 0.8h0.8m1.1 -5.8h0.8m-1.4 10.2h0.8m-2.6 -0.3h0.8m11 -5.2h0.8m-6.4 -1.4h0.8m-6.8 3h0.8m-8.2 -1.6h0.8m11.2 6.2h0.8m-4.4 5h0.8m-2.9 -5.1h0.8m7.3 1.1h0.8m-11.2 -9.3h0.8m8.1 -3.1h0.8m-5.5 10.5h0.8m0.7 -4.4h0.8m6.5 1.7h0.8m-11.2 -2.1h0.8m5.6 6.5h0.8m-2.2 -6.7h0.8m0.3 8.1h0.8m-10.5 -8.3h0.8m-5.9 3.6h0.8m15.2 -2.9h0.8m-8.6 -2.5h0.8m-4.5 2.7h0.8m9.2 -7.3h0.8m-5.8 13.5h0.8m-1.9 -9.1h0.8m9.4 8.5h0.8m-9.6 -4.7h0.8m6.9 -2.4h0.8m-2.6 -4.4h0.8m-6.5 -2.6h0.8m3.9 12.7h0.8m-3.3 3.6h0.8m-1.1 -5.5h0.8m0 1.7h0.8m-4.5 -6.1h0.8m1.9 3.1h0.8m-2.7 -1.9h0.8m2.3 3.5h0.8m-1.1 3.3h0.8m-1.3 0.5h0.8m-0.7 2.4h0.8m3 -9h0.8m1.5 10.9h0.8m-3.9 -3.9h0.8m-0.9 -10.3h0.8m-1.2 4.1h0.8m0.2 -9.2h0.8m4.2 8h0.8m-14.3 1.5h0.8m8.2 -1.9h0.8m-5.3 3.2h0.8m-0.8 1.5h0.8m3.5 -2.5h0.8m-15.5 5.9h0.8m11.1 -10.9h0.8m-0.3 9h0.8m-9.9 4.7h0.8m-4.7 -8h0.8m9.9 0.5h0.8m1.8 -1.5h0.8m1.7 -4.6h0.8m-10.7 11.9h0.8m-7.5 -7h0.8m5.3 -8.1h0.8m9.7 8.1h0.8m-3.7 -7.5h0.8m-2.1 6.5h0.8m0.4 -6.9h0.8m-2.4 10h0.8m2.6 2.4h0.8m-0.9 3.6h0.8m-18 -6.8h0.8m15.5 -5.9h0.8m-3.4 9.5h0.8m-3.1 -13.3h0.8m5.9 7.4h0.8m0.3 4.9h0.8m-4.7 -10.6h0.8m4.4 0.6h0.8m-8.8 -2.1h0.8m3.4 18.8h0.8m-3.1 -12.7h0.8m-1.2 8.8h0.8m-8.6 1h0.8m3.9 -3.3h0.8m-6 -9.4h0.8m0.6 12h0.8m8.5 -12.8h0.8m5.9 6.8h0.8m-6.7 -6.3h0.8m-1.6 7.5h0.8m-3 -4.5h0.8m-1.2 -1.9h0.8m-8.3 6.4h0.8m13.7 -6.3h0.8m-12.6 3.5h0.8m13.4 4.3h0.8m-10.3 -5.4h0.8m1.1 1.5h0.8m-0.4 6.5h0.8m-4.1 1.5h0.8m1.2 -10.6h0.8m14.3 0.6h0.8m-16.6 -10.9h0.8m3.3 9.3h0.8m4.2 -2.9h0.8m-9.2 4.8h0.8m-7.8 4.4h0.8m3.3 -1.4h0.8m-0.6 -1.5h0.8m-0.3 -0.2h0.8m2.2 -2.5h0.8m0 3.2h0.8m-4 -6.5h0.8m-1 12.9h0.8m-3.3 -10.9h0.8m2.4 9.7h0.8m5.3 -8.9h0.8m-8.1 7.5h0.8m2.5 -4.4h0.8m-7 -1.2h0.8m3.7 1.7h0.8m2.3 8.1h0.8m-7.1 -8.7h0.8m1.3 0.4h0.8m4.5 7.4h0.8m-3 -9.9h0.8m-3.9 3.9h0.8m-3.8 2.4h0.8m6.4 -8.6h0.8m10.7 -3.1h0.8m-15.8 7h0.8m1 7.8h0.8m-0.1 2.8h0.8m-1.7 -8.4h0.8m2.1 0.8h0.8m-8.2 -6.4h0.8m3.8 8.4h0.8m-8.7 -1.1h0.8m10.7 -8.5h0.8m-6 10.9h0.8m2.5 -5.4h0.8m-9.1 3.3h0.8m5.6 -2.7h0.8m-0.7 -5.6h0.8m-7.8 -0.1h0.8m7.6 10.8h0.8m-9.2 -0.4h0.8m6.8 -9.8h0.8m-1.9 12.5h0.8m0.2 -13.8h0.8m3.2 -4.4h0.8m-9.5 16.9h0.8m5.2 -9.1h0.8m0.3 1.9h0.8m0.9 1.7h0.8m2.1 1.6h0.8m-6.3 -6.2h0.8m-9.2 2.5h0.8m8.2 -2.3h0.8m-1.3 2.8h0.8m-5.7 -0.8h0.8m0.9 5.3h0.8m3.1 0.2h0.8m-5.6 -8.5h0.8m4.4 0.1h0.8m-4.6 2.3h0.8m-1.9 2.6h0.8m0.1 8.4h0.8m0 -2.9h0.8m-8 -3.9h0.8m13.4 -5.3h0.8m2 5.8h0.8m-24.4 -0.1h0.8m14.2 -5.9h0.8m-7.5 6.7h0.8m5.6 -4.5h0.8m3.8 -0.5h0.8m-9 -2.5h0.8m-3.4 5.5h0.8m5.2 -6.3h0.8m0.5 -4.4h0.8m-3.3 10.1h0.8m1.6 -0.6h0.8m0 -3.3h0.8m-4.7 3.8h0.8m-6.3 -0.7h0.8m5.4 0.5h0.8m-7.6 7h0.8m7.4 -10.7h0.8m-7.1 4h0.8m4.7 -4.6h0.8m-6.6 6.3h0.8m1.9 2.1h0.8m4 -9.6h0.8m-1 8.1h0.8m-5 -5.7h0.8m-4.6 4.1h0.8m2.1 -0.3h0.8m3.4 -1.8h0.8m-0.5 0.3h0.8m-6.1 -3.8h0.8m-3.5 4.9h0.8m9.1 -2h0.8m-2.9 3.5h0.8m3.2 -4.3h0.8m-4.1 -2.1h0.8m-8.9 8.5h0.8m-0.4 -12.3h0.8m4.5 12.2h0.8m1 -14.4h0.8m-9.8 8.2h0.8m8.4 7.9h0.8m-8.6 -1.8h0.8m2.9 -2h0.8m-3.1 4.1h0.8m6.6 -16.4h0.8m-5.4 10.3h0.8m3.5 -2.7h0.8m-1.7 -2.7h0.8m-3.7 5.1h0.8m-2.6 7.5h0.8m-6.5 -9.3h0.8m12.1 -2.1h0.8m-4.8 4.1h0.8m-6.5 0.9h0.8m10.1 5.7h0.8m-5.9 -0.7h0.8m-3.9 -2.2h0.8m-1.5 -4.7h0.8m2.2 7.8h0.8m-0.8 -8.7h0.8m1.5 2.4h0.8m-4 3.1h0.8m-4.3 -1.6h0.8m6 -2.4h0.8m-6 -4.9h0.8m0.1 9.1h0.8m-7.4 -4.9h0.8m11.4 -3.4h0.8m-1.9 7.8h0.8m0.8 -6.6h0.8m-10.8 4.8h0.8m9.7 2.7h0.8m-4.8 -6.6h0.8m-9.6 3h0.8m4.5 4.3h0.8m-2.7 -2h0.8m0.3 -2h0.8m9.9 -1.2h0.8m-4.2 2h0.8m-8 -2.8h0.8m7.1 -0.7h0.8m-4.5 -1.2h0.8m-3.4 0.5h0.8m5.7 2h0.8m0.4 1.3h0.8m-11.2 2.2h0.8m10.8 -3h0.8m-2.6 -3.8h0.8m-6.2 1.3h0.8m5.3 -1.4h0.8m-6.6 -0.1h0.8m2.7 -1h0.8m-15.3 14h0.8m14.7 -15h0.8m1 2.1h0.8m-17.5 7h0.8m16.4 -4.2h0.8m-12.4 0.8h0.8m10.3 6.8h0.8m-1.7 -10.2h0.8m-13.3 1.7h0.8m10 4.5h0.8m-7.4 3.2h0.8m-3.2 -2.9h0.8m9.3 -3.8h0.8m-5.1 1.6h0.8m3.3 -3.6h0.8m-6.2 2.8h0.8m0.4 0.2h0.8m0.4 -0.4h0.8m-6.3 3.6h0.8m1.8 -5.9h0.8m0.2 -3.9h0.8m1.5 7.2h0.8m-4 0.9h0.8m-1.5 0.9h0.8m7.2 2.5h0.8m-11.3 1.3h0.8m10.2 -11.8h0.8m-2.7 9h0.8m0.5 -6.6h0.8m-8.1 -1.3h0.8m5.4 0.8h0.8m-10.1 6.1h0.8m1.3 -3.3h0.8m2.4 -8h0.8m-1.4 8.1h0.8m-8.2 1.9h0.8m7.6 4.1h0.8m-1.1 -11.1h0.8m-2.2 6.3h0.8m0.6 -3.3h0.8m-3.4 -2.2h0.8m1.9 2.8h0.8m5.1 4.4h0.8m-4.8 -3.2h0.8m-2 -3.4h0.8m-0.7 -2.8h0.8m-12.9 8.6h0.8m4.9 -1.7h0.8m4.8 -2.3h0.8m2.3 1.7h0.8m-2.3 0.2h0.8m-1.9 6.6h0.8m-4.3 -1.2h0.8m-0.3 2.7h0.8m3.9 -14h0.8m-3.6 8h0.8m-1.8 -3h0.8m1.9 -4.1h0.8m5.3 5.9h0.8m-9.1 -8.9h0.8m-3.5 6.9h0.8m6.2 7.2h0.8m-4.6 -12h0.8m-4.9 4h0.8m7.3 2.3h0.8m-3.6 11.4h0.8m3.3 -19.7h0.8m-2.1 10.3h0.8m-4.8 3.7h0.8m-4.8 -7.1h0.8m5.3 -1.1h0.8m-0.3 3.6h0.8m-9.3 6.1h0.8m1.8 0.2h0.8m-0.6 -3.1h0.8m-1 -4.9h0.8m11.1 -5.9h0.8m-7.1 6.7h0.8m0.2 3h0.8m-1.7 -8.3h0.8m8.9 8.1h0.8m-12.6 -6.3h0.8m-2.9 3.9h0.8m-6.4 1.4h0.8m4.1 0.2h0.8m-4.9 -8.2h0.8m5.4 4.1h0.8m-3.7 2.1h0.8m6 -3.2h0.8m-13.2 2.4h0.8m4.3 4.7h0.8m6.2 -2.5h0.8m-8.5 -5.6h0.8m-1.9 8h0.8m-3.6 -3.3h0.8m3.1 -5.8h0.8m0 -0.3h0.8m0.3 6.3h0.8m-2.1 1.1h0.8m8.8 2.4h0.8m-10.5 -7.1h0.8m3.4 1.3h0.8m0.3 8.7h0.8m3.7 -0.9h0.8m-16.1 -11.9h0.8m12.7 3.8h0.8m-9.2 4.5h0.8m6.4 -6.9h0.8m1 -9.5h0.8m-2.9 8.8h0.8m-1 0.1h0.8m-5.5 1h0.8m14.1 4.5h0.8m-16.6 -5.1h0.8m4.3 10h0.8m0.4 -5.4h0.8m-1.8 -3h0.8m-1.9 -0.7h0.8m-4.9 -3.3h0.8m8.2 12.4h0.8m-9.3 -7.4h0.8m-2.7 6.1h0.8m4.9 -6.8h0.8m-0.4 5.3h0.8m-3.2 -7.2h0.8m4.1 -1.9h0.8m-10.6 8.8h0.8m5.4 4h0.8m-1.7 -9.7h0.8m-0.4 0.9h0.8m4.2 4.1h0.8m0.5 -1.9h0.8m-9.5 7.7h0.8m0.3 -11.6h0.8m1.9 -3.7h0.8m-1.9 4.6h0.8m7.8 5.6h0.8m-19.6 -2.6h0.8m12.5 2h0.8m-4.9 1.8h0.8m-2.3 -4.5h0.8m-1.9 8.1h0.8m7.1 -3.7h0.8m-12.3 -2.4h0.8m3.1 3.7h0.8m1.9 -3.9h0.8m3.4 -2.6h0.8m-12.4 9.9h0.8m1.6 -6h0.8m5 2.6h0.8m6.5 -7.6h0.8m-0.7 -3.8h0.8m-9.4 8.2h0.8m1 5h0.8m-4.8 -9.5h0.8m3 -0.2h0.8m-3.3 -1.2h0.8m1.7 12.2h0.8m-2.9 0.6h0.8m3 -12.8h0.8m-6.3 3.9h0.8m2.9 7.5h0.8m-7.1 -4.9h0.8m1.3 -0.7h0.8m2.4 6.5h0.8m-3.2 -8h0.8m4.1 -0.8h0.8m-4.3 3.5h0.8m-4.2 -8.5h0.8m10.9 12.3h0.8m-5.9 -15.1h0.8m-7.5 8.9h0.8m5.2 2.9h0.8m1.2 -4.5h0.8m4 -0.2h0.8m-6.6 1.5h0.8m-11.4 0.4h0.8m4.8 2.1h0.8m5.9 0.7h0.8m-6.8 -5.3h0.8m-2.4 8h0.8m2.1 2.4h0.8m4.2 -9.9h0.8m-4.1 7.5h0.8m-3.4 -4.2h0.8m2.4 -7.5h0.8m-4.6 8.8h0.8m5 -12.9h0.8m-9.9 12.9h0.8m2.8 2.1h0.8m-0.8 -8.2h0.8m-0.9 -2h0.8m2.6 6.7h0.8m-4.8 -1.3h0.8m-2.2 -4.4h0.8m1.1 -5h0.8m-1.2 2h0.8m4.1 15.9h0.8m2.5 -8.7h0.8m-1.8 -3.5h0.8m-8.1 3.4h0.8m-4.5 -2.2h0.8m12.2 -5.1h0.8m-15.8 1.4h0.8m6.6 6.3h0.8m-5.4 -0.2h0.8m6.6 -2.9h0.8m2.4 7h0.8m-7.6 4.9h0.8m-0.5 -11h0.8m-5.3 -2.5h0.8m0.8 15.6h0.8m4.9 -9.3h0.8m-5 -7.9h0.8m-1.7 -3.4h0.8m2.5 10.8h0.8m-3.3 -4.1h0.8m-2.3 3.7h0.8m7 -2.1h0.8m-3.2 -4.9h0.8m-8.6 14.1h0.8m3.8 -4.6h0.8m0 3.7h0.8m1.3 -11.6h0.8m0 10.2h0.8m-7.3 -2.6h0.8m4.1 -3.4h0.8m4.5 6h0.8m-4.3 -6.5h0.8m-4.3 5.4h0.8m4.2 -7h0.8m-2.3 2.6h0.8m-1.1 -0.5h0.8m-6.5 -10.8h0.8m7 1h0.8m-14.5 15.5h0.8m12.8 -6.1h0.8m1.9 -8.1h0.8m-8.4 13.2h0.8m4.2 -9.6h0.8m0.2 4.7h0.8m-8 0.1h0.8m-4 8.2h0.8m-0.4 0.7h0.8m9 -12.9h0.8m-5.4 4.5h0.8m1.6 7.9h0.8m7.6 -5.9h0.8m-18.3 6.6h0.8m2 -9.1h0.8m11.3 -0.8h0.8m-8.4 -2.7h0.8m-0.3 6.5h0.8m-3.4 -0.1h0.8m-1.1 -5.8h0.8m-1.8 12.5h0.8m1.9 -9.2h0.8m4 2.8h0.8m-1.2 0.6h0.8m-1.2 -0.5h0.8m-5.9 -8.4h0.8m-2.2 14.1h0.8m9.4 -6.4h0.8m3.3 -2.1h0.8m-17.5 2h0.8m-3.2 -1.4h0.8m6.7 2.5h0.8m-6 -4.1h0.8m7.9 2.4h0.8m-0.6 0.5h0.8m-2.5 -2.8h0.8m-7.3 -2.7h0.8m7.3 1.2h0.8m-7.9 -8.2h0.8m8 12h0.8m-11.7 2h0.8m7.7 -10.3h0.8m-3.2 2.1h0.8m0.2 0.4h0.8m-3.1 6.2h0.8m-1.6 -4h0.8m-1.6 5.1h0.8m-2.7 -1.4h0.8m8.5 -0.1h0.8m-8.5 -4.8h0.8m-3.2 -2.6h0.8m0.4 2.7h0.8m0.6 4.5h0.8m1.2 0.6h0.8m-1.1 -0.9h0.8m-5.6 -0.6h0.8m7 6.7h0.8m-8.8 -8.1h0.8m-2.6 0.8h0.8m7.2 -2.3h0.8m-3.3 -0.1h0.8m3.5 -1.6h0.8m-3.3 5.3h0.8m1.6 -0.4h0.8m-8.2 8.9h0.8m7.5 -6.4h0.8m-10.2 -3.5h0.8m13.8 -9.9h0.8m-10.4 11.4h0.8m0.6 -0.8h0.8m-4.5 5h0.8m5 -6h0.8m-8.5 8.8h0.8m2.9 -12.3h0.8m2 5.2h0.8m-3.7 5.1h0.8m4.4 -2.3h0.8m-3.7 -4.2h0.8m-4.2 3.9h0.8m0.2 -10.6h0.8m1.9 1.9h0.8m-6.8 8.5h0.8m-4.8 -5.6h0.8m4.4 -1.5h0.8m3.6 -1.7h0.8m-6.5 2.6h0.8m-1.1 -12.1h0.8m1.1 18.6h0.8m10.6 -1.4h0.8m-10.5 -5.2h0.8m1 7.6h0.8m-4.9 -4.7h0.8m1 4.6h0.8m0.9 -6.4h0.8m0.2 -5.6h0.8m-1.4 10.8h0.8m3.3 -0.2h0.8m-3.8 -8.1h0.8m-3.8 -0.6h0.8m2.8 6.4h0.8m-9.9 -6h0.8m8.6 0h0.8m-3.4 7.2h0.8m-0.2 -10h0.8m-1.9 8.2h0.8m-3.5 5.6h0.8m6.5 -10h0.8m0.7 2.8h0.8m-2.9 3h0.8m3.7 -3.6h0.8m-5.9 5h0.8m-7.4 -2.1h0.8m11.6 4.9h0.8m-10.7 -8.2h0.8m5.8 5.8h0.8m2 -3.4h0.8m0.7 -4.3h0.8m-9.2 2.5h0.8m-5.4 5.8h0.8m0.8 -3.9h0.8m7 6.9h0.8m-5.5 -11.1h0.8m-9.1 1.5h0.8m8.1 8.8h0.8m-5.6 3.1h0.8m11.4 -17.7h0.8m-14 9.8h0.8m0.9 1.1h0.8m13.7 -0.8h0.8m-3.7 2.2h0.8m-14.6 -6.6h0.8m9.4 1.8h0.8m2.4 0.2h0.8m-11.5 4h0.8m2.6 -6.3h0.8m-2.9 5.5h0.8m4 6.5h0.8m2.9 -5.6h0.8m-13.7 -7.1h0.8m6 -1.5h0.8m-3.4 3.7h0.8m-0.9 5.3h0.8m-4.9 -1h0.8m3.7 0.2h0.8m8.1 -5.9h0.8m-0.7 2.9h0.8m-9.4 5.2h0.8m7.3 -10.2h0.8m-9.8 9.9h0.8m0.9 -5.7h0.8m-4 7.7h0.8m2.9 -12.2h0.8m-3.9 0.6h0.8m0.4 5.5h0.8m4.5 -8.4h0.8m-11.8 7.1h0.8m12.4 -4h0.8m2.4 -4.1h0.8m-2.6 15.5h0.8m-15.3 -8.3h0.8m7.4 -0.8h0.8m-2.5 0.3h0.8m1.7 -2.3h0.8m-5.9 5.2h0.8m7.6 -5.8h0.8m-11.2 10.2h0.8m3.4 2.8h0.8m-2.2 -15.5h0.8m-1.7 -5.4h0.8m3.7 7.3h0.8m-4.2 0.1h0.8m-1 8.2h0.8m7.9 -9.4h0.8m-0.7 7.9h0.8m-10.6 -3.7h0.8m4.5 -4.6h0.8m4.6 7.4h0.8m-11.4 0.4h0.8m7.7 4.3h0.8m-10.1 -5.4h0.8m6.7 3.8h0.8m-0.5 -4.5h0.8m-0.7 -6.5h0.8m-4.4 1h0.8m-4.2 12.5h0.8m-2.7 -16.4h0.8m1.3 7.8h0.8m8.5 1.4h0.8m-12.6 4.4h0.8m5.1 -0.5h0.8m3.8 -4.4h0.8m-3.3 -0.9h0.8m-7.7 3.9h0.8m6.1 -9.2h0.8m-8 12.3h0.8m4.8 0.3h0.8m-3.7 -9.5h0.8m5.8 9.1h0.8m-22.6 1.7h0.8m11.7 -1.2h0.8m13.2 -6.2h0.8m-16 3.5h0.8m5.5 2h0.8m-9.8 -2.1h0.8m13.1 3h0.8m-2.4 3.2h0.8m-9.6 0.2h0.8m5.5 -14.5h0.8m-3.9 8.3h0.8m3 7h0.8m-1.7 -12.1h0.8m11.2 1.1h0.8m-18.9 8.2h0.8m1.7 -11.1h0.8m-4.7 12.8h0.8m-0.8 -7h0.8m2.8 -1.9h0.8m-2.9 2.2h0.8m7.7 5.9h0.8m-6.6 -14.5h0.8m-7.5 7.7h0.8m-6.9 8.6h0.8m14.4 -7.9h0.8m-9.4 -5h0.8m3.1 8.6h0.8m1.2 -0.4h0.8m4.8 -16.5h0.8m-5.3 20.7h0.8m-2.5 -7.3h0.8m1.5 -8.9h0.8m13.1 7.2h0.8m-10.1 -2.1h0.8m3.8 10.4h0.8m-2.1 -1.3h0.8m-3.7 2.9h0.8m-2.6 -8.2h0.8m1.7 -6.7h0.8m-21 11.1h0.8m15.4 -9.8h0.8m-3.3 -1.7h0.8m-4.3 7.5h0.8m5 4.2h0.8m-2.1 -1.3h0.8m3.9 -8.7h0.8m-15.1 0.1h0.8m7.9 1h0.8m14 -1h0.8m-11.2 -0.5h0.8m0.5 -3.3h0.8m0.7 9.4h0.8m-8.9 -8.9h0.8m11.6 4h0.8m-2.1 -11.9h0.8m-16.7 27.4h0.8m17.1 -11.6h0.8m-5.5 3.8h0.8m-9 -3.1h0.8m-5.5 -9.6h0.8m6.8 13.5h0.8m-0.5 -12.7h0.8m3.3 8.5h0.8m-1.4 -2.4h0.8m-6.9 8.7h0.8m9.1 -14.6h0.8m-15.8 14.1h0.8m8.1 -6h0.8m-8.9 6.2h0.8m6.2 -5.1h0.8m0.4 -4.8h0.8m-0.7 4.2h0.8m1.1 1.6h0.8m-12.8 -7h0.8m5.3 12.1h0.8m-3.1 -0.2h0.8m9.6 -1.6h0.8m6.3 -5.8h0.8m-12.5 8h0.8m-0.3 -1.5h0.8m-4 2.8h0.8m2.1 -21.6h0.8m3.6 11.1h0.8m-12.6 -0.7h0.8m2.8 9.4h0.8m2.9 -7.9h0.8m-2.9 -5.3h0.8m-4.6 2.8h0.8m1.7 -4.6h0.8m-1.8 14.1h0.8m4.3 -6.5h0.8m-1.4 -1.6h0.8m-10 7.3h0.8m19.8 -2.4h0.8m-10.2 12.6h0.8m-12.2 -12.5h0.8m4.4 -5.2h0.8m-8.7 1.3h0.8m11.6 -9.9h0.8m-4.5 7.2h0.8m-5.5 7.3h0.8m15.1 -1.4h0.8m-4.5 2.2h0.8m-7.4 -1.1h0.8m7.6 -6.6h0.8m-9.7 -6.1h0.8m-11.1 3.6h0.8m15.8 7.7h0.8m-4.6 6.1h0.8m-13 0.4h0.8m10.3 -3.9h0.8m7 -10.3h0.8m-14.3 7.9h0.8m4.1 -6.4h0.8m-1.3 -0.9h0.8m0.8 2.2h0.8m8.6 -4.2h0.8m-7.5 7.2h0.8m5.2 -6.8h0.8m-13.1 17.5h0.8m-2 -13.7h0.8m0.8 -3.8h0.8m9 16.1h0.8m-9.1 -14.7h0.8m-8.1 9.2h0.8m4.2 -0.8h0.8m-12.1 -6.2h0.8m17.5 5.4h0.8m-21.9 -0.8h0.8m17.3 -2h0.8m-3.7 -2.8h0.8m2.2 6.2h0.8m-20.8 -3.4h0.8m23.9 -1.3h0.8m1 -4.6h0.8m3.3 12.2h0.8m-14.7 11.5h0.8m10.3 -7.5h0.8m-16.7 -10.9h0.8m9.2 7.5h0.8m-3.1 -15.2h0.8m6.1 7.3h0.8m-5.6 -1h0.8m-4.1 -6.8h0.8m3.9 4.9h0.8m-15.5 6.6h0.8m9.7 3.6h0.8m4.3 -14h0.8m-6.8 7.8h0.8m0.8 -6.8h0.8m-0.8 13.1h0.8m6.2 3.1h0.8m-3.7 -25.7h0.8m-7 12.8h0.8m-16.7 13.4h0.8m22.2 -10h0.8m-4.1 3.2h0.8m-4.3 5.7h0.8m11.5 -3.5h0.8m-15.1 -3.7h0.8m8.4 3h0.8m-10.8 1.5h0.8m7.7 -2.4h0.8m-7.7 -3.9h0.8m-9.8 0h0.8m8 -1.7h0.8m0.2 -0.2h0.8m1.4 2.7h0.8m-5 -1.5h0.8m2.4 4h0.8m2.4 -5.4h0.8m-8.5 -8.3h0.8m-3.3 13.2h0.8m1.2 7.7h0.8m3.7 -12.8h0.8m-0.7 -1h0.8m-3.7 3.9h0.8m-5.7 0.4h0.8m7.3 -6.6h0.8m6 8.1h0.8m-0.5 -6.6h0.8m-14.8 -3.4h0.8m-2.8 -4.5h0.8m18.1 9.1h0.8m-9 -0.4h0.8m-2.9 13.6h0.8m-10.3 -16.5h0.8m10.4 0.5h0.8m2.6 14.2h0.8m0.4 -3.5h0.8m-7.2 1.6h0.8m-4.6 -14.1h0.8m2.4 6.1h0.8m8.2 -4.8h0.8m-1.3 1.4h0.8m-15.3 -5.9h0.8m6.6 1.6h0.8m0.7 9.6h0.8m-4.5 -12.7h0.8m-1.5 15.2h0.8m-8.4 1.6h0.8m10 -7.9h0.8m0.3 7.6h0.8m-2.1 -9.1h0.8m4 0.6h0.8m-3.3 10.6h0.8m4.9 4h0.8m-2.5 -9.3h0.8m-8.2 0.3h0.8m3.6 17.9h0.8m0 -24.5h0.8m4.4 -4.9h0.8m-4 2h0.8m-13.4 5h0.8m4.1 -5.4h0.8m4.6 7.9h0.8m3.6 -5.8h0.8m-19.8 11h0.8m8.7 1.8h0.8m-13.5 -14.3h0.8m13.8 20.6h0.8m-8.7 -24.8h0.8m3.9 21.3h0.8m11.4 -17.8h0.8m-14 -3.1h0.8m-2.2 5.6h0.8m6.9 13.5h0.8m10.9 -9.6h0.8m-10.2 3.7h0.8m-4.9 11.1h0.8m2.6 -2.4h0.8m-3.2 -4.5h0.8m0.5 -6.2h0.8m-8.1 -2h0.8m3.5 0.2h0.8m-2.9 -2.1h0.8m6.4 3h0.8m-6.7 0.1h0.8m7.8 -2h0.8m-0.2 -2.1h0.8m-0.1 9.5h0.8m-12.9 -1h0.8m8.9 -9.1h0.8m-9 8.1h0.8m-0.2 24.3h0.8m0.1 2.6h0.8m2.2 5h0.8m-5.2 6.4h0.8m-0.8 -5h0.8m0 -14.1h0.8m-2 4.8h0.8m5.2 -7.3h0.8m-7.6 8.2h0.8m4.3 2.3h0.8m0 -2.4h0.8m-5.1 6h0.8m7 -3.6h0.8m-7.1 -5.4h0.8m7 5.5h0.8m-6.7 -8.8h0.8m-0.9 17.6h0.8m-3.8 -11.5h0.8m6 0.1h0.8m-3.6 9.3h0.8m-8.9 -12.1h0.8m6.6 4.1h0.8m-3.3 -1.2h0.8m-0.5 2.3h0.8m-3.2 -2.8h0.8m2 -3.5h0.8m0.1 -4.8h0.8m0 9h0.8m-8.1 6.4h0.8m-0.8 3.1h0.8m1 -3.7h0.8m1.9 1.7h0.8m-1.5 -2.5h0.8m-1.2 -12.6h0.8m2.1 10.2h0.8m-0.8 5.2h0.8m-5.3 -13.5h0.8m3.1 3.2h0.8m-2.2 3h0.8m-3.6 4.8h0.8m1.9 3h0.8m0.7 -3.2h0.8m-2.9 -7.5h0.8m-1.8 -0.9h0.8m3.1 4.4h0.8m-6.9 -7.3h0.8m0.1 -1.2h0.8m-0.9 1.3h0.8m5.5 1.6h0.8m-5.9 4.5h0.8m1.6 2.4h0.8m2.2 0.9h0.8m-5.3 2.7h0.8m2.1 -8.6h0.8m3.7 -2h0.8m-4.9 10.6h0.8m-2.2 -4h0.8m-0.8 1.4h0.8m-0.4 -2.9h0.8m1.1 -8.2h0.8m-2.6 6.9h0.8m6 2.6h0.8m-11.2 1.6h0.8m0.3 -8.1h0.8m-0.4 7.4h0.8m5 2.4h0.8m-4.6 -5.3h0.8m-0.9 6h0.8m-2.1 -0.2h0.8m-3.4 -5.1h0.8m5.4 3.1h0.8m-3.1 -5.3h0.8m-8.7 0.3h0.8m3 0.2h0.8m8.8 -1.6h0.8m-3.7 3.2h0.8m-8.6 0.6h0.8m6.6 -5.7h0.8m-8.4 3.6h0.8m6.7 -1h0.8m-2 4.6h0.8m-2.4 0h0.8m4.1 -2.8h0.8m-4.5 -3.8h0.8m-4.9 4.2h0.8m5.2 -2.5h0.8m-9.5 6.9h0.8m14.1 -15.2h0.8m-14.4 11.7h0.8m5.3 -4.6h0.8m-1.4 8.9h0.8m-3.2 -1.6h0.8m0.8 -7.2h0.8m-3.7 1.4h0.8m6.9 7.6h0.8m-5.1 -11.8h0.8m-3.7 5.1h0.8m-6.5 1.6h0.8m7.9 -5.6h0.8m-3.6 3.7h0.8m8.2 4.9h0.8m-5.1 -2.5h0.8m-8.8 3.6h0.8m1.6 -12.3h0.8m4.7 6.8h0.8m-3.7 3.7h0.8m-1.7 -0.4h0.8m5.2 -3.2h0.8m-7.3 1.5h0.8m3.2 -1.8h0.8m-3.1 -1.3h0.8m-1.4 5.4h0.8m-3.7 -3.2h0.8m-3.3 -2.2h0.8m5.2 5.3h0.8m-5.1 -2.7h0.8m-0.4 1.8h0.8m3.8 0.5h0.8m-2.6 -8.1h0.8m-2.2 0.4h0.8m-1.2 5.6h0.8m6 -2.6h0.8m-8 3.7h0.8m-5.9 7.7h0.8m1.3 -4.2h0.8m9 -0.2h0.8m-5 -1h0.8m-1.7 1h0.8m-2 -7.7h0.8m3.2 1.5h0.8m0.3 -1.7h0.8m-2.3 -0.6h0.8m-2.3 13.6h0.8m-4.6 -14.6h0.8m-2.8 4.3h0.8m11.7 -0.9h0.8m-3.5 1.1h0.8m-6.9 9.5h0.8m5.9 -16.7h0.8m-8.8 9.8h0.8m5.5 -2.8h0.8m-2.1 3.3h0.8m-3.4 2h0.8m-2.7 -1h0.8m6.1 -2.4h0.8m-5.7 -1h0.8m-8.1 1.2h0.8m2.3 -9.8h0.8m7.7 4.7h0.8m-2.4 4.2h0.8m-9 -4.1h0.8m5 5.9h0.8m0.5 -7.5h0.8m-3.1 6h0.8m-3.7 -2.4h0.8m2 -7.3h0.8m8 13h0.8m-9.3 0.3h0.8m-3 2.5h0.8m1.8 -6h0.8m-1.6 -0.2h0.8m2.7 -0.3h0.8m-5.3 3.2h0.8m4.6 -3.3h0.8m1.1 -3.2h0.8m0.1 2.5h0.8m0.1 -1.2h0.8m-7.7 2.8h0.8m4.5 5.3h0.8m-6.9 -9.3h0.8m4 8.5h0.8m-1.1 -6.8h0.8m1.4 1.3h0.8m-5 2.8h0.8m-3.7 -12.5h0.8m2.3 12.9h0.8m0 -0.7h0.8m-1.9 2.1h0.8m-0.9 2h0.8m-1.1 -3h0.8m-3.1 -2.2h0.8m3 -0.7h0.8m3.5 -0.4h0.8m-2.4 1.3h0.8m-1 -5.4h0.8m-6.4 8.1h0.8m-2.6 -2.5h0.8m4.6 -0.9h0.8m-1.3 1.6h0.8m-3.4 -0.6h0.8m-1.9 -3.8h0.8m-4.9 1.6h0.8m-1.3 0.5h0.8m6.6 -4.8h0.8m-1.3 6h0.8m-2.4 -5.2h0.8m0.1 5.7h0.8m3.2 6.6h0.8m-12 -6.9h0.8m8.5 -4.3h0.8m-1.2 11.9h0.8m-1.7 -3.2h0.8m2.9 -7.8h0.8m-13.8 6.9h0.8m14.1 -12.6h0.8m-7.6 4.6h0.8m0.8 3.3h0.8m2.8 -2.9h0.8m2.3 -4.8h0.8m-7.5 19h0.8m-2 -8.9h0.8m-2.2 11.6h0.8m4.5 -15.8h0.8m-11.7 2.4h0.8m9.4 -9.8h0.8m-5.5 11.3h0.8m-8.2 -3.2h0.8m2.4 -5h0.8m6.9 10.7h0.8m2.1 -7.7h0.8m-3.3 -4.9h0.8m-8.5 10.1h0.8m3.4 -6.8h0.8m-6.5 3.4h0.8m15.1 -7.8h0.8m-13.5 13.7h0.8m-4.2 -7.6h0.8m6.9 7.6h0.8m-1.4 3h0.8m-0.6 -8.4h0.8m1 2h0.8m-8.3 -5.6h0.8m4.1 5.6h0.8m-4.6 -4.6h0.8m1 4.6h0.8m0.4 1.1h0.8m2.4 -6.6h0.8m-3.4 -1.4h0.8m0.7 8.9h0.8m-5 -11.2h0.8m5 6.4h0.8m-2.9 3.3h0.8m0.8 2h0.8m-4.1 -13.6h0.8m-0.9 8.3h0.8m-0.5 3h0.8m-0.2 4h0.8m-2.3 -5.7h0.8m0.3 9.2h0.8m-3.1 -13.6h0.8m1.4 7.7h0.8m0.8 -4.1h0.8m-6.6 -8.3h0.8m4.1 8.1h0.8m6.9 2.6h0.8m-6 2.6h0.8m-6 -9.6h0.8m1.3 11.9h0.8m4.5 -9.1h0.8m-9.5 6.7h0.8m8.3 -8.9h0.8m1.2 1.4h0.8m-4.2 2.5h0.8m-5 -1.8h0.8m3.2 5.4h0.8m-0.4 -3.9h0.8m-7.2 10.6h0.8m9.2 -10.2h0.8m-12 7.3h0.8m4.2 -6.2h0.8m2 1.2h0.8m-3.7 7.2h0.8m-8.6 -5.9h0.8m2.8 -2.5h0.8m2.3 0.9h0.8m-9.5 1.8h0.8m17.7 -4.8h0.8m-6.4 4.5h0.8m-3.1 -4.9h0.8m0.5 3.4h0.8m2.4 2.4h0.8m-9.3 -16.4h0.8m7.9 14.9h0.8m-6 -4.8h0.8m8.3 8.6h0.8m-10.2 -7.5h0.8m1.1 7.6h0.8m-1.1 -1.9h0.8m-1.8 -2.5h0.8m-6.8 -1.1h0.8m4.4 -0.8h0.8m-1.9 1.6h0.8m-2.2 -2.2h0.8m-3.7 11h0.8m0.9 -15.4h0.8m0.6 3.5h0.8m-2.9 -8.9h0.8m9.9 15.2h0.8m-8.8 -2h0.8m-3.7 -9.6h0.8m4.9 9.6h0.8m-4.8 -2.5h0.8m-10.2 -0.6h0.8m15.5 1.3h0.8m-4.3 1.8h0.8m-9.7 -8.1h0.8m2.4 6.7h0.8m1.7 -9.4h0.8m5.2 7.5h0.8m-0.4 9.6h0.8m-11.2 -14.4h0.8m10 11.8h0.8m-3.5 -4.6h0.8m0.3 1.3h0.8m-8.5 0.4h0.8m8.1 -5.1h0.8m-8.3 -0.3h0.8m0.5 4.4h0.8m4.6 -2.2h0.8m-5.1 -7.9h0.8m-1.3 3.4h0.8m-1.3 5.9h0.8m2 13.9h0.8m-4.9 -17.7h0.8m-1.8 1.2h0.8m2.6 5.5h0.8m-7.4 -0.4h0.8m9.5 -6.3h0.8m-6.1 3.2h0.8m4 -1.6h0.8m-3.5 0.8h0.8m-4.5 1.1h0.8m5.8 -1h0.8m-7.6 -0.2h0.8m3.3 1.4h0.8m-2.1 2.2h0.8m5.2 0h0.8m-4.2 1.7h0.8m-1.9 -6h0.8m-6.3 0.8h0.8m9.7 -4.3h0.8m-2.5 -1.3h0.8m-2.7 13.5h0.8m-1.8 -13.1h0.8m0.1 4.5h0.8m1.2 -1.7h0.8m-10.8 0.2h0.8m8.4 6.6h0.8m-2 -4.4h0.8m0.8 -0.9h0.8m-5.3 1.8h0.8m5.3 -3.2h0.8m-3.1 -0.6h0.8m-5.7 3.6h0.8m-3.2 -4.5h0.8m-0.2 1.1h0.8m0.3 12.7h0.8m5.2 -9.8h0.8m-8.5 -10.6h0.8m6.2 7.6h0.8m1.6 1h0.8m-10.1 -1h0.8m-1.7 -3.4h0.8m8.1 3.8h0.8m-0.9 -0.1h0.8m-4.4 0h0.8m-2.1 -0.4h0.8m7.3 2.6h0.8m-14.5 7.5h0.8m12 -2.5h0.8m-6.2 -5.5h0.8m-2.3 1.2h0.8m2.9 -0.5h0.8m-5.9 -4.1h0.8m9.1 11.4h0.8m-12.4 -10h0.8m4 5.2h0.8m-1.1 -1.5h0.8m1.1 3.9h0.8m-7.4 -0.2h0.8m6.1 -2.4h0.8m-8.5 -3.3h0.8m4.1 3.8h0.8m3 0.2h0.8m-8.7 2.4h0.8m4.6 -1.4h0.8m-1.1 -7h0.8m9.7 5.8h0.8m-8.2 -4.8h0.8m-4.7 6.8h0.8m1.8 2.7h0.8m2.2 -12.1h0.8m-11.7 9.6h0.8m7.7 -6.1h0.8m-4.3 -1.3h0.8m7.5 1.7h0.8m-13.4 4.6h0.8m4.3 -2.4h0.8m-2 -1.6h0.8m-6.7 2.4h0.8m3.9 -3.9h0.8m3.2 7.1h0.8m-10.6 -6.1h0.8m9.9 4.9h0.8m-6.6 -2.9h0.8m4.4 2.6h0.8m-4.8 -4.8h0.8m-0.4 5.7h0.8m5.6 -6.8h0.8m-5.7 2.9h0.8m-3.9 -1.5h0.8m6.3 3.8h0.8m-7 -6h0.8m1.5 -3.5h0.8m0.9 6.7h0.8m-7.4 -1.5h0.8m1.9 -0.1h0.8m-1.7 6.9h0.8m-1.1 -2.5h0.8m3.9 2.8h0.8m-1.9 -6.1h0.8m-0.3 -7.9h0.8m8.5 7h0.8m-11.6 -3.8h0.8m-0.1 11.5h0.8m-3.3 -4.9h0.8m6.3 2.1h0.8m-6.5 -11.3h0.8m2.5 9.7h0.8m-3.8 -4.2h0.8m7.5 -4.8h0.8m-9.8 4.1h0.8m-5 -0.4h0.8m2.2 8.2h0.8m-4.5 -11h0.8m7.2 -0.8h0.8m-9.9 3.9h0.8m2.4 -1.4h0.8m3.4 5.9h0.8m-2.8 -3h0.8m4.7 0.5h0.8m-0.7 -1.8h0.8m-1.8 7.8h0.8m-8.3 7.2h0.8m3.4 -14h0.8m-0.1 3.4h0.8m-5 -1.8h0.8m1.7 5.8h0.8m-5.4 -3.2h0.8m4.9 -5.9h0.8m1 2.2h0.8m-1.2 2h0.8m3.8 -2.7h0.8m1.1 -9.6h0.8m-0.2 16.3h0.8m-1.8 -4.2h0.8m-5.9 -5.1h0.8m3.4 -0.6h0.8m-9.3 4.9h0.8m3.3 1.4h0.8m-6.4 -2.9h0.8m5.8 6.4h0.8m0.3 -3.2h0.8m-4.9 -4h0.8m-1.8 1.9h0.8m3.3 -1.7h0.8m5.3 -2.1h0.8m-5.7 3.3h0.8m-4.6 -0.7h0.8m5.8 0.3h0.8m-4.7 1.8h0.8m0 1.9h0.8m2.8 -5.5h0.8m-10.7 10.1h0.8m7.6 -6.7h0.8m-7 0.7h0.8m5.5 -4.2h0.8m-0.2 2.9h0.8m-8 -1.4h0.8m-7.7 3h0.8m2.3 -3.7h0.8m0.9 3.3h0.8m5.6 -0.8h0.8m-2.9 1.6h0.8m4.8 0.7h0.8m-0.9 -2.7h0.8m-5.7 -2.4h0.8m0.2 -0.9h0.8m-1.3 0.9h0.8m-4.1 7.7h0.8m1.2 -1.7h0.8m-2.3 -11.1h0.8m6 7h0.8m-9.3 4.7h0.8m-2.7 -7h0.8m8.3 0.2h0.8m-0.9 1.6h0.8m-6.1 1.6h0.8m-2 4.1h0.8m5.6 -4.2h0.8m-2.7 2h0.8m3.4 -8.8h0.8m-3.4 10.4h0.8m-6.1 -3.8h0.8m-1 5.1h0.8m-3.9 -2.6h0.8m8.8 -0.2h0.8m-7.8 -4.2h0.8m-7.3 -2.4h0.8m12 0.3h0.8m-11.7 2.9h0.8m-0.2 3h0.8m1.7 2h0.8m2.2 -9.8h0.8m-3.4 3.2h0.8m-1.1 7.8h0.8m-1.5 -3.6h0.8m0.9 0.9h0.8m-4.2 -8.9h0.8m7 12.4h0.8m-8.4 -7.2h0.8m2.7 -2.6h0.8m5.1 4.1h0.8m-10.2 -1.1h0.8m10 -2.1h0.8m-8.1 -0.5h0.8m1.9 1.2h0.8m2.1 -1.2h0.8m-10.2 5.3h0.8m-7.6 -5.8h0.8m13 5h0.8m-4.3 -2.9h0.8m3.6 17.3h0.8m-6.1 -16.2h0.8m0.6 3.1h0.8m1.1 0h0.8m5.6 -3.5h0.8m-8.4 2.7h0.8m8.7 -3h0.8m-2.4 6.4h0.8m-18.5 -9h0.8m6.2 5.7h0.8m8.4 -1.4h0.8m-5.4 8.8h0.8m0 -0.1h0.8m-5.8 -2.1h0.8m0.7 -16.9h0.8m-2.1 8.1h0.8m2.4 5.1h0.8m2.1 -1h0.8m-6.5 5.3h0.8m6.9 -7.3h0.8m-7.8 -0.3h0.8m0.6 -2.7h0.8m0 0.1h0.8m1.8 0.1h0.8m-1.4 4h0.8m-2.1 0.8h0.8m-5.6 8.6h0.8m0.6 -7.7h0.8m2 -4.8h0.8m6.1 6.3h0.8m-8.9 -2.2h0.8m3.1 4.2h0.8m0.5 -7.2h0.8m-5.9 -4.2h0.8m1.3 8.5h0.8m-3.4 -0.9h0.8m1.3 -4.6h0.8m-6.2 6.5h0.8m14.2 -2.4h0.8m-15.3 -6.5h0.8m4.6 7h0.8m4.2 -12.8h0.8m0.5 10.8h0.8m-7.6 0.9h0.8m-2.8 -2.8h0.8m4.9 -6h0.8m-5.5 9.5h0.8m-6.9 -3h0.8m11.9 2.2h0.8m-4.1 1.4h0.8m-2.8 -1.4h0.8m-4.9 -2.4h0.8m9.8 -4.2h0.8m-8.8 -0.2h0.8m-2.3 2h0.8m-3.5 4.3h0.8m0.3 1.2h0.8m10.2 -12.9h0.8m-8.7 1.9h0.8m-0.6 10.3h0.8m0.5 3.5h0.8m-1 -12.2h0.8m4.6 3.2h0.8m-7.2 5.3h0.8m-4 -1h0.8m8.7 -7.4h0.8m-13.4 5.2h0.8m5.2 -3.5h0.8m-14.5 10.9h0.8m14.8 -12.3h0.8m0.3 6.9h0.8m-3.2 -7h0.8m-3 10h0.8m-9.7 -8.4h0.8m15 16.8h0.8m-2.6 -11.4h0.8m-10.9 -1.9h0.8m4 4.7h0.8m-0.8 11.2h0.8m8.3 -25.7h0.8m-15.2 12.1h0.8m11.7 2.2h0.8m-22.5 -11.3h0.8m23 12.3h0.8m6.2 1.2h0.8m-12.9 4h0.8m-6.1 -11.4h0.8m-4.1 4.3h0.8m7.6 3.9h0.8m5.1 -1.8h0.8m-2.1 -4.8h0.8m-13.5 5.4h0.8m10.7 3.4h0.8m-7.7 -10h0.8m-1.9 4.6h0.8m1 -3.1h0.8m1 -0.5h0.8m-0.4 -1.8h0.8m-11.7 1.6h0.8m19.2 -2.7h0.8m-6.5 11.9h0.8m-9.3 -6h0.8m-10.9 1.7h0.8m21.4 -2.1h0.8m-21.3 -4.3h0.8m6.5 3.9h0.8m5.1 -2.9h0.8m-4.2 -2.3h0.8m4.3 5.7h0.8m-2.1 -3.9h0.8m0.1 1.1h0.8m-2 0.8h0.8m-6.4 -5.2h0.8m-7.7 -1.5h0.8m12.7 25.7h0.8m-13.1 -22.7h0.8m8.7 24.4h0.8m-1.9 -26.3h0.8m2.8 18.1h0.8m-19.5 -18.2h0.8m22.7 0.1h0.8m-8.6 2.9h0.8m4.2 -4.5h0.8m-3.4 9.3h0.8m0.7 1.1h0.8m-3.2 -12.3h0.8m-3.6 4.7h0.8m4.2 3.9h0.8m-3 7.5h0.8m-2.3 3.2h0.8m4.6 -17.6h0.8m-9 15h0.8m-0.3 -0.1h0.8m-1.2 -7.3h0.8m8.5 -8.2h0.8m-6.4 6.3h0.8m-0.2 12.1h0.8m1 -17.1h0.8m2 5h0.8m-5.4 9h0.8m-3.6 -1.1h0.8m2 -10.4h0.8m-3.6 -2.6h0.8m7.9 8.5h0.8m-2.1 -7.1h0.8m-1.5 -0.5h0.8m-4.1 6.6h0.8m-5.8 1.8h0.8m2.8 -6.5h0.8m-5.3 -2.5h0.8m11.5 8.2h0.8m-10.9 3h0.8m-3.7 -10.4h0.8m6.3 15.4h0.8m-1.2 -8h0.8m7.6 -9.5h0.8m6.9 2.4h0.8m-19 -1.3h0.8m-7.5 6.2h0.8m20.5 -4h0.8m-18.6 6.8h0.8m-3.1 -2.9h0.8m9.9 -10.8h0.8m-7.3 10.6h0.8m-2.1 0.9h0.8m-8.2 -1.8h0.8m6.6 -3.3h0.8m9.5 17h0.8m-3.5 -16.1h0.8m2.8 7.7h0.8m-13.7 0.6h0.8m0.5 -0.2h0.8m7.9 3.3h0.8m-12.2 -7.2h0.8m5.3 -6.2h0.8m1.6 10.8h0.8m-11.2 -7h0.8m0.8 -4h0.8m-0.6 14.8h0.8m1.5 -9.9h0.8m8.8 8h0.8m1.7 -17.5h0.8m-4.6 1.8h0.8m-8.9 7.6h0.8m-0.4 13.3h0.8m1.5 -4.4h0.8m-0.8 -6.9h0.8m3.2 2.8h0.8m-0.9 -12.3h0.8m-0.8 11.6h0.8m-0.2 -2.1h0.8m-1.9 -7h0.8m3.4 0.5h0.8m0.7 12.5h0.8m-9.3 -7.4h0.8m4.1 0h0.8m-12.2 3.3h0.8m-1 -4.2h0.8m16.7 7.2h0.8m-13.8 -5h0.8m-2 0.3h0.8m-5.4 3.9h0.8m7.7 -7.2h0.8m-4.5 18.2h0.8m0.2 -17.5h0.8m-1.6 -0.1h0.8m10.2 6.6h0.8m-6 -1.7h0.8m-9.8 -15.7h0.8m14.6 17.6h0.8m-8.3 -2.4h0.8m-0.9 -1.5h0.8m-3.5 -12.7h0.8m4 12.9h0.8m1.6 1.4h0.8m-8.2 1.7h0.8m2 -5.9h0.8m-4.1 0.1h0.8m-0.3 -0.1h0.8m6.6 19h0.8m-7.2 -10.2h0.8m-11.5 -24.5h0.8m7.9 17.3h0.8m-2.4 -6.8h0.8m-1.4 4.8h0.8m5 1h0.8m-8.7 -0.2h0.8m15 -2.9h0.8m-9.2 10.7h0.8m-5.9 -8.9h0.8m20.7 10.2h0.8m-20.7 -6.1h0.8m2.9 -0.1h0.8m1.3 -2.5h0.8m-16.4 -3.7h0.8m13 -2.3h0.8m-3.6 16.2h0.8m2.5 -12.2h0.8m-1.4 9.6h0.8m-11.5 -13h0.8m5.3 4.6h0.8m2.5 -0.8h0.8m0.3 3.8h0.8m-8.2 -4h0.8m-1.2 5.1h0.8m7.9 2.1h0.8m-7.4 -6.7h0.8m-8.6 3.1h0.8" stroke="#111" stroke-width="0.8" stroke-opacity="0.85" fill="none"/>
<rect x="315.5" y="440.3" width="22.2" height="24.6" fill="none" stroke="#111" stroke-width="1.15"/>
<rect x="315.5" y="470.2" width="22.2" height="21.2" fill="none" stroke="#111" stroke-width="1.15"/>
<text x="340.7" y="439.9" font-size="8.5">56.8</text>
<text x="340.7" y="496.4" font-size="8.5">26.5</text>
<text x="293.2" y="513.6" font-size="4.2" text-anchor="middle" fill="#333" stroke="#333" stroke-width="0.15">0 10<tspan dy="-1.4" font-size="3">2</tspan></text>
<text x="316.6" y="513.6" font-size="4.2" text-anchor="middle" fill="#333" stroke="#333" stroke-width="0.15">10<tspan dy="-1.4" font-size="3">3</tspan></text>
<text x="335" y="513.6" font-size="4.2" text-anchor="middle" fill="#333" stroke="#333" stroke-width="0.15">10<tspan dy="-1.4" font-size="3">4</tspan></text>
<text x="353.9" y="513.6" font-size="4.2" text-anchor="middle" fill="#333" stroke="#333" stroke-width="0.15">10<tspan dy="-1.4" font-size="3">5</tspan></text>
<path d="M298.2 505.9v1.1M302.8 505.9v1.1M306.1 505.9v1.1M308.7 505.9v1.1M310.7 505.9v1.1M312.5 505.9v1.1M314 505.9v1.1M315.4 505.9v1.1M322.1 505.9v1.1M325.4 505.9v1.1M327.7 505.9v1.1M329.5 505.9v1.1M330.9 505.9v1.1M332.2 505.9v1.1M333.2 505.9v1.1M334.2 505.9v1.1M340.7 505.9v1.1M344 505.9v1.1M346.4 505.9v1.1M348.2 505.9v1.1M349.7 505.9v1.1M351 505.9v1.1M352.1 505.9v1.1M353 505.9v1.1M281.2 505.9v1.1M282.7 505.9v1.1M284.2 505.9v1.1M285.4 505.9v1.1M286.6 505.9v1.1M287.8 505.9v1.1M289 505.9v1.1M291.4 505.9v1.1M292.6 505.9v1.1M293.8 505.9v1.1" stroke="#777" stroke-width="0.45" fill="none"/>
<text x="268.3" y="422.9" font-size="4.2" text-anchor="end" fill="#333" stroke="#333" stroke-width="0.15">10<tspan dy="-1.4" font-size="3">5</tspan></text>
<line x1="270.5" y1="421.6" x2="272.1" y2="421.6" stroke="#444" stroke-width="0.6"/>
<text x="268.3" y="441.5" font-size="4.2" text-anchor="end" fill="#333" stroke="#333" stroke-width="0.15">10<tspan dy="-1.4" font-size="3">4</tspan></text>
<line x1="270.5" y1="440.2" x2="272.1" y2="440.2" stroke="#444" stroke-width="0.6"/>
<text x="268.3" y="462.4" font-size="4.2" text-anchor="end" fill="#333" stroke="#333" stroke-width="0.15">10<tspan dy="-1.4" font-size="3">3</tspan></text>
<line x1="270.5" y1="461.1" x2="272.1" y2="461.1" stroke="#444" stroke-width="0.6"/>
<text x="268.3" y="486.9" font-size="4.2" text-anchor="end" fill="#333" stroke="#333" stroke-width="0.15">0<tspan dy="-1.4" font-size="3"></tspan></text>
<line x1="270.5" y1="485.6" x2="272.1" y2="485.6" stroke="#444" stroke-width="0.6"/>
<path d="M271.1 478.2h1M271.1 473.9h1M271.1 470.8h1M271.1 468.5h1M271.1 466.5h1M271.1 464.9h1M271.1 463.5h1M271.1 462.2h1M271.1 454.8h1M271.1 451.2h1M271.1 448.5h1M271.1 446.5h1M271.1 444.9h1M271.1 443.5h1M271.1 442.3h1M271.1 441.2h1M271.1 434.6h1M271.1 431.4h1M271.1 429h1M271.1 427.2h1M271.1 425.8h1M271.1 424.5h1M271.1 423.5h1M271.1 422.5h1M271.1 487.1h1M271.1 488.6h1M271.1 490.1h1M271.1 491.6h1M271.1 493.6h1M271.1 495.6h1M271.1 498.1h1" stroke="#777" stroke-width="0.45" fill="none"/>
<rect x="385.1" y="415.3" width="90.3" height="90.7" fill="none" stroke="#9a9a9a" stroke-width="0.8"/>
<text x="433" y="411.6" font-size="12" font-weight="bold" text-anchor="middle" letter-spacing="0.1">E.coli MOI 100</text>
<path d="M408.5 456.9h0.6m16.9 0.5h0.6m-3.5 -1.2h0.6m-2.3 3.9h0.6m5.2 5.9h0.6m-10.5 -6.5h0.6m6.7 -2.2h0.6m-4.5 -9.2h0.6m4.8 2.1h0.6m-11.9 0.2h0.6m7.2 -0.7h0.6m-1.2 8.4h0.6m-2.9 -4.9h0.6m2.6 8.9h0.6m-7.5 -12.8h0.6m-1.5 0.9h0.6m1.8 4h0.6m-14 8.7h0.6m9 -10.2h0.6m-8 -8.4h0.6m5.5 11.9h0.6m11.5 -11h0.6m-4.7 18h0.6m-3.8 -3.2h0.6m3.2 -10h0.6m3.8 1.7h0.6m-4.7 1.1h0.6m-4.3 3h0.6m9.4 -9.9h0.6m-16.4 9.7h0.6m12.9 -1.6h0.6m-8.1 3.9h0.6m10.8 -7.8h0.6m-21.2 3.4h0.6m14.8 -5.6h0.6m1.7 12.2h0.6m-2.8 -9.7h0.6m-14.1 8.2h0.6m9.5 0.1h0.6m-11 -19.7h0.6m15.4 21.4h0.6m-9.7 -5.4h0.6m4.1 4.1h0.6m-4.7 -6.9h0.6m-5.7 8.4h0.6m6.3 -24.1h0.6m1 15.4h0.6m-11.1 0.3h0.6m-0.6 0.4h0.6m4.1 5.2h0.6m-3.6 -12.7h0.6m2.1 2.4h0.6m8.1 6.4h0.6m-16.3 -3.7h0.6m10.1 4.6h0.6m-12.3 -0.5h0.6m13.2 6.1h0.6m4.6 -6.1h0.6m-16.1 -1.3h0.6m12 -3h0.6m3.4 -0.2h0.6m-16.1 9.7h0.6m6 -2.8h0.6m-1.9 -1.5h0.6m-2.4 10.1h0.6m7.4 -11h0.6m-1.7 5.2h0.6m-7.1 -3.6h0.6m4.1 -4h0.6m-6.9 2h0.6m2.4 -1.1h0.6m-11.2 2.6h0.6m16.2 0h0.6m6.3 4.3h0.6m-14 -8.4h0.6m4.9 1.7h0.6m-14.3 2.7h0.6m8 -1.9h0.6m5.3 2.2h0.6m8.5 -5h0.6m-14.3 5.7h0.6m-2.9 -4.5h0.6m13.6 -5.1h0.6m-9.7 -1.6h0.6m-0.6 -0.9h0.6m-10.4 16.5h0.6m17 -5.4h0.6m-28.2 4.8h0.6m18.6 -11.5h0.6m-4.5 -1.2h0.6m1.1 6.7h0.6m0.8 4.8h0.6m-5.6 -16.2h0.6m-4 5.1h0.6m4.6 4.4h0.6m1.5 9.8h0.6m-0.1 -13.2h0.6m-2.8 1h0.6m-0.2 7.9h0.6m-6.3 0.7h0.6m18.3 4.4h0.6m-1.7 -7.7h0.6m-19.9 10.3h0.6m7.9 -9.6h0.6m-2.6 -6.3h0.6m5.7 -2.5h0.6m-13.5 10.6h0.6m5.9 -7.5h0.6m5 12.2h0.6m-5.6 -8.4h0.6m4.8 5.8h0.6m2.5 -1.4h0.6m-11.6 -0.8h0.6m3.7 -12.1h0.6m7.4 12.3h0.6m0.3 -3.5h0.6m-4.8 0h0.6m-4.2 5.3h0.6m-1.3 -1.6h0.6m-1.2 3.3h0.6m3.8 -15.5h0.6m5.9 11.3h0.6m-14.6 -5.8h0.6m15.6 3.9h0.6m-10.2 2.7h0.6m-7.8 6.2h0.6m16.9 -13.6h0.6m-6.9 -4.6h0.6m-10.1 9.1h0.6m1.9 2.8h0.6m1.7 -1.1h0.6m-4.1 -0.4h0.6m-3.3 9h0.6m3.4 -3.9h0.6m-0.3 -7.5h0.6m-2.5 -6.1h0.6m14 9.1h0.6m-13.2 -4.7h0.6m6.9 0.7h0.6m-11.9 -1.1h0.6m12.4 4.6h0.6m-11.5 -5.1h0.6m8.6 5h0.6m-11 3.2h0.6m7.2 -10.1h0.6m1.1 11.2h0.6m-9.6 -13h0.6m8.1 5.3h0.6m-9 0.3h0.6m-1 6h0.6m-5.9 -1.6h0.6m13.9 2.8h0.6m-3.4 -4.3h0.6m-6.5 -2h0.6m-5 9.6h0.6m4.3 -14.4h0.6m5.5 13.5h0.6m-4.2 -9.8h0.6m-9.5 5.2h0.6m5 -7h0.6m4.8 -3.4h0.6m0.3 -6.1h0.6m-9.3 5.4h0.6m1.8 11.9h0.6m-7.4 3h0.6m3.4 -9.9h0.6m10.1 -1.3h0.6m2.4 2.8h0.6m-10.6 -4h0.6m7.4 4.8h0.6m-11 -4.8h0.6m-1.6 4.6h0.6m-1.1 4.8h0.6m3.7 -7.6h0.6m2.6 10.9h0.6m-16.9 -5.7h0.6m19.7 -1.2h0.6m-2.3 -8.9h0.6m-10.6 13.6h0.6m3.6 -5.1h0.6m4 1.7h0.6m-1.8 -4.6h0.6m-5.3 9.6h0.6m-1.9 -14.7h0.6m0.3 12.5h0.6m13.1 -4h0.6m-16 2.4h0.6m5.3 3.1h0.6m0.8 -2.3h0.6m-0.7 -1.8h0.6m-9.6 -3.1h0.6m15.4 8h0.6m-4.7 -5h0.6m-7.4 -0.2h0.6m-2 3.9h0.6m-0.5 -9.8h0.6m-8.8 12.3h0.6m4.8 -12.9h0.6m6.8 14.2h0.6m1.1 -11.4h0.6m-1.3 -2.6h0.6m-5.8 4.6h0.6m1.1 4h0.6m2.8 5.8h0.6m1.2 -11.5h0.6m-4.2 -3h0.6m-6.1 2.7h0.6m9.7 -1.8h0.6m-16.9 -1.8h0.6m1.6 4.4h0.6m5.1 -5.2h0.6m-3.7 4h0.6m7 5.5h0.6m5.2 -4.6h0.6m-4.9 1.7h0.6m-11.5 -3.7h0.6m20.1 2.5h0.6m-4 5.2h0.6m-0.5 -5.4h0.6m-5.2 -0.6h0.6m-13.5 -4.6h0.6m9.2 -2.3h0.6m-1.1 3.9h0.6m-0.6 -2.6h0.6m2.5 6h0.6m-15.6 -6.4h0.6m9.4 -1h0.6m1.1 11.2h0.6m-6.8 4.8h0.6m12.6 -5.7h0.6m-6.8 0.8h0.6m-5.1 4.5h0.6m-2.3 -20.3h0.6m2.9 15.6h0.6m4.4 -8.1h0.6m3 1.5h0.6m-5.4 8.2h0.6m-3.4 2.1h0.6m-4.9 4.9h0.6m5.6 -13.1h0.6m12.7 2.2h0.6m-27.1 7.5h0.6m19.3 -10.5h0.6m-16.6 9h0.6m6 -11.1h0.6m-4 5.5h0.6m8.6 7.9h0.6m-10.6 -0.2h0.6m-6.2 -4.3h0.6m8 -1.5h0.6m-2.5 -6h0.6m3.9 9.7h0.6m-16.3 -5.7h0.6m10.8 -6h0.6m-6.5 8.5h0.6m11.4 0.6h0.6m-16.6 -11.5h0.6m8 5.8h0.6m14.4 0.3h0.6m-10.9 7.3h0.6m9.1 -3.3h0.6m-9 8.3h0.6m-5.3 -19.8h0.6m-2.8 7.9h0.6m12.4 3.3h0.6m-1.3 -1.1h0.6m-7.9 -3.6h0.6m-8.6 5.7h0.6m9.4 0.4h0.6m-6.2 -5.3h0.6m5.1 5.4h0.6m9.6 -7.8h0.6m-6.9 9.3h0.6m-8.5 -4h0.6m0.7 7.4h0.6m15.8 -6.4h0.6m-18.2 3.3h0.6m4.1 -6h0.6m1 5.6h0.6m-7.8 -0.1h0.6m-12.2 -11.3h0.6m11.5 7.7h0.6m-7.8 6.9h0.6m6.2 -7h0.6m1.5 3.2h0.6m-4 0h0.6m-2.1 -11.8h0.6m7.8 8.7h0.6m1.7 -11.2h0.6m-5.4 6.9h0.6m-2.5 1.3h0.6m-1.8 -1.4h0.6m8.2 -5.6h0.6m-17.5 10.9h0.6m22.5 -5.8h0.6m-18.9 -2.2h0.6m-1.3 12.8h0.6m10.1 -1.8h0.6m-2.7 -3.5h0.6m-6.5 -6.4h0.6m7 18.3h0.6m-6.8 -6.5h0.6m-2.7 -6.5h0.6m14.4 -0.6h0.6m-7.2 -2.6h0.6m7.2 -3.5h0.6m-8.9 5.2h0.6m-2.9 3.2h0.6m6.4 2.8h0.6m-2.2 -2.7h0.6m-13.9 5.1h0.6m15.7 -4.5h0.6m-5.2 -3.8h0.6m-14.7 6.4h0.6m3.9 5h0.6m8.3 -10.3h0.6m-8.8 0.7h0.6m-3.1 -2.6h0.6m15.8 0.4h0.6m0.9 1.1h0.6m-9.5 -4.4h0.6m-5.1 2.5h0.6m-7.5 12.7h0.6m11.9 -10.7h0.6m-11.2 0.6h0.6m-0.4 -5.3h0.6m4.9 16.6h0.6m-10.4 -8.5h0.6m6.9 -18.4h0.6m-6 14.7h0.6m8.6 -3.3h0.6m10.2 6.9h0.6m-15.7 -11.7h0.6m4.5 5.2h0.6m4.7 -2h0.6m0.5 3.2h0.6m-6.9 1h0.6m2.1 7.5h0.6m-8 -10.9h0.6m14.8 9.9h0.6m-0.5 0h0.6m-11.8 3.6h0.6m-5.7 -11h0.6m1.1 6h0.6m-3.4 -4.6h0.6m-0.6 -0.3h0.6m11.8 7.1h0.6m-9.1 7.7h0.6m-3.6 -11.1h0.6m0.8 -14.3h0.6m-5 18.4h0.6m-3.6 9h0.6m9 -14.1h0.6m8.1 -1.3h0.6m-12.5 -3.4h0.6m-2.5 6.2h0.6m2.3 -0.3h0.6m-7.1 -5h0.6m21.9 4.3h0.6m-14.2 4.3h0.6m1.8 1.9h0.6m-9.7 -4.1h0.6m0 -0.5h0.6m21.6 4.6h0.6m-21.5 -5.9h0.6m7.7 -6.1h0.6m-2 -1.9h0.6m4 10.6h0.6m-7.7 -1.2h0.6m15.5 -4.5h0.6m-27.5 2.6h0.6m8.3 -6h0.6m8 9.6h0.6m-2.5 3.3h0.6m-8.4 -10.9h0.6m6 -12.3h0.6m-20.5 16.4h0.6m15.3 -1.6h0.6m-5.3 0.9h0.6m12.2 -4.6h0.6m-3.7 2.6h0.6m-5.2 1.4h0.6m9.9 2.2h0.6m-5.8 -2h0.6m-18.5 4.3h0.6m12.9 -4.6h0.6m-3.7 -8.7h0.6m12 18h0.6m-0.1 -19.6h0.6m-7 3.5h0.6m-5.3 3.6h0.6m-3.4 -1.4h0.6m0.3 8.3h0.6m12.7 0.8h0.6m-10.9 -5.8h0.6m-2.1 0.7h0.6m-3 -0.8h0.6m8.7 -0.3h0.6m-11.1 0.6h0.6m5.1 0.2h0.6m-2.8 4.2h0.6m0.8 -9.2h0.6m3.2 1.6h0.6m0.7 8.2h0.6m-2.4 -2.7h0.6m-12.2 -2.7h0.6m8.7 4.4h0.6m-8.5 -4.2h0.6m-3.2 1.8h0.6m9.6 -0.3h0.6m9.4 3.2h0.6m-12.3 -7h0.6m-2.2 7.3h0.6m8 -6.9h0.6m-7.1 0.4h0.6m4.5 3.3h0.6m-9.6 -5.7h0.6m12.3 -2.8h0.6m-20.4 -9h0.6m23.8 13.6h0.6m-8 5.9h0.6m-0.7 3.1h0.6m-9 -6.2h0.6m8.7 3.1h0.6m-11.7 -7h0.6m-5 5.4h0.6m5.2 -9.7h0.6m-0.7 10h0.6m4.1 -2.9h0.6m-0.7 4.7h0.6m-9.3 -7.9h0.6m13.2 8.4h0.6m-15.7 -7.9h0.6m17.6 7.9h0.6m-10.8 1.5h0.6m9.1 2.1h0.6m-18.3 -14.5h0.6m5.1 6.6h0.6m0.4 1.6h0.6m11.1 4.6h0.6m-3.7 -5.9h0.6m3.6 2.5h0.6m-9.6 -2.6h0.6m-13.9 11.6h0.6m11 -6.7h0.6m14 -5.8h0.6m-22.5 6.5h0.6m8.4 -10.5h0.6m4 5.1h0.6m-12.8 -13.6h0.6m-0.9 15.6h0.6m-0.9 3.1h0.6m20.1 -3.5h0.6m-13.2 -2.1h0.6m3.4 0.6h0.6m0.6 7.4h0.6m-1.8 -12.7h0.6m-1.8 3.7h0.6m-2.9 6.6h0.6m-6.8 -4.1h0.6m13 -5.5h0.6m-11.2 8.3h0.6m-0.9 1.6h0.6m-5.6 -13.5h0.6m8.3 7.3h0.6m-1 5.9h0.6m4.2 -7h0.6m-9.9 -8.5h0.6m-4.3 11.6h0.6m7 -9.2h0.6m3.1 7.7h0.6m1.4 -1.7h0.6m-1.5 -4h0.6m-18.7 1.6h0.6m15.8 6.5h0.6m-17.2 -1.4h0.6m15.8 8.2h0.6m0.1 -6.3h0.6m-15.7 -0.7h0.6m-3.1 -3.6h0.6m9.6 -3.6h0.6m-4.7 4.5h0.6m9.7 -2.7h0.6m-2.4 7.2h0.6m-2.7 6.4h0.6m-2.5 -14.1h0.6m-10.8 9.6h0.6m16 -6.7h0.6m-3 0.3h0.6m3 0.7h0.6m-4.7 -0.4h0.6m-7.8 -11.4h0.6m8.6 5.2h0.6m-1.5 10h0.6m8.9 -7.3h0.6m-11.7 9h0.6m-5.9 -8.2h0.6m6.6 14.1h0.6m3.4 -5.9h0.6m-13.7 -1.6h0.6m12.9 -10.2h0.6m-7.8 5.7h0.6m3.5 -8.2h0.6m-0.3 9.2h0.6m-6.8 -11.2h0.6m-12.2 8.3h0.6m16.9 5.2h0.6m0 -11.3h0.6m-4.1 16.2h0.6m-11.9 -3.7h0.6m4.7 -0.6h0.6m4.7 -11.5h0.6m-7.9 15.4h0.6m5.4 -0.2h0.6m2.3 -1.8h0.6m-5.3 -3.6h0.6m-0.5 3.6h0.6m-1.9 1.1h0.6m13.2 -12.3h0.6m-11.8 9.3h0.6m11.9 3.2h0.6m-11.4 -15.3h0.6m4.2 6.1h0.6m-4.8 5.3h0.6m-10.9 3.5h0.6m14.4 -2.6h0.6m-2.7 -1.2h0.6m-13.4 -4.6h0.6m13.6 1h0.6m-5.6 3.7h0.6m-0.2 -0.6h0.6m1.9 -1.4h0.6m-10.8 -1.4h0.6m12.6 -2.2h0.6m-3.7 5.2h0.6m-9.3 -16.5h0.6m5 10.8h0.6m-4.5 9.1h0.6m-1.5 -3.1h0.6m5 -0.8h0.6m11.5 -11.5h0.6m-7.2 9.6h0.6m-8.6 -2.7h0.6m1.5 3.8h0.6m-6.8 8.4h0.6m0.5 -9.4h0.6m-4 1.5h0.6m9.9 4.9h0.6m3.4 -8.3h0.6m3.4 2h0.6m-15.6 11.3h0.6m-16.1 -15.8h0.6m6.9 14.3h0.6m-1.7 -2h0.6m0.9 -1.2h0.6m5.2 -6.7h0.6m-22.3 1h0.6m4.4 -6h0.6m4.3 10.7h0.6m-13.9 -12.6h0.6m20.3 3.6h0.6m-10 12.7h0.6m11.4 -5.7h0.6m-5.2 -17.4h0.6m-0.5 17.6h0.6m-16 -1.2h0.6m14 -1.6h0.6m2.1 5.6h0.6m-6.5 -6.4h0.6m-10.3 7.9h0.6m4.2 -4.7h0.6m16 2.6h0.6m-22.7 -4.9h0.6m3.8 -8.8h0.6m-1.3 12.6h0.6m8.4 -4.5h0.6m-1.9 -5.4h0.6m-8 5.7h0.6m11.7 -0.9h0.6m-8.2 3.7h0.6m12.3 -9h0.6m-8 8.2h0.6m-5.4 0.3h0.6m-15.6 -1.2h0.6m13.1 -7.2h0.6m8 6.3h0.6m-10 5h0.6m-5.2 -8.3h0.6m13.2 8.9h0.6m8.8 -7.5h0.6m-28 -5.8h0.6m1.5 9h0.6m6.9 -4.4h0.6m-6.7 -0.1h0.6m4.5 10.6h0.6m7.2 1h0.6m0.9 -3.4h0.6m2.3 -1.7h0.6m2.2 3.8h0.6m1.6 -5.2h0.6m-21 13h0.6m3.3 -11.2h0.6m-1.4 -6.9h0.6m5.8 -2.4h0.6m-5.3 14.3h0.6m1.7 -3.4h0.6m3.4 -2.4h0.6m-4.8 1.3h0.6m-9.1 -0.2h0.6m-1.4 -7.6h0.6m3.2 -3.2h0.6m-11.4 9.7h0.6m18.8 1.5h0.6m12.9 -2.7h0.6m-12.1 -5.2h0.6m-0.9 -2.2h0.6m9.3 1h0.6m-19.4 9.6h0.6m-4.8 -3.1h0.6m14.6 -0.2h0.6m-1 -3.7h0.6m-3.3 -9.5h0.6m6.7 8.6h0.6m-19.4 3.8h0.6m19.7 -4.1h0.6m-14.2 2h0.6m-7.8 -5.4h0.6m11.4 11.4h0.6m-11.2 -2.7h0.6m8.9 0.9h0.6m-5.5 -1.9h0.6m2.9 -6.3h0.6m-3.9 10.5h0.6m-3.9 2.9h0.6m2 -13.6h0.6m-1.1 -1.4h0.6m6.6 -1.4h0.6m-5.3 7.7h0.6m-3.2 3.7h0.6m4.1 -5.5h0.6m3.6 0.6h0.6m0 10.1h0.6m-4.7 -2.4h0.6m-14.1 -2h0.6m-1.8 -4.2h0.6m16.6 -14.1h0.6m-12.2 10.7h0.6m-1.9 4.5h0.6m11.9 -6.6h0.6m-10.6 -4h0.6m-1.2 -1.3h0.6m-6.9 14.4h0.6m18.1 -7.2h0.6m-4.7 0.2h0.6m5 14.3h0.6m-14 -12.6h0.6m16.8 11.6h0.6m-13.1 -5.3h0.6m-13 -5.3h0.6m9.7 0.9h0.6m4 -8h0.6m-11.2 20.9h0.6m-6.1 -11.8h0.6m18.9 2.5h0.6m-5.9 -11.9h0.6m-4.8 0.3h0.6m18.6 10.8h0.6m-10.3 -0.8h0.6m-9.5 5.5h0.6m9.5 -3.1h0.6m-3 0.6h0.6m-7.4 -1.8h0.6m2.3 -3.8h0.6m3.8 13.5h0.6m-9.1 -5.3h0.6m-5.2 -7.8h0.6m15.5 0.6h0.6m-5.9 -6.4h0.6m-12.4 16.2h0.6m9.7 -9.9h0.6m-12.8 -5.3h0.6m2.2 5.5h0.6m6.6 -3.1h0.6m-5 4h0.6m13.9 -8.5h0.6m-21 14.3h0.6m-0.7 -8.7h0.6m11.6 12.6h0.6m-2.1 -4.2h0.6m1.1 -10.7h0.6m-0.2 -7h0.6m4.4 20h0.6m-8.7 -3.8h0.6m-7.3 3.8h0.6m2.6 -12.9h0.6m-1.5 -5.5h0.6m10.7 21.3h0.6m-17.2 -12.4h0.6m14.2 -2.1h0.6m-16.4 5.1h0.6m19.6 -1.3h0.6m-16.9 -2.3h0.6m-7.4 1.4h0.6m24.2 6.6h0.6m-10.9 -3.8h0.6m-4 -1.8h0.6m-1.2 0.2h0.6m0 0.2h0.6m9 -1.2h0.6m-16.3 2.9h0.6m7.7 -5.6h0.6m5.7 -1.9h0.6m2.4 7.9h0.6m-13.4 -7.1h0.6m3.9 -1.2h0.6m7.8 -7.7h0.6m-6.9 10.8h0.6m-10.4 5.6h0.6m4.2 -1h0.6m-0.2 -4.2h0.6m6.9 7h0.6m3.2 -5.5h0.6m3.2 -1.8h0.6m-23 -8.7h0.6m-1.3 5.7h0.6m-3.2 6.8h0.6m13.7 -2.1h0.6m1 -0.4h0.6m-4.5 -1.2h0.6m1.7 -4.6h0.6m9.2 15.1h0.6m-10.4 4.2h0.6m-8.5 -7.8h0.6m-5.8 -1.7h0.6m6.3 2.3h0.6m6.2 -0.3h0.6m3.3 -2.4h0.6m-7.5 6h0.6m4.3 -6.3h0.6m7.9 -4.2h0.6m1.8 7.7h0.6m-13.7 -14.4h0.6m8.4 6.4h0.6m-9.4 2.5h0.6m6.1 2.9h0.6m-22.4 -7.3h0.6m16.5 4.7h0.6m2.9 2.2h0.6m5.9 -7.3h0.6m-3.1 6.3h0.6m-8.5 1.7h0.6m-5.6 0.2h0.6m0.4 0h0.6m-5 2.6h0.6m-6.5 -10.4h0.6m11 5.1h0.6m-6.5 -3.7h0.6m7.6 8.3h0.6m7.6 -8.7h0.6m-11.3 0.9h0.6m-12 -0.7h0.6m20.2 -5.1h0.6m13 13.2h0.6m-9.5 -4.5h0.6m-1.7 -4.4h0.6m-3.1 7.6h0.6m-4.4 0h0.6m-2.2 -0.6h0.6m4.2 -1.3h0.6m-5 0h0.6m-4.5 -7.3h0.6m-15.8 -0.8h0.6m3.8 -2.7h0.6m14.6 6.5h0.6m3.9 19.6h0.6m-4.5 -20.3h0.6m-3.7 1.5h0.6m-1.3 13h0.6m9.7 -4.6h0.6m-10.9 2.8h0.6m3.7 -5h0.6m-16.3 -8.6h0.6m9.9 2.3h0.6m-6 -10.1h0.6m-2.4 10.7h0.6m7.7 -5.5h0.6m-4.1 16.4h0.6m1.7 -21.4h0.6m-3.3 11.1h0.6m10.8 1.1h0.6m0.3 0.8h0.6m-2.2 5.8h0.6m2.3 -6.6h0.6m-7.7 21.2h0.6m-15.2 -21.1h0.6m12.7 -5.2h0.6m2.2 3.1h0.6m-0.9 2h0.6m-14.1 4.9h0.6m22.5 -0.7h0.6m-14.2 -15.1h0.6m-0.3 9.7h0.6m-9.3 -10.8h0.6m9.1 16.5h0.6m1.5 7.4h0.6m-21.1 -11h0.6m14.1 6.1h0.6m-0.7 -13.6h0.6m-0.8 8h0.6m-5.9 -6.9h0.6m7.3 9.4h0.6m-4.5 -2.2h0.6m-2.8 -4.7h0.6m4.9 7.5h0.6m10.3 -6.3h0.6m-9.5 12h0.6m2.4 -13.3h0.6m-3.9 -6.1h0.6m-9.4 0.5h0.6m13 5h0.6m-7.9 3h0.6m-2.9 -7.1h0.6m16.2 -4.6h0.6m-16.1 15.3h0.6m-1.9 -4.6h0.6m3.4 2h0.6m-5.6 4.8h0.6m6 2.4h0.6m-3.9 -19.9h0.6m-14.2 8.4h0.6m15.9 -6.4h0.6m-8.6 16.5h0.6m6.4 -11.2h0.6m-4 4.7h0.6m-3.1 -2.5h0.6m-2.3 3.1h0.6m16.8 7h0.6m-22.7 5h0.6m8.2 -21.3h0.6m-11.3 8.9h0.6m12.8 -4.5h0.6m-8.6 2.4h0.6m7.7 5.1h0.6m1.7 -17.5h0.6m-9.6 15.1h0.6m6.9 3.1h0.6m-15.1 4.4h0.6m1.7 -10.1h0.6m5.1 -1.6h0.6m-3 7.4h0.6m11.6 -2.7h0.6m-16.7 -5.6h0.6m8.9 5.9h0.6m-4.5 -3.8h0.6m24.2 1.9h0.6m-23.4 -14.4h0.6m-4.1 23.4h0.6m11.8 -16.2h0.6m-1 7.8h0.6m-12.9 3.6h0.6m0.8 -6.3h0.6m4.3 2.9h0.6m-4.2 0.5h0.6m2.9 -0.5h0.6m2.4 -4.8h0.6m-14.3 3.2h0.6m19.6 2.3h0.6m-8.4 -6.1h0.6m-11.2 -2.9h0.6m1.1 5h0.6m-5.4 1.5h0.6m-0.9 4.4h0.6m11.4 -13.8h0.6m-4.6 11.4h0.6m6.6 3.1h0.6m-6.3 -5.3h0.6m0.3 3.9h0.6m-4.1 -4h0.6m5.9 -1h0.6m-10.1 9.7h0.6m11.6 -13h0.6m10.8 0.9h0.6m-22.6 2.2h0.6m10.3 10.7h0.6m5.9 -5.4h0.6m-10.7 0.6h0.6m-7.2 -7.8h0.6m9.5 5.2h0.6m-2.8 -7h0.6m-0.5 -2.4h0.6m4.6 8.3h0.6m-12.7 -2.7h0.6m25.9 20.5h0.6m-27.6 -10h0.6m5 -6.4h0.6m-8.2 -8.9h0.6m8.7 4.9h0.6m1.5 8.6h0.6m-5.5 -3h0.6m1.7 -1.7h0.6m-6 0h0.6m6.8 -0.9h0.6m-7.5 -8.8h0.6m-5.3 17.3h0.6m15.5 -7.3h0.6m-6.2 -2.5h0.6m2.4 6.3h0.6m-7.8 -3.7h0.6m8.7 -10.8h0.6m-15.2 5.8h0.6m-2.3 0.7h0.6m1.8 0.3h0.6m9.6 -4.5h0.6m-3.5 14.6h0.6m0.1 -14.8h0.6m-6.7 13.6h0.6m2 -10.2h0.6m7.5 -0.5h0.6m-15.2 7.5h0.6m8.1 -7.2h0.6m2.9 10h0.6m4.1 -5.7h0.6m-5.4 2.3h0.6m-15.6 6.6h0.6m5.8 -12.6h0.6m-1.9 -2.4h0.6m14.2 5.6h0.6m-13.5 -10.5h0.6m5.1 10.2h0.6m-9.8 -0.3h0.6m-6.7 4.3h0.6m4.1 -0.9h0.6m9.5 -15h0.6m-10 8.4h0.6m14.2 7.2h0.6m-1.9 6.1h0.6m-7.7 -12.5h0.6m-12.8 -2.9h0.6m18.2 1h0.6m-11.7 10.3h0.6m16.1 -15.7h0.6m-6.9 10.2h0.6m2.7 -1.9h0.6m-8.5 10h0.6m-4.2 -5.7h0.6m8.8 -3h0.6m1.3 3.6h0.6m-0.9 -12.7h0.6m-15 11.4h0.6m16.4 6.5h0.6m-9.5 -12.4h0.6m-9.1 -6.9h0.6m3.9 14.5h0.6m2.7 -11.8h0.6m-0.8 8.7h0.6m-5.6 8.1h0.6m8.5 -2.1h0.6m-3.2 -11.8h0.6m7 11.9h0.6m-13.4 -13.9h0.6m10.1 4.3h0.6m-15.8 2.8h0.6m12.6 -3.8h0.6m-4.6 9.9h0.6m4.9 -14.5h0.6m-0.8 19h0.6m0.9 -10.6h0.6m-4.8 -8.5h0.6m-7.9 6h0.6m19.8 3h0.6m-24 9.6h0.6m16.3 -19.1h0.6m-11.6 -0.2h0.6m8.9 -3.4h0.6m5.7 7h0.6m-22.8 18.2h0.6m11.5 -10.1h0.6m1.9 -7.7h0.6m-0.5 4.1h0.6m-3.3 2.9h0.6m6 -8.7h0.6m-21.9 11.1h0.6m28.2 -0.6h0.6m-20 0.7h0.6m-8.6 -3.3h0.6m-4.2 0.1h0.6m17.8 9.1h0.6m-10 -4.4h0.6m13.6 -11.3h0.6m-13 -4.7h0.6m-5.2 13.2h0.6m-9.5 -4.2h0.6m20.5 9.9h0.6m-10.8 -21.4h0.6m-3.7 16.6h0.6m7 0.6h0.6m-2.7 -0.3h0.6m-5.8 -9.3h0.6m5.6 -4.5h0.6m10.1 8.6h0.6m-4.5 18.9h0.6m-0.4 5.2h0.6m4.5 3.9h0.6m-7.3 -4.9h0.6m-3.7 -2.1h0.6m24.1 1.8h0.6m-4.7 0.3h0.6m-17.6 -4.3h0.6m-0.9 6.5h0.6m11.1 13.6h0.6m11.7 -11h0.6m-23.3 -3.8h0.6m0 11.7h0.6m1 -6.2h0.6m-6 -2.1h0.6m0.4 -6.5h0.6m11.4 3.2h0.6m-2.5 -1.1h0.6m-7.5 -0.2h0.6m6.2 -4.4h0.6m4.8 5.9h0.6m-11.9 5.9h0.6m0.9 -16.9h0.6m15.2 8.1h0.6m1.2 4.2h0.6m-20.9 3.7h0.6m11 -1.1h0.6m-4.2 3.4h0.6m7 -10h0.6m-21.5 1.5h0.6m12.9 -5h0.6m-2.8 13.2h0.6m-3 -2h0.6m-4.6 -11.1h0.6m15.5 4.2h0.6m-6.8 6.4h0.6m11.6 -12h0.6m-9.6 7.7h0.6m-4.4 8.3h0.6m-3.9 -12.6h0.6m5.8 -7.6h0.6m-1.8 6h0.6m-1 0.8h0.6m1 2.6h0.6m-11.1 4.2h0.6m12 -11.3h0.6m-18.2 7.1h0.6m7.3 8.4h0.6m16.3 -4.5h0.6m-4.8 -4.3h0.6m-21.8 3.3h0.6m-4 7.1h0.6m16.7 -2.5h0.6m-8.3 -14.7h0.6m3.2 11.1h0.6m-0.7 -5.2h0.6m1.9 1.6h0.6m10.7 -5.9h0.6m-31.6 6.4h0.6m20.7 -7.6h0.6m-3.2 10.5h0.6m2.6 -0.8h0.6m-10 -9.2h0.6m14.1 5.8h0.6m-20.6 10.1h0.6m17.6 -23.1h0.6m15.3 15.6h0.6m-36.8 4.3h0.6m16.1 1.5h0.6m-3.3 -15.4h0.6m-2.1 6.6h0.6m3.3 1.3h0.6m1.7 -5.5h0.6m-10.1 3.7h0.6m7.7 -6.3h0.6m-4.2 21.7h0.6m-16.1 -7.2h0.6m15.8 -0.2h0.6m-1 -3.9h0.6m2.1 1.1h0.6m-14.2 -3.2h0.6m25.5 8.3h0.6m-23.6 -12.6h0.6m5.2 10.7h0.6m8.8 -8.8h0.6m-29 2.9h0.6m5.6 6.6h0.6m26.5 -2.8h0.6m-8.3 -0.6h0.6m10.2 2.8h0.6m-4.1 -11.9h0.6m-17.5 6.1h0.6m-15.3 -1.5h0.6m18.4 1.2h0.6m21.4 -0.7h0.6m-24.1 0.4h0.6m-1.9 -6.9h0.6m12 7.6h0.6m-7.1 0.1h0.6m-10.4 -8.6h0.6m3.6 11.3h0.6m0.8 1h0.6m-6.3 -5.4h0.6m7.5 1h0.6m-0.4 8.1h0.6m-5.7 -6.9h0.6m-2.6 2.2h0.6m6.9 -6.8h0.6m-11.2 -2.4h0.6m5.6 7.1h0.6m-2.4 -1.4h0.6m4.8 13.1h0.6m8.4 -0.2h0.6m-9.6 -11.1h0.6m15.1 0.8h0.6m-11.8 -4.7h0.6m-10.9 6.9h0.6m-1.1 -7.7h0.6m-8.3 5.1h0.6m11.4 1.3h0.6m-7.2 -9.5h0.6m16.4 6.7h0.6m-3.3 -6.2h0.6m-18.6 -7.3h0.6m13.1 18.7h0.6m8.3 4.1h0.6m-27.8 -15.2h0.6m10.6 1.6h0.6m2.1 0h0.6m-11.4 4h0.6m13.1 -3.9h0.6m-1.4 -2.8h0.6m-3.7 5.1h0.6m-1.7 1.4h0.6m-7.6 -6.7h0.6m3.2 11h0.6m-1.7 -8.9h0.6m24.8 3.6h0.6m-21.1 -3.3h0.6m15.4 7.5h0.6m-11 5.7h0.6m-13.2 -17.4h0.6m19.3 11.2h0.6m-14.6 1.9h0.6m3 6.2h0.6m-10.7 -8.5h0.6m18.8 2.8h0.6m-12.2 -6.8h0.6m-1.2 5.8h0.6m-0.4 -4.4h0.6m11.8 0.1h0.6m-7.4 -0.1h0.6m-2.6 -11.1h0.6m-8.8 13.8h0.6m2 -5.3h0.6m5.4 15.5h0.6m-7.7 -17.3h0.6m-9.5 7.6h0.6m14.4 -7h0.6m-3.6 9.7h0.6m11.7 -3.2h0.6m0.6 3.4h0.6m-14.6 -1.2h0.6m4.8 -0.1h0.6m0.4 7.3h0.6m-13.9 -9.5h0.6m0.9 10.5h0.6m4.3 -14.4h0.6m3.7 1.8h0.6m14.4 -0.1h0.6m-13.2 6h0.6m10.3 -10.8h0.6m-11.1 -2h0.6m1.1 14.6h0.6m-9.4 -9h0.6m14.2 3.8h0.6m-3.9 -4.7h0.6m-10.3 0.4h0.6m15.7 -6h0.6m-18.7 16.3h0.6m3.3 -14.1h0.6m2 4.6h0.6m-3.7 3.9h0.6m7.3 -10.7h0.6m-5.7 16h0.6m-13.9 -8.5h0.6m0.9 4.1h0.6m2.2 -5.4h0.6m3.1 4.2h0.6m-8.3 -9.9h0.6m12.3 14.8h0.6m-6.6 -5.1h0.6m6.1 -1.6h0.6m-3.1 -3.5h0.6m-2.5 9.3h0.6m5.3 0.5h0.6m-10.7 -6.3h0.6m0.1 -7.7h0.6m12.8 5.6h0.6m-6.3 -6.1h0.6m-4.9 6.9h0.6m-1.8 6.1h0.6m6.7 -4.7h0.6m-2.5 -3.1h0.6m-8.8 0.9h0.6m-3.3 0.6h0.6m7.3 6.9h0.6m-3.4 7h0.6m-1.3 -12.3h0.6m3.6 -4h0.6m-0.9 -6.2h0.6m9.6 6.4h0.6m-10.5 -6.6h0.6m4.6 2.8h0.6m6.2 1.3h0.6m-18.7 9.2h0.6m16.8 -14.2h0.6m-26.2 19.3h0.6m17.8 -16.9h0.6m-8.2 11.9h0.6m-0.2 4.4h0.6m-3.4 -7.2h0.6m15.5 7.1h0.6m-8.5 -4.9h0.6m-5.6 -3.5h0.6m-2.6 2.5h0.6m11.6 -7.5h0.6m-17.9 5.6h0.6m26.7 1h0.6m-16.7 -1.4h0.6m-16.2 -3.6h0.6m26.9 -7.5h0.6m1.8 4.8h0.6m1.5 20.6h0.6m-5.2 -14.9h0.6m-8.5 -2.2h0.6m-9.5 4.1h0.6m-23.9 1.9h0.6m23.8 -8.9h0.6m-0.3 9.4h0.6m-4.8 -1.6h0.6m-5.6 -1.4h0.6m1.1 3.6h0.6m0.3 -0.8h0.6m-8.7 -2.4h0.6m26 -5.4h0.6m-9.6 -0.2h0.6m3.1 8.8h0.6m5.1 3.1h0.6m0.8 -11.2h0.6m-10.9 6.9h0.6m0.1 -10h0.6m15.2 20.9h0.6m-17.6 -27.9h0.6m14.7 13.1h0.6m3.2 -4.7h0.6m-15.6 10h0.6m-17.6 -6.1h0.6m16.1 5.4h0.6m-1.5 -17.8h0.6m-24.6 16.2h0.6m33.8 -10.4h0.6m-11 13.4h0.6m-12.4 -13.6h0.6m10.1 6.2h0.6m-3.7 1.3h0.6m-0.8 2.8h0.6m-4.2 -1.9h0.6m-0.9 -4.5h0.6m7.3 0.2h0.6m1 4.3h0.6m4.1 3.4h0.6m-27.2 -3.4h0.6m22.4 0.8h0.6m-5.9 5.3h0.6m4.8 -13.2h0.6m-5.6 12.7h0.6m-0.1 -12.4h0.6m4.8 10.3h0.6m2.6 -2.4h0.6m-9.5 3.7h0.6m-11.1 4.7h0.6m12.4 -8.1h0.6m2.4 3.1h0.6m-26.1 0.7h0.6m17.5 -9.3h0.6m8.1 9.4h0.6m-5.1 -8.5h0.6m-3 -1.8h0.6m20.3 1.6h0.6m-14.8 12.5h0.6m-15.6 -11.8h0.6m-12.5 1.6h0.6m7.3 2.1h0.6m8.9 -0.8h0.6m1.6 -2.6h0.6m0.1 2.2h0.6m-7.8 -1.3h0.6m0.7 -5.4h0.6m4.1 -3.1h0.6m4.2 10h0.6m-3.8 6.5h0.6m6.2 -8.7h0.6m-5.8 8.9h0.6m-5 -4.5h0.6m4.4 -7.7h0.6m-1.8 3.5h0.6m-5.3 4.5h0.6m7.3 -7.2h0.6m-8.4 3.8h0.6m-6.6 3.1h0.6m5.8 -5.9h0.6m9.3 3.4h0.6m-18.7 0h0.6m7.8 2.1h0.6m20.4 1.4h0.6m-7.6 -4h0.6m-9 3.7h0.6m-5.5 -1.4h0.6m-3.6 2.5h0.6m-4.5 5.5h0.6m6.1 -7.3h0.6m1.7 -10.8h0.6m1.9 4h0.6m-2.6 2.5h0.6m-4.6 -6h0.6m-9.6 5.2h0.6m1.5 4.4h0.6m-3.5 -0.1h0.6m16.2 -5.3h0.6m-20.1 4.7h0.6m5.5 5.9h0.6m4.1 -4.4h0.6m-5.9 0.3h0.6m-2.8 -4.2h0.6m-1.8 7.3h0.6m5.4 -5.8h0.6m-10.9 8.4h0.6m5.1 -4.8h0.6m-1.3 -7.6h0.6m1 2.8h0.6m-2.6 1.2h0.6m-0.6 10.2h0.6m5.5 -14.7h0.6m-11.1 4.9h0.6m2.5 4.3h0.6m7 -5.1h0.6m-4 1.8h0.6m-9.4 4.6h0.6m12.3 -6.7h0.6m-4.5 1h0.6m-3.1 0.2h0.6m-0.7 1.7h0.6m-2.3 0.8h0.6m-2.9 1.8h0.6m0.6 -9h0.6m5.5 5.1h0.6m-5.3 4.3h0.6m1.1 3.4h0.6m1 -11.3h0.6m-3.8 2.5h0.6m0.1 8h0.6m9.8 0.1h0.6m-8.4 -4h0.6m-1.6 -9.3h0.6m3.6 14.2h0.6m-7.2 -6.8h0.6m-1.2 -0.6h0.6m-1.1 -3.1h0.6m6.5 -2.8h0.6m-1.2 2.7h0.6m-5 -2.9h0.6m2.5 3.4h0.6m5.8 0.2h0.6m-8.4 5.4h0.6m-4.8 -5h0.6m-0.9 4.7h0.6m4.1 1.5h0.6m-6.6 -6.5h0.6m3.9 1.6h0.6m0.9 5.3h0.6m-1.2 -6.5h0.6m-1.2 0.3h0.6m-2.7 8.7h0.6m4 -0.2h0.6m-3.7 -6.3h0.6m-4.2 1h0.6m6.3 1.5h0.6m-7.2 -1.9h0.6m6.6 -2h0.6m-1.3 -0.1h0.6m-3.1 -0.3h0.6m-5.7 -0.8h0.6m5.1 1.8h0.6m-1.2 -1h0.6m2.5 1.4h0.6m-2.3 -1h0.6m2.6 1.2h0.6m-3.6 7.8h0.6m-0.7 -12.7h0.6m-4.3 6.4h0.6m-2.9 -6.1h0.6m3.5 -0.3h0.6m3.6 6.7h0.6m-5.4 2.7h0.6m-1.9 -8.1h0.6m4.9 4.1h0.6m-4.5 3.4h0.6m-0.3 -1.3h0.6m0.6 1.7h0.6m0.6 -5.5h0.6m2.7 0.4h0.6m0.1 -3.1h0.6m-6.4 -3.3h0.6m1.1 12.1h0.6m-3.8 -2.9h0.6m0 3.2h0.6m1.3 -3.6h0.6m2.1 -6.3h0.6m-2 5.5h0.6m1.4 -0.3h0.6m-2.9 -0.3h0.6m-6.1 -1.5h0.6m2.1 -2.8h0.6m-0.1 2.9h0.6m5.9 0.8h0.6m-6.5 1.1h0.6m1.4 -5.7h0.6m-9 10.7h0.6m2.5 -8.3h0.6m6.3 4h0.6m-7.4 1.5h0.6m-1.7 3h0.6m2.2 -4.4h0.6m0.4 5.4h0.6m-3.8 -6.8h0.6m10.1 -6.6h0.6m-9.7 7.8h0.6m0.3 0.6h0.6m4.2 -5.3h0.6m-6.9 8.2h0.6m8.4 -13.4h0.6m-5.5 12.3h0.6m-4.7 -6.2h0.6m-2.2 2.2h0.6m-0.7 3.1h0.6m1 -0.7h0.6m-3.6 1.3h0.6m7.1 0.2h0.6m-2 4.5h0.6m1.8 -7.5h0.6m1.6 -1.4h0.6m-5.6 6.7h0.6m-2.7 -5.5h0.6m1.9 0.6h0.6m-2.3 2.8h0.6m7.6 -4.7h0.6m-13.1 -0.3h0.6m-0.3 -2.7h0.6m0.6 7.9h0.6m3.5 -1.2h0.6m-1.5 1h0.6m-1.6 1h0.6m3.8 -3.7h0.6m-8.7 -4.4h0.6m5.4 0.2h0.6m-2.1 3h0.6m4.7 -1.8h0.6m-4.8 0.7h0.6m-3.7 3.1h0.6m5.3 -6.3h0.6m1.3 12.3h0.6m-5.3 -5.7h0.6m-4.7 -3.2h0.6m4.1 1.1h0.6m3.1 -2.7h0.6m-6.2 4.8h0.6m0 -2.6h0.6m-0.8 2.2h0.6m-6.8 7.3h0.6m44.4 -39.2h0.6m-29.1 -1.2h0.6m22.5 -11.5h0.6m34.1 20.7h0.6m-67 41.3h0.6m23.5 -24.7h0.6m-3.8 -11.9h0.6m38.2 -27.2h0.6m-31.6 19.5h0.6m-11 10.7h0.6m-26.3 10.8h0.6m34.5 -1h0.6m-14.4 3h0.6m1.7 0.4h0.6m30.7 -2.3h0.6m-48.6 -8.7h0.6m6.4 29.6h0.6m20.6 -50.9h0.6m-30.3 41h0.6m8.4 -14.4h0.6m11 -8.8h0.6m-2.5 2.5h0.6m34.7 -14h0.6m-19.5 21.4h0.6m-21 -24.8h0.6m-4.4 26.4h0.6m17.5 7h0.6m3 -14.3h0.6m-6.6 1.8h0.6m-0.1 6.9h0.6m-16.3 6.4h0.6m42.3 -18.4h0.6m-18.9 -17.1h0.6m-8.6 -4h0.6m14.8 23.3h0.6m0.9 17h0.6m-31.9 -4.9h0.6m38.7 22.1h0.6m-29 -26.4h0.6m-9.8 1.5h0.6m20.7 12.8h0.6m-13.5 -21.9h0.6m10.6 -3.6h0.6m26.4 -32.2h0.6m-65.7 26.9h0.6m40.9 8.3h0.6m-5.4 -24.2h0.6m2.5 32.4h0.6m17.3 4.4h0.6m-39.4 -24.5h0.6m-9.5 3.9h0.6m17.2 27.4h0.6m29.6 -18.6h0.6m-18.8 -3.7h0.6m-33.2 10.9h0.6m9.2 -33.6h0.6m-2.5 48.7h0.6m-6.2 -2h0.6m-4.2 -22.5h0.6m31.7 -5.2h0.6m-26 6.3h0.6m45 10.3h0.6m-26 -1.3h0.6m16.4 11.8h0.6m-25.7 -34.6h0.6m-13 14.8h0.6m11.3 -0.9h0.6m-7.5 22.3h0.6m-3.4 -34.7h0.6m-6 -4.8h0.6m-8.6 4.2h0.6m23.5 23.8h0.6m-27.3 -4h0.6m28.2 -7h0.6m-35.9 7.7h0.6m48.3 10.4h0.6m-17.2 1.4h0.6m5.6 -33.7h0.6m7.3 29.6h0.6m-5.6 -15.8h0.6m-9 11h0.6m-27.6 -5.8h0.6m8.4 -12.8h0.6m25.2 27.5h0.6m-4.3 -33.9h0.6m-13.1 5h0.6m30.4 42.9h0.6m-17.2 -54.4h0.6m12.7 22.4h0.6m-22.7 1.8h0.6m-13.6 -0.2h0.6m25.7 15.6h0.6m28 -28.4h0.6m-28.8 -2.6h0.6m-5.1 30.4h0.6m8.5 -22.6h0.6m19.4 18.6h0.6m-10.4 -12.7h0.6m1.3 -3.6h0.6m-8.7 3h0.6m-15.9 -24.9h0.6m16.6 33.2h0.6m-28.5 -8h0.6m20.7 9h0.6m-47.1 13.3h0.6m17.6 6.5h0.6m37.1 -27.6h0.6m-16.9 2.3h0.6m-11.3 19.3h0.6m-5.2 -32.1h0.6m7.1 -16.5h0.6m21.5 6.3h0.6m7.8 33.4h0.6m8.2 -24.2h0.6m-41.1 2.3h0.6m18.5 -7h0.6m-20.1 -22.3h0.6m5.8 39.6h0.6m33.4 -16.4h0.6m-18.4 22.1h0.6" stroke="#151515" stroke-width="0.66" stroke-opacity="0.8" fill="none"/>
<ellipse cx="439.8" cy="453.8" rx="9.5" ry="10.5" fill="url(#core)"/>
<ellipse cx="440.6" cy="480" rx="9.5" ry="10" fill="url(#core)"/>
<path d="M443.5 448.5h0.8m-19 3h0.8m17.8 3.2h0.8m1.2 9.5h0.8m-9.8 -12.3h0.8m8.6 -6.1h0.8m-17.8 9.4h0.8m11.1 5.9h0.8m0.9 -7.4h0.8m-6.3 -8.7h0.8m3.8 5.9h0.8m-4.6 4.5h0.8m-7.8 -2h0.8m5.2 10.1h0.8m1.3 -4.2h0.8m-4.4 -13.1h0.8m7.1 6h0.8m-10.2 6.8h0.8m7 -13.5h0.8m-3.9 18h0.8m0.6 -16.2h0.8m-4.8 13.3h0.8m9.1 -3.4h0.8m-13.5 0.7h0.8m2.1 -6.5h0.8m0.5 7.7h0.8m3.5 -2.4h0.8m-4.8 -5.4h0.8m5.6 -0.4h0.8m-6.6 5.7h0.8m-0.3 2.1h0.8m2.3 -1.7h0.8m6.7 -5.8h0.8m-1.8 -3.6h0.8m-13 -6h0.8m-0.3 8.3h0.8m5.1 10.1h0.8m6 -8.8h0.8m-6.1 1.7h0.8m-13.2 -19.5h0.8m5.5 10.9h0.8m4.4 4.9h0.8m-1.7 1.3h0.8m-1.5 -1.3h0.8m-1.2 13.6h0.8m-0.9 -15.7h0.8m-5.7 7.4h0.8m6 -6.8h0.8m-8.1 -1.9h0.8m10.5 9.5h0.8m-6.9 -3.6h0.8m6 5h0.8m-9.4 3.1h0.8m2.1 -7.4h0.8m-4.8 1.5h0.8m6.6 -7.1h0.8m-13.7 10.4h0.8m10.8 3.8h0.8m-2.9 -14.6h0.8m0.2 8.3h0.8m-8.6 -8.8h0.8m-3 8.3h0.8m0.2 1.4h0.8m4.1 1.4h0.8m3.6 -7.7h0.8m-6.2 8.2h0.8m-1.9 1.4h0.8m4.5 -0.6h0.8m-5.9 -0.6h0.8m0.8 -2.8h0.8m2.8 -3.9h0.8m-3.7 -9h0.8m-3.5 14.9h0.8m-2.5 -13.6h0.8m-2.3 9h0.8m8.2 4.2h0.8m-9.7 -0.7h0.8m0 3.4h0.8m6.1 -8.5h0.8m-4.5 2.7h0.8m-1.2 6.2h0.8m2.9 -8.6h0.8m-0.1 -4h0.8m-2.1 5.2h0.8m-3.9 1.3h0.8m2.6 -7h0.8m-0.2 22h0.8m1 -17.7h0.8m-2.7 11.3h0.8m-6.8 0h0.8m2.2 1.2h0.8m-2.8 -4.3h0.8m0.3 1.1h0.8m5.4 -4.6h0.8m-8.1 3.5h0.8m4.3 -10.6h0.8m0 4.6h0.8m-3.7 -4.1h0.8m0.6 9.2h0.8m-5.2 -0.3h0.8m-4.9 -3.5h0.8m7.9 -5.3h0.8m-1.2 -1.8h0.8m6.4 8.6h0.8m-4.1 -6.7h0.8m-14.8 4.3h0.8m14.2 -0.4h0.8m-1.5 2.8h0.8m-4.3 3.3h0.8m-4.6 -7.4h0.8m6.2 4.4h0.8m-7.6 -7.7h0.8m7.6 -10.8h0.8m-3.2 15.5h0.8m-10 2.7h0.8m6.6 9.4h0.8m-1.6 -24h0.8m-5.8 16.4h0.8m1 -4.1h0.8m0.9 7.5h0.8m0.9 -8h0.8m-4.8 5.8h0.8m-1 -2.9h0.8m3.8 1.6h0.8m0.7 -2.3h0.8m4.1 2.5h0.8m-12.1 -8.4h0.8m-0.5 11.1h0.8m-2.5 1.2h0.8m5.5 -10.8h0.8m-6.7 2.5h0.8m6.4 0.1h0.8m-0.9 1.2h0.8m1.8 -3.2h0.8m-6.9 -3.3h0.8m-1.6 0.7h0.8m-5.7 3.9h0.8m8.2 -10.1h0.8m-8.8 4.2h0.8m5.9 9.8h0.8m-1 -3.7h0.8m-5.2 1.8h0.8m-1.2 -2.1h0.8m4.4 -0.1h0.8m2.4 -9.6h0.8m-12.1 15.9h0.8m3.3 -7.4h0.8m-0.7 2.1h0.8m0.8 2.1h0.8m3.6 7.4h0.8m-13.2 -9.8h0.8m4.2 1.7h0.8m-1.3 -0.8h0.8m4.4 -0.5h0.8m-0.9 3.5h0.8m-6.1 -3.5h0.8m7.8 4.8h0.8m-1.1 -8.8h0.8m-7.5 9.1h0.8m1.9 -3.4h0.8m-2.2 3h0.8m1.3 -9.5h0.8m0 3.2h0.8m-3.3 4.6h0.8m0.8 -5.7h0.8m-6.1 0.7h0.8m3.4 -3.8h0.8m-2.8 17.6h0.8m-0.9 -11.3h0.8m-3.2 -1.9h0.8m5.2 2.4h0.8m-8.6 -0.6h0.8m2.1 5.2h0.8m2.7 2.5h0.8m1.1 -13.7h0.8m1.6 3.4h0.8m-5.1 2.9h0.8m-5.6 5.3h0.8m5 -10.9h0.8m-6.9 7.4h0.8m9.6 -0.3h0.8m-4.4 -4.1h0.8m2.3 4.8h0.8m-8.4 -5.8h0.8m-6.3 8.8h0.8m20 -6.3h0.8m-11.1 4.4h0.8m-3.5 6.8h0.8m-4 -14.8h0.8m9.8 8.7h0.8m-4.2 -5h0.8m-4.1 1.2h0.8m1.1 -3.7h0.8m1.7 11.7h0.8m-7.1 -13.4h0.8m1.8 16.9h0.8m-5.2 -5.5h0.8m0.4 -10.4h0.8m6.3 2.9h0.8m-5.4 4.3h0.8m4 -2.3h0.8m0.9 -4.5h0.8m-9.2 6.7h0.8m3.9 -12h0.8m-4.6 12h0.8m-0.2 5.5h0.8m-6.6 -7.9h0.8m2.2 -8.9h0.8m1.7 7.6h0.8m-1.6 -2.8h0.8m4.4 -2h0.8m-6.8 -1.8h0.8m6.4 -0.4h0.8m1.5 2.8h0.8m-8 12.6h0.8m-4.9 -1.5h0.8m-1.8 -8.9h0.8m6.8 4h0.8m-1.7 -0.1h0.8m4.2 -9.5h0.8m-10 12.3h0.8m-3.9 -7.8h0.8m15 10.1h0.8m-8.6 -6.2h0.8m-3.6 -4.8h0.8m-3.6 -0.5h0.8m-2.5 5.5h0.8m6.1 -5.3h0.8m-1.9 -1.9h0.8m0.1 5h0.8m-2.6 2.5h0.8m4.8 0.1h0.8m-8.7 -0.2h0.8m3.4 1.8h0.8m1.9 -6.7h0.8m-9.9 7.2h0.8m-0.6 -0.9h0.8m14.9 4h0.8m-17.8 -10.3h0.8m6.7 2.7h0.8m0.4 2.6h0.8m-2.2 1.5h0.8m-8.5 2.9h0.8m-0.2 -10h0.8m-4.9 4.4h0.8m10.6 -1.9h0.8m-7.3 -8.9h0.8m6.4 5.1h0.8m-4.6 6.9h0.8m0.4 0.8h0.8m6.3 1.5h0.8m-11.7 -3.7h0.8m2.4 -4.1h0.8m2.8 2.4h0.8m-2.5 5.1h0.8m6.8 -6.2h0.8m-6.4 13.7h0.8m2.7 -9.2h0.8m-10.3 -0.7h0.8m-0.3 -2.9h0.8m-5.3 0.7h0.8m-2 6.3h0.8m9.5 -6.9h0.8m-2.7 2.6h0.8m-2 0.8h0.8m-0.5 0.9h0.8m-3.4 -1.9h0.8m9.4 -4.4h0.8m-11 8.7h0.8m3.8 -3.9h0.8m-1.3 -2.8h0.8m-3.7 4.6h0.8m2 0.6h0.8m0.4 7.9h0.8m-2.3 -4.1h0.8m-0.6 4.2h0.8m2.6 -14.9h0.8m1.7 0.9h0.8m-3.1 -0.9h0.8m-3.5 4.5h0.8m3.6 -11.4h0.8m-14.5 15.5h0.8m10.1 -7.4h0.8m-3.5 -6.1h0.8m-2.7 5.4h0.8m4.4 4.5h0.8m-5.1 4.5h0.8m-2.8 -2h0.8m0.9 -1.4h0.8m-1.1 4.6h0.8m-1.4 3.1h0.8m4.3 -14.1h0.8m-5.9 10.7h0.8m7.1 -12.6h0.8m-6.2 9.1h0.8m8.3 0.2h0.8m-11.4 1.3h0.8m0.4 -8.8h0.8m-1.3 3.1h0.8m-1.5 1.5h0.8m1.5 -4.2h0.8m0.5 -4h0.8m-0.8 10.3h0.8m-1.8 -9.9h0.8m-4.6 8.5h0.8m3.2 2.7h0.8m-9.1 -3.6h0.8m10 -5.9h0.8m-10.3 3.4h0.8m3.1 1.1h0.8m5.5 2.7h0.8m-13.8 2.5h0.8m7.4 0.3h0.8m-1.3 2.6h0.8m-0.1 -9.2h0.8m-6.3 7h0.8m3.6 -13.3h0.8m3.2 15.1h0.8m-12.9 -3.6h0.8m10.5 5.7h0.8m1.6 -12.2h0.8m-4 7.4h0.8m-8.7 3.4h0.8m7.3 -2.9h0.8m-6.5 -0.1h0.8m2.7 -5.6h0.8m-0.5 3.2h0.8m-7.2 -1.7h0.8m6.9 -8h0.8m4.7 20.7h0.8m-5 -12.7h0.8m-7.8 -5.5h0.8m-1.6 9.9h0.8m0.6 -3.4h0.8m1 3.5h0.8m6.3 0.1h0.8m-3.3 0.7h0.8m3.5 -9.6h0.8m-6.8 1.1h0.8m-1.7 2.2h0.8m-0.5 4.6h0.8m-6.6 -16.4h0.8m5.7 18.1h0.8m-3.6 2.1h0.8m10.1 -7h0.8m-10.9 2.2h0.8m3.2 -9.9h0.8m-1.9 -2.8h0.8m-7.3 11.3h0.8m4.9 -7h0.8m-1.9 12.3h0.8m-7.7 -3.6h0.8m11.2 -9.5h0.8m-1.1 8.9h0.8m-7 -2.1h0.8m0.3 0.1h0.8m-1.5 -3.9h0.8m3.8 12.1h0.8m-5.4 -1.4h0.8m-3.1 -13.3h0.8m5 7.5h0.8m-1.6 -6h0.8m-4.3 9.8h0.8m7.4 -3.7h0.8m-5.8 -14.3h0.8m-5 19.5h0.8m9.7 -10.6h0.8m-19.1 6.6h0.8m4.3 -4.6h0.8m2 0.3h0.8m-2.3 5.1h0.8m4.5 -9.8h0.8m-8.6 16.8h0.8m8.1 -9.3h0.8m-10.2 9.7h0.8m1.9 -10.1h0.8m4.9 -4.2h0.8m-1.7 1.4h0.8m-9.8 -4.7h0.8m5.1 4.3h0.8m3.6 10.8h0.8m-3.6 2.6h0.8m-1.6 -10.2h0.8m0.1 -9h0.8m-0.2 7.4h0.8m-3.9 4.7h0.8m4.2 -5.2h0.8m-6 3h0.8m-0.5 -5.7h0.8m0.4 8.9h0.8m0.1 -5.5h0.8m-1 3.8h0.8m-0.1 1.1h0.8m-0.8 0.1h0.8m-1.4 -7.9h0.8m2.2 2.7h0.8m-4.4 8.2h0.8m-1 -11h0.8m-0.1 11h0.8m-4.9 -1.4h0.8m6.8 -7.7h0.8m-4.3 -1.7h0.8m-7.8 -1h0.8m1.8 -3.3h0.8m3.1 10.9h0.8m-2.8 -4.6h0.8m-0.1 0.6h0.8m3.9 7.1h0.8m0.1 -4.2h0.8m2.3 1.7h0.8m-4.4 -0.7h0.8m0.5 -8h0.8m-7.8 5.6h0.8m-4.4 -1.8h0.8m5.1 3h0.8m3.4 4.9h0.8m-13.3 -5.5h0.8m10.2 6.1h0.8m-4.7 -5.1h0.8m1.1 -6.7h0.8m0.8 9.5h0.8m-3.2 -4.4h0.8m5.1 -1.4h0.8m-6.6 2.4h0.8m2.3 0.6h0.8m2.5 0.2h0.8m-10.8 -10.3h0.8m3.7 16.4h0.8m-0.2 -10.5h0.8m0.1 4.8h0.8m3.2 -9h0.8m-2.7 7.3h0.8m-0.6 4.5h0.8m-13.3 -0.8h0.8m10.3 -8.5h0.8m-3.3 9.1h0.8m-6.4 -0.8h0.8m8.6 4.3h0.8m-7.5 -11.8h0.8m6.7 1.7h0.8m-3.2 -11.6h0.8m7.3 3.7h0.8m-17.3 11.8h0.8m7.9 -6.6h0.8m-11.9 6.8h0.8m9.2 -7.3h0.8m-1.2 1.7h0.8m-5.5 6.4h0.8m3.4 -3.3h0.8m-5.9 -3.7h0.8m3.1 0.5h0.8m1.8 3.1h0.8m-3.1 -1h0.8m1.7 5.9h0.8m-6.9 -0.3h0.8m7.4 -0.8h0.8m-6.8 -2.9h0.8m10.1 -7.7h0.8m-6 5.4h0.8m2.6 2h0.8m-4.2 -3.8h0.8m-6.3 11.1h0.8m-3.9 -10.6h0.8m3.3 -3.7h0.8m2.8 0.1h0.8m-3.1 5h0.8m-10.1 1.9h0.8m1.9 -0.6h0.8m-4 -2.8h0.8m12.1 4h0.8m0.5 6.8h0.8m-2.4 -9.1h0.8m-4.3 4.1h0.8m-5.4 -8.3h0.8m4.2 13.9h0.8m-5.3 -7.5h0.8m0.9 2.4h0.8m3.5 -3.8h0.8m1.5 -1.1h0.8m-11.4 11.8h0.8m5.6 -9h0.8m2.9 -5.6h0.8m-6 0.3h0.8m3.5 5.8h0.8m-2.3 -8.6h0.8m-5 -0.7h0.8m-3 3.6h0.8m6 6.1h0.8m-9.4 0.7h0.8m8 4.8h0.8m1.3 -15.5h0.8m-2.3 8.7h0.8m-1.5 -4.8h0.8m3.7 4.1h0.8m-9 -9.5h0.8m0.5 2.2h0.8m-5.8 15h0.8m5 -3.3h0.8m4 -1.2h0.8m-7.1 -9.5h0.8m0.3 6.5h0.8m-0.7 -2.2h0.8m0.3 -5.7h0.8m3 1.3h0.8m-4.7 1.5h0.8m4.3 1.6h0.8m-10.1 1h0.8m6.6 -4.4h0.8m-9.8 3.6h0.8m7.7 -12.2h0.8m-0.1 26.2h0.8m-5.4 -6.7h0.8m-0.6 -14h0.8m-2 12.4h0.8m-3.6 -4.6h0.8m1 3.5h0.8m12.1 -1.6h0.8m-16.3 8h0.8m3.3 -10.5h0.8m2.5 6h0.8m-1.9 -2.1h0.8m-1 -7.9h0.8m1.7 10.5h0.8m-7.3 -13.2h0.8m0 9.7h0.8m7.5 0.2h0.8m-20.1 -4.2h0.8m12.9 4.3h0.8m-7.3 -3h0.8m6 5.3h0.8m2 4.9h0.8m-7 -10.6h0.8m0.2 4.7h0.8m9.3 -1.6h0.8m-8.4 -5.5h0.8m-6.7 13.6h0.8m4.1 -1.8h0.8m3 -9.7h0.8m-3.2 -2.1h0.8m0.8 3.8h0.8m-0.2 7.1h0.8m-6.5 -2.2h0.8m3.5 -6.8h0.8m-1.5 9h0.8m-1.2 -1.3h0.8m-0.1 1.4h0.8m-2.8 -8.1h0.8m2.4 -9.9h0.8m-5.6 19.4h0.8m-1.7 1.6h0.8m9 -11.9h0.8m-10.6 4.5h0.8m6 6.9h0.8m1.8 -12.5h0.8m-3.5 1h0.8m0.1 5h0.8m0.7 -2.8h0.8m-3.4 -6.1h0.8m-8.2 9.1h0.8m3.6 1.9h0.8m8.4 -7.7h0.8m-15.3 -2.2h0.8m1.5 11.3h0.8m3.4 -7.4h0.8m0.4 0.6h0.8m-2.5 0.8h0.8m-7.5 4.2h0.8m5.6 7.2h0.8m-1.2 -14.4h0.8m-0.4 -0.6h0.8m-1.7 1.8h0.8m0.7 -2.8h0.8m-2.6 2.6h0.8m-4.4 1.7h0.8m6.1 4.1h0.8m-2.4 -4.3h0.8m1.9 -0.9h0.8m-1.9 -7.4h0.8m-8.7 5.1h0.8m9 2.4h0.8m-3.6 -4.3h0.8m-9.1 19.9h0.8m12.5 -5.3h0.8m-7.7 -12.3h0.8m0.2 2.1h0.8m-3.8 -11.4h0.8m2.1 1.4h0.8m-3.9 3.4h0.8m9.7 1.3h0.8m-10.8 8.4h0.8m-0.5 -0.6h0.8m4.5 -4.5h0.8m-2.6 2.6h0.8m-8.4 2.1h0.8m0.2 3.8h0.8m3.7 -4.4h0.8m3.4 -5.1h0.8m-8.4 11.5h0.8m5.6 -5.1h0.8m-12.2 -2.1h0.8m3.6 -3.2h0.8m-3.7 -5.3h0.8m4.3 10.3h0.8m-1.1 -2.8h0.8m1.6 7.8h0.8m-3.6 -6.3h0.8m13.3 -0.8h0.8m-8.9 -5.9h0.8m-8.8 3.8h0.8m16.7 -0.9h0.8m-7.8 0.6h0.8m-12.1 -7.1h0.8m5.2 15.1h0.8m-4.9 -7.5h0.8m-2.1 -1.7h0.8m8.3 1h0.8m-9.6 5.9h0.8m4.7 -3.4h0.8m6.9 1.8h0.8m-4.6 -7.9h0.8m-6.1 12.9h0.8m2.7 -1.9h0.8m-10.3 -6.1h0.8m12.7 8.9h0.8m-21.2 -17.2h0.8m18.3 13.8h0.8m-1 -18.4h0.8m-6.1 18.4h0.8m4.1 -9h0.8m-1.5 9h0.8m-7.6 4.1h0.8m6.9 -3.6h0.8m-8.3 -3.1h0.8m1.1 7.1h0.8m9.9 -13h0.8m-2.7 6.7h0.8m-12.4 -6h0.8m8.8 5.4h0.8m-10.3 -2.7h0.8m0.4 0.4h0.8m8.7 -2.9h0.8m-10 -12h0.8m2.8 20.4h0.8m5.9 -8.1h0.8m-11 1.2h0.8m-5 2h0.8m1.3 -1.1h0.8m3.2 5h0.8m-1.2 8.5h0.8m0.4 -9.7h0.8m0 -3.2h0.8m1.2 1.3h0.8m-10.9 -3.5h0.8m11.6 -5.5h0.8m0.4 8.8h0.8m-7.4 5.8h0.8m-0.9 -8.8h0.8m-11.4 -0.8h0.8m3.6 6.8h0.8m4.8 -8.4h0.8m3.9 9.3h0.8m3.9 -3.1h0.8m-16 -0.9h0.8m7.9 4h0.8m-9.9 -2.1h0.8m8 -0.4h0.8m-11 -4.4h0.8m5.9 1.2h0.8m3.7 -0.8h0.8m-12.9 -8.9h0.8m9.4 6.7h0.8m-3.1 9.8h0.8m-2.9 -5.8h0.8m-4.9 -6h0.8m8.2 12.1h0.8m-6.3 -6.9h0.8m3.6 -1.3h0.8m-2 0.2h0.8m1.5 -0.6h0.8m-5.5 -4.3h0.8m-2.1 -0.7h0.8m2 12.7h0.8m-5.9 -9.4h0.8m1.5 6.7h0.8m1.3 -4h0.8m-3.7 0.3h0.8m1.9 -2.8h0.8m6.9 6.6h0.8m-7.7 -0.9h0.8m10 1.5h0.8m-13.3 -3.2h0.8m6.7 2.4h0.8m-7.1 -1.8h0.8m-4.5 -2.1h0.8m2.3 0.4h0.8m7 1.4h0.8m-1.7 -0.2h0.8m-12.5 6.2h0.8m3.4 -6.8h0.8m6.5 7.7h0.8m-5 1.7h0.8m-4.8 -4.2h0.8m-3.4 2.2h0.8m1.3 -2.2h0.8m-4.7 5.3h0.8m16.6 -11.4h0.8m-10.4 -4.7h0.8m-2.4 -3.3h0.8m4.8 9.2h0.8m2 0.5h0.8m-9.4 -5.6h0.8m4.5 4.8h0.8m-12 -9.2h0.8m12.4 9.3h0.8m-7.1 -3h0.8m-3.6 3.6h0.8m3.6 -7.9h0.8m13.3 14.1h0.8m-27.9 -5.7h0.8m17.9 -4.8h0.8m-16.1 8h0.8m3.8 -3.7h0.8m13.2 0.1h0.8m-2.8 -5.3h0.8m-20.2 2.7h0.8m8 7.1h0.8m4.3 -17.8h0.8m-10.4 10.3h0.8m1.6 -1.4h0.8m1.7 5.4h0.8m-8 -7.2h0.8m2.8 14.2h0.8m3.7 -17.9h0.8m3.3 16.1h0.8m-13.7 -14.4h0.8m11.9 8.5h0.8m0.2 10.4h0.8m-0.5 -4.1h0.8m-7.9 2.8h0.8m-2.1 -7.2h0.8m-8.9 -5h0.8m16.4 -3.4h0.8m-8.5 -8.3h0.8m0 5.7h0.8m1.7 5.5h0.8m-5.4 1h0.8m0.9 2.2h0.8m0.1 7.6h0.8m7.3 -24.3h0.8m1 15.3h0.8m-6.9 -4.6h0.8m0.7 9.8h0.8m-7.9 -11.3h0.8m5.8 10.5h0.8m-9.5 -17.2h0.8m-2.1 16.9h0.8m13.8 -9.2h0.8m-12.1 -0.7h0.8m4.9 1.9h0.8m7.3 9.2h0.8m-12.3 -6.6h0.8m6.6 0.1h0.8m-9.3 3.3h0.8m8 8.8h0.8m-9.4 -17.6h0.8m-4.2 7h0.8m8.7 -16.4h0.8m-0.8 20.2h0.8m-3.5 -12.5h0.8m-1.4 6.4h0.8m-7.2 7.4h0.8m12.6 -2.8h0.8m-4.9 5.4h0.8m-4.1 -9.4h0.8m8.1 -1.4h0.8m-11.7 6.4h0.8m-1.5 -8.6h0.8m8.4 6.2h0.8m-11.7 -3.7h0.8m7 9.2h0.8m-3.2 2.3h0.8m-2.1 2.8h0.8m4.8 -18h0.8m-6.8 9.7h0.8m-0.4 -8.7h0.8m2.2 6.1h0.8m-12.7 -8h0.8m5.9 14.5h0.8m1.3 -4.8h0.8m5.2 -2.7h0.8m-6.4 1h0.8m4.5 -3.9h0.8m-3.9 -0.4h0.8m-2.6 12h0.8m-6.1 -4.1h0.8m4.4 -1.7h0.8m1.9 -0.9h0.8m-0.9 11.3h0.8m-7.9 -19h0.8m7.8 9.7h0.8m6.6 -6.7h0.8m-8.4 0.5h0.8m-8 -0.3h0.8m-2.7 -2.3h0.8m2.1 5.2h0.8m1.5 6.4h0.8m-6.5 -5.9h0.8m-0.7 6h0.8m-1 -7.8h0.8m0 9.4h0.8m-3.4 -14.6h0.8m4.1 5.2h0.8m-3.9 9.7h0.8m1.4 -21.1h0.8m1.2 5.1h0.8m-3.4 5.4h0.8m-2.3 0.5h0.8m2.2 6.8h0.8m16.4 -8.6h0.8m-18.4 11.9h0.8m12 -2.2h0.8m-12.4 7.5h0.8m1.2 -4.8h0.8m-4.5 -15.9h0.8m10.3 2.2h0.8m-14.8 6.7h0.8m-0.2 3.5h0.8m5.2 -5.7h0.8m-4.6 10.9h0.8m10.6 -2.1h0.8m-16.6 3.4h0.8m7.5 0.3h0.8m1.8 -15.6h0.8m-13.7 0.1h0.8m16 1.4h0.8m1.8 -5.5h0.8m-6.7 7.7h0.8m-12.8 3.2h0.8m5.1 -4.3h0.8m-10.7 -4.7h0.8m7.5 5.6h0.8m-1.8 14.3h0.8m1.7 -12h0.8m-0.3 7h0.8m4.5 -1.8h0.8m-13.2 -5.5h0.8m7.3 3.1h0.8m-3.8 -3.2h0.8m-2.7 -3.3h0.8m7.1 -0.9h0.8m-7.9 2.3h0.8m6.1 3.7h0.8m-9.7 -5.6h0.8m-0.7 -3.7h0.8m20 14.5h0.8m-10.6 -9.8h0.8m0.1 12h0.8m1.4 -5.4h0.8m-13.8 11h0.8m9.4 -10.1h0.8m-3.2 -3.2h0.8m-5.2 -13.6h0.8m12 28.2h0.8m-8.4 -12.6h0.8m-3.8 0.6h0.8m-1.6 -5.6h0.8m3.8 -10.6h0.8m3.7 8.6h0.8m-5.8 6.6h0.8m5.4 7h0.8m-17.8 -17.3h0.8m7.8 -4.5h0.8m1.8 10h0.8m-9 6.3h0.8m-1.7 -10.4h0.8m4.6 10.6h0.8m-1.9 -8h0.8m1.5 -0.2h0.8m-12.9 8.5h0.8m13 1.2h0.8m-2.9 -4.1h0.8m-11.4 -12.1h0.8m-2.3 16.7h0.8m6.4 1h0.8m5.8 -11.7h0.8m-3.9 -2.2h0.8m-2.9 7.4h0.8m5.9 -5.4h0.8m-14.2 10.6h0.8m2 -2.7h0.8m-3.2 -10.7h0.8m-3.6 10.3h0.8m13.5 16.1h0.8m7.7 -19.6h0.8m-24 -2.3h0.8m12.8 3.9h0.8m-1.4 -9.1h0.8m-3.5 19.1h0.8m-2.2 -15h0.8m-4.7 -1.5h0.8m13.4 6.5h0.8m-11 -4.8h0.8m7.1 -1.4h0.8m-10.4 1.7h0.8m-11.2 9.6h0.8m9.5 -2.6h0.8m4 1.7h0.8m-3.9 9.6h0.8m5.6 -17.6h0.8m-2.2 -12.3h0.8m-9.4 0.2h0.8m4.3 27.8h0.8m2.8 -23.9h0.8m-12 12.1h0.8m12.1 -3.9h0.8m4.1 3h0.8m2.6 3.9h0.8m-0.6 -22.9h0.8m-8.5 22.5h0.8m3.5 -1.2h0.8m-7.2 -1.8h0.8m-2 1.6h0.8m7.5 -14.3h0.8m-12.9 1h0.8m-1.7 11.4h0.8m3.8 0.7h0.8m2.4 0.3h0.8m-7.1 -3.6h0.8m-5.1 -2.1h0.8m4.9 5.4h0.8m-9.6 4.7h0.8m8.1 -17.4h0.8m-1.3 14h0.8m0.7 -6.5h0.8m-6.6 4.1h0.8m5.4 0.6h0.8m-4 6h0.8m-9.3 -8h0.8m0.3 -12.8h0.8m9.9 18.3h0.8m-3.6 -2.6h0.8m-0.2 4.6h0.8m-3.2 -4h0.8m4.7 -13.8h0.8m4.1 6.5h0.8m-14.4 -0.5h0.8m11 1.6h0.8m-1.3 -3.5h0.8m-3.9 -5.1h0.8m-4 19.7h0.8m-2.2 -7.3h0.8m-8.4 9.7h0.8m8.5 -7.9h0.8m-1.7 -9.7h0.8m-0.6 4.6h0.8m-4.9 1.1h0.8m-0.4 -2.1h0.8m-11.8 -3.2h0.8m17.8 7.8h0.8m-4.1 1.3h0.8m8.9 24.9h0.8m-7.4 -2h0.8m0.1 3.3h0.8m-11.3 6.8h0.8m12.3 -7.5h0.8m-7.3 -2.7h0.8m-1.4 6.6h0.8m-0.5 -13.6h0.8m1.1 3.6h0.8m0.9 4.5h0.8m-5.1 -7.7h0.8m1.3 1.1h0.8m-0.2 6.8h0.8m-1.6 -0.1h0.8m-0.9 6.8h0.8m-6.4 -12.5h0.8m11.1 -0.7h0.8m-2.9 4.7h0.8m-3.3 -5.5h0.8m-2.5 5.8h0.8m-7.9 0.7h0.8m6.1 -10.3h0.8m1.7 8.6h0.8m-7.7 6.9h0.8m4.9 -10.4h0.8m-3.9 6.5h0.8m0.5 1.9h0.8m-3.6 -2.1h0.8m6.2 1.2h0.8m-6 -6.7h0.8m-2.2 4.8h0.8m-4.6 12.3h0.8m6.6 -7.3h0.8m-1 0.5h0.8m-0.6 -1.4h0.8m4.4 -3.2h0.8m-10.1 0.5h0.8m5 -3.3h0.8m-2.4 4.6h0.8m-8.3 -0.7h0.8m14.2 -5.5h0.8m-2.4 0.9h0.8m-7 0.5h0.8m0.4 -1.9h0.8m-3.2 2.5h0.8m-2.1 0.7h0.8m7.1 -3.5h0.8m-4.2 0.4h0.8m-6.2 3.3h0.8m2.7 4.6h0.8m3.2 -4.1h0.8m-6.3 5.8h0.8m-3.5 -9.7h0.8m7.5 5.3h0.8m-1.3 -2.8h0.8m-0.3 6.3h0.8m-11.6 -2.9h0.8m11 -7.1h0.8m-8.6 6.3h0.8m5.5 -1.7h0.8m-9.9 1.1h0.8m5.4 -2.7h0.8m3.8 -8h0.8m-4.6 7h0.8m1.2 1.3h0.8m3.8 2.2h0.8m-9.9 -8.2h0.8m0.2 7.2h0.8m6.7 1.9h0.8m-6.4 -5.8h0.8m-0.7 -0.3h0.8m-7.4 6.4h0.8m3.1 -8.1h0.8m5.6 11.6h0.8m-3.6 -12.9h0.8m-6 3h0.8m3.6 19.7h0.8m1.9 -15.8h0.8m-7.9 -5.8h0.8m-0.3 7.1h0.8m1.1 1.4h0.8m2.4 -7.4h0.8m0.4 5.3h0.8m2.3 -0.7h0.8m-8.7 0h0.8m5.6 2.9h0.8m-1 2.3h0.8m-4.2 5.8h0.8m-2.5 -11.5h0.8m4.1 -4.1h0.8m-4 9.7h0.8m-5.7 -13.1h0.8m-3 13.7h0.8m15.1 -9.1h0.8m-16.2 -1.7h0.8m10.8 9.1h0.8m-4.4 -6.7h0.8m-0.8 -0.1h0.8m-1.2 -0.1h0.8m-8.2 1.4h0.8m6 3.5h0.8m-4.7 2.7h0.8m-5.1 -13h0.8m8.1 8.1h0.8m-3.3 -1.3h0.8m1.5 3.1h0.8m2.6 -5.3h0.8m-11.5 3.7h0.8m3.3 -0.8h0.8m-8.5 3h0.8m14.8 0h0.8m-2.6 1h0.8m-4.8 -0.9h0.8m2.6 0.3h0.8m-2.6 -2.3h0.8m-6.4 1.8h0.8m0.5 1h0.8m-8.2 5.4h0.8m13.6 -1.1h0.8m-4.5 -11.6h0.8m-4 -0.5h0.8m2.5 5.3h0.8m-1.8 -8.4h0.8m-7.6 -1.6h0.8m11.1 12.2h0.8m-6.3 -3.9h0.8m-8.4 -0.1h0.8m4.8 -2.1h0.8m5 -5.3h0.8m-4.2 12.8h0.8m1.9 -10.5h0.8m-15.6 13.1h0.8m16.5 -7h0.8m-7.7 2.3h0.8m4.7 -1h0.8m-6.6 0.4h0.8m2.2 8.3h0.8m-2.3 -13.4h0.8m7 10.9h0.8m-2.6 -11h0.8m-9.3 -2h0.8m1.1 12.2h0.8m3.6 -5.7h0.8m-3.7 1.9h0.8m-2.3 -6.9h0.8m-3.1 12.2h0.8m-1.8 -12.6h0.8m5.4 3.6h0.8m-4.5 2.2h0.8m0 -8.1h0.8m3.7 8.4h0.8m2.4 2.9h0.8m-10.3 -5.8h0.8m-1.3 -8h0.8m5.1 6.9h0.8m0.3 3.8h0.8m-5.4 6.6h0.8m-4.2 0.6h0.8m1.6 1.8h0.8m5.5 -12.1h0.8m1.7 4.3h0.8m-6.6 -3.7h0.8m-2.5 -0.1h0.8m-1.9 5.5h0.8m3.9 2h0.8m0.9 -6h0.8m-2.7 -0.8h0.8m-1.5 4h0.8m-1.6 -6.4h0.8m-7.3 11.3h0.8m0.8 -10.5h0.8m4.1 1.1h0.8m-0.6 7.9h0.8m-9 -5.8h0.8m8.1 -6.7h0.8m-0.2 13h0.8m-3.7 -4.5h0.8m-2.2 2.2h0.8m-1.7 -4.4h0.8m-1.4 -3.3h0.8m6.7 3.1h0.8m-1.9 -7h0.8m-9.4 3.1h0.8m12 9.4h0.8m0.6 -7.3h0.8m-7.6 3.7h0.8m-4.3 1h0.8m0.1 -0.5h0.8m-8 -6.9h0.8m2.4 12.3h0.8m7 -12h0.8m-2.4 1.8h0.8m-7.5 -1.6h0.8m16.2 4.6h0.8m-13.5 5.2h0.8m0.7 -10.6h0.8m6.9 15h0.8m-6.4 -13.8h0.8m-4.3 4.3h0.8m-5.1 11.5h0.8m3.8 -14.5h0.8m-2 1h0.8m-10.1 2.2h0.8m14.5 0.3h0.8m-3.8 -1.3h0.8m-9.9 3h0.8m9.3 -7.3h0.8m-8.3 2h0.8m-1.6 -8.6h0.8m3 8.5h0.8m1.3 8.1h0.8m-5 -12.4h0.8m2.5 10.1h0.8m5.6 1.2h0.8m-6.2 -4.1h0.8m-8.5 2.9h0.8m9.6 -3.4h0.8m-5.3 2.2h0.8m2.3 0.5h0.8m-0.9 -9.3h0.8m-4.9 -0.5h0.8m4.8 19.1h0.8m-7.3 -12.3h0.8m3.5 -2.6h0.8m5.2 4.1h0.8m1 9.4h0.8m-7.6 -13.7h0.8m2.6 2.2h0.8m-9.6 0.3h0.8m7.2 -2.7h0.8m-6.4 7.6h0.8m-1 0h0.8m5.4 -6.2h0.8m-10.7 -3.1h0.8m9.3 7.8h0.8m-5.7 -4.3h0.8m3.2 -0.3h0.8m6.1 3.5h0.8m-18.7 3.4h0.8m6.9 -4.9h0.8m-2.6 5.5h0.8m-2.1 1.6h0.8m-1.9 -2.9h0.8m-3.9 0.2h0.8m1.4 -5.4h0.8m6.3 -2.4h0.8m-1.7 3.5h0.8m2.4 4h0.8m-5.2 -4.9h0.8m-5.5 7.2h0.8m1.9 -12h0.8m-3.1 -2.8h0.8m-1.1 6.5h0.8m3.8 6.1h0.8m1.6 -12.3h0.8m-6.2 10.9h0.8m2.6 -2.8h0.8m-5.5 3.2h0.8m2.1 -4.2h0.8m-0.9 0h0.8m0.9 6h0.8m-1.7 -7.8h0.8m-1.6 2.2h0.8m1.7 4.1h0.8m4 0.6h0.8m-14.6 -7.8h0.8m1 5.1h0.8m14 0.7h0.8m-12.8 4.2h0.8m4.1 -9.9h0.8m-7.3 10.3h0.8m6.3 -16h0.8m-7 11.9h0.8m-3.3 -2.6h0.8m1.1 -7.4h0.8m0.7 5h0.8m2.5 -5.3h0.8m-0.9 6.1h0.8m-8.5 7.1h0.8m4 -3.6h0.8m7.5 0h0.8m-3.4 -0.9h0.8m-7.1 -0.1h0.8m-4.9 1.3h0.8m9.1 -0.2h0.8m-7 -7.4h0.8m-1.1 4.2h0.8m-3.6 9.8h0.8m1.8 -8h0.8m0.6 0h0.8m-7.8 -5.2h0.8m8 4.5h0.8m0.9 -2.2h0.8m1 3.3h0.8m-4.4 -0.9h0.8m3.8 -0.2h0.8m1.3 0.7h0.8m-6.3 -0.5h0.8m-0.6 2h0.8m-4.6 1.5h0.8m12.5 -1.1h0.8m-11 -6h0.8m-4.5 -0.1h0.8m3.5 0.6h0.8m4.7 1.1h0.8m-11.1 -2.1h0.8m2.5 3.4h0.8m3.4 -2.6h0.8m-3.2 7.5h0.8m-3.4 -12h0.8m1.4 12.3h0.8m-0.2 -4.5h0.8m-10.5 7.2h0.8m6.5 -12.6h0.8m-1.4 6h0.8m0.8 -4.7h0.8m9 9.6h0.8m-6.7 -2.7h0.8m-6.6 -8.1h0.8m-4.4 10h0.8m4.8 2.5h0.8m-10.5 -1.3h0.8m10.5 -8.4h0.8m0.9 -0.5h0.8m-5.6 5.3h0.8m1 -1.1h0.8m-0.5 3.4h0.8m-5.3 -13.6h0.8m-1.1 -1.9h0.8m11.2 7.9h0.8m-9.1 4.4h0.8m-3.9 -3.7h0.8m3.5 2.3h0.8m1.5 -1.2h0.8m-6.9 -5.4h0.8m-5.1 7.7h0.8m7.6 -3h0.8m2.9 -10.2h0.8m-3.2 6.7h0.8m-4.9 4.3h0.8m-2.5 -0.2h0.8m3.5 12h0.8m-1.9 -7.5h0.8m2.6 -7.5h0.8m-2.2 2.4h0.8m0.9 -0.8h0.8m-0.1 -1.4h0.8m-7.2 7.8h0.8m5.4 0.1h0.8m3.3 0.7h0.8m-9.2 -0.4h0.8m-4.2 -0.5h0.8m4.3 -4.3h0.8m-5.5 5.4h0.8m-6.1 -5.5h0.8m1.7 -0.8h0.8m3.2 -2.2h0.8m-1.5 5h0.8m10 6.5h0.8m-9.8 -9.6h0.8m2.5 -1.9h0.8m-9.5 8.1h0.8m3.6 2.5h0.8m2.4 -13.4h0.8m-1 8.7h0.8m-1.8 -8.3h0.8m-7.3 14.5h0.8m-6.2 -12.7h0.8m14.2 12.4h0.8m-1.5 -8.2h0.8m-1.9 5.3h0.8m-4.6 0.6h0.8m2.5 -4.8h0.8m0 0.4h0.8m-6.5 5.6h0.8m1 -8.2h0.8m-8.6 -6.2h0.8m11.4 7h0.8m-3.6 -1.2h0.8m2.2 -1.3h0.8m-9.5 -4.4h0.8m2 8.8h0.8m8.6 1.1h0.8m-9.7 -8.5h0.8m5.5 8.2h0.8m-4.5 0.5h0.8m1.9 -0.5h0.8m2.3 -9.2h0.8m-9.1 4.5h0.8m-2.2 11.3h0.8m4.8 -7h0.8m1.1 -2.9h0.8m-0.6 0.1h0.8m-1.2 3.5h0.8m1.5 -9.4h0.8m-10.1 3.4h0.8m-0.4 5.2h0.8m6.7 -3.3h0.8m-0.4 5.5h0.8m-7.7 -1h0.8m7.6 -5.1h0.8m-15.9 4.6h0.8m9.6 0.3h0.8m0.1 -3h0.8m-3 -3.4h0.8m7.4 10.7h0.8m-9.5 -10.9h0.8m1.6 11.1h0.8m-2.4 -10.9h0.8m2.9 4.8h0.8m-8 -2.1h0.8m3.2 -4.1h0.8m-0.3 10.8h0.8m2.4 -0.1h0.8m-2.1 -6h0.8m-1.3 5.9h0.8m-3.2 -3.2h0.8m-3.6 -2.3h0.8m-0.2 -4.8h0.8m2.9 14.8h0.8m-9.5 -12.2h0.8m7 -1.1h0.8m-0.9 7.1h0.8m-8.2 -4.3h0.8m8.4 3.1h0.8m4.3 -1.7h0.8m-3.2 -3.4h0.8m-9.7 0.1h0.8m1.1 6.5h0.8m4.2 -4h0.8m-7.7 0.6h0.8m1.2 -2.4h0.8m-6.3 8.8h0.8m8.9 6.4h0.8m7.9 -13.2h0.8m-2.8 -2.1h0.8m1.6 1.6h0.8m-20 0.2h0.8m10.2 7.8h0.8m-0.1 0.3h0.8m-4.1 -14.9h0.8m-0.9 2.9h0.8m2 -5.7h0.8m-8.3 4.4h0.8m3.7 9.9h0.8m-2.5 -10.6h0.8m-1.7 5.3h0.8m6.2 1.2h0.8m0.1 -13.5h0.8m0.9 23h0.8m-10.4 2.3h0.8m-5.1 -8.1h0.8m0.3 -7h0.8m6.7 3.8h0.8m-1.7 -1.9h0.8m-9.7 -6.5h0.8m3.3 2.8h0.8m0.8 -3.2h0.8m0.7 10h0.8m-2.4 3.9h0.8m2.1 -1.9h0.8m-5.4 -3.3h0.8m-3 -9.6h0.8m-2.1 6.8h0.8m7.5 11.6h0.8m-0.5 -11.4h0.8m2.3 2.2h0.8m-5.2 0.1h0.8m3.2 6.7h0.8m-10.8 -6.9h0.8m3.2 -0.4h0.8m11.1 -1.1h0.8m-21 5h0.8m7.5 -8.2h0.8m10.4 13.5h0.8m-5.8 -8.1h0.8m-8.1 5.5h0.8m1.2 -5.6h0.8m-0.5 -0.3h0.8m-8.3 -6.3h0.8m2.1 -4.4h0.8m-0.3 7.7h0.8m3.3 1.9h0.8m-1.9 5.1h0.8m-7.6 -7.2h0.8m6.9 -1.5h0.8m5.9 3.4h0.8m-1.9 3.1h0.8m-6.6 2h0.8m-5.8 -10.2h0.8m3.7 -5.3h0.8m-0.9 10h0.8m-6.4 -3.8h0.8m1.1 15.6h0.8m9.9 -8.1h0.8m-5.1 3.3h0.8m-1.3 -0.4h0.8m2.5 4.1h0.8m-0.1 -12.3h0.8m-2.7 7.7h0.8m-0.5 4.9h0.8m-2.4 -12h0.8m1.7 7.2h0.8m-4.6 -2.9h0.8m-0.2 -1.2h0.8m0.2 -3h0.8m0.8 3.5h0.8m3.4 -0.3h0.8m-7.6 -7h0.8m8.2 4.6h0.8m-12.5 -0.2h0.8m1.4 0.8h0.8m6.3 -1.8h0.8m-8.9 0.2h0.8m2.7 -5.5h0.8m0.9 5.9h0.8m-11 8.4h0.8m-0.4 -3.5h0.8m4.9 -6.3h0.8m-7.9 -0.2h0.8m9.4 2.9h0.8m-6.4 4.8h0.8m1.7 -4.1h0.8m-4.6 -6.7h0.8m0.9 7.6h0.8m-0.6 0.1h0.8m-0.1 -2.5h0.8m0.1 2.7h0.8m-10 -1.7h0.8m7.7 -1.9h0.8m4.2 7.3h0.8m-0.1 -2h0.8m-3.7 -2.7h0.8m0.4 -3.6h0.8m-4.5 4.4h0.8m-0.9 -7.1h0.8m-0.5 3.8h0.8m-3.1 4.7h0.8m6.4 -2.4h0.8m-10.2 -1.2h0.8m3.3 -4h0.8m-2.6 5.4h0.8m-0.7 1.4h0.8m-3.8 0.9h0.8m1.7 -2.4h0.8m2.2 -2.9h0.8m3.5 -5.8h0.8m-4.3 11.1h0.8m-2.7 -3.3h0.8m-4.6 0.1h0.8m4.7 -2.5h0.8m-1.4 1h0.8m-5.2 1.3h0.8m0.2 4.4h0.8m-0.8 2.4h0.8m2.4 -6.5h0.8m-3.8 2.1h0.8m-2 -9h0.8m5.3 -2.5h0.8m2.2 7.1h0.8m1.1 3.5h0.8m-0.6 -7.7h0.8m-9.5 7.8h0.8m-1.3 -0.9h0.8m0.8 2.7h0.8m5.9 -12.8h0.8m-4.1 4.6h0.8m3.4 -1.5h0.8m-11.2 9h0.8m2 0.8h0.8m1.5 -6.6h0.8m-9.3 8.7h0.8m5.2 -5.7h0.8m-1.2 -0.7h0.8m-2.6 1.4h0.8m3.4 -5.9h0.8m-8.6 8.2h0.8m9.6 -5h0.8m-5.2 0.2h0.8m1.6 1.9h0.8m-4.8 -3.1h0.8m3.4 5.1h0.8m-4.5 0.2h0.8m-12.1 -3.8h0.8m13.1 -7.2h0.8m-4.1 10.2h0.8m7.1 0.7h0.8m-11.4 2.3h0.8m3.2 -0.3h0.8m-5.5 -11.1h0.8m-1.7 10h0.8m11.1 -1.5h0.8m-5.1 -1.6h0.8m-0.8 -4.2h0.8m3.6 8.3h0.8m-1.9 -4h0.8m-1.3 4.8h0.8m6.3 0.4h0.8m-14.7 -8.4h0.8m6.1 5.8h0.8m-2.1 -2h0.8m-6.6 0.4h0.8m-3.6 0.6h0.8m15.1 2h0.8m-14.1 -7.2h0.8m13.1 6.9h0.8m-13.3 -0.3h0.8m0 -7.4h0.8m1.2 7h0.8m4.2 -7.9h0.8m-0.1 4.6h0.8m-15.5 5.5h0.8m11.9 -2h0.8m-1.5 -6.5h0.8m-2.2 -3.3h0.8m-5.8 18.7h0.8m9.1 -9.6h0.8m-5.7 -1.3h0.8m-0.3 0.5h0.8m-7.4 -2.5h0.8m-5 -2.3h0.8m6.6 5.6h0.8m9.5 -9h0.8m-1.3 5.3h0.8m-11.7 1.6h0.8m10.4 -4.5h0.8m-11.8 7.3h0.8m4.9 -0.7h0.8m-4.3 2.7h0.8m-5.5 2.6h0.8m1.2 -5.3h0.8m-2.6 -4.5h0.8m7.4 5.3h0.8m-5.8 1.1h0.8m13.8 -14.6h0.8m-23.5 11.8h0.8m0.7 3.8h0.8m3 -4.6h0.8m-0.8 9.3h0.8m9.3 -16.9h0.8m-4.5 6.2h0.8m2.7 2.9h0.8m-10.3 -3.5h0.8m2.6 9.6h0.8m-0.6 -10h0.8m-2.9 6.2h0.8m-0.5 4.1h0.8m4.4 -7.2h0.8m-4.2 -2.2h0.8m-11.4 6.8h0.8m15.9 -6.2h0.8m-6.1 -5.2h0.8m-2.9 6.9h0.8m-0.3 -0.6h0.8m3.8 3h0.8m-1.6 -5.8h0.8m-6.4 2.6h0.8m-5.5 -6.5h0.8m7.5 6.5h0.8m-1.9 5.3h0.8m-10.3 -3.5h0.8m7.4 -7.7h0.8m3.1 12.2h0.8m-10.1 -6.1h0.8m9.7 0h0.8m-6.9 4.2h0.8m-6.2 -4.6h0.8m3.8 -0.1h0.8m-3.4 1.1h0.8m9.9 1.2h0.8m-11.7 -4.3h0.8m1.5 -4.4h0.8m5.6 9h0.8m-4.7 4.4h0.8m3.1 -9.3h0.8m-3.7 2h0.8m-1.1 6.5h0.8m4.7 -10.2h0.8m2.2 -2.9h0.8m-10.4 18.2h0.8m3.3 -5.7h0.8m-3.1 -3h0.8m-4.2 4.4h0.8m1.1 -9h0.8m-6.3 12.2h0.8m-0.8 -14.4h0.8m7.7 4.7h0.8m4.5 2.7h0.8m-6.8 -6.4h0.8m0.1 -2.9h0.8m-6.4 12.7h0.8m3.7 -11.4h0.8m-4.7 4.6h0.8m3.3 1.5h0.8m1.3 -14.3h0.8m-1.2 4.9h0.8m-5.9 9.1h0.8m5.7 -3.4h0.8m-11 -0.9h0.8m6 14.5h0.8m-7.2 -13.1h0.8m1.5 7.4h0.8m4.6 -5.8h0.8m-1.9 7.8h0.8m-3.3 -12.2h0.8m0.5 -0.5h0.8m0.1 9.5h0.8m-3.4 0.3h0.8m6 4.1h0.8m-7.5 -5.7h0.8m4.2 1.1h0.8m-0.2 -1.5h0.8m-1.9 2h0.8m-1.7 -1.6h0.8m-1.6 -2.9h0.8m-9.9 0h0.8m7.2 -2.1h0.8m-2.9 8.1h0.8m0 -15.8h0.8m-1.9 9.6h0.8m6.7 1.9h0.8m-3.8 -3.8h0.8m-5.5 -4.7h0.8m4.4 7.2h0.8m-6.6 0.2h0.8m7 3.9h0.8m-2.1 1h0.8m-3.2 -5.1h0.8m-1.9 2.1h0.8m-8.1 -0.9h0.8m6.7 -5.2h0.8m-3.4 9.1h0.8m0 -5.6h0.8m7.2 -3.9h0.8m-7.3 2.5h0.8m-2.9 1.1h0.8m3.8 -0.5h0.8m0.9 4.6h0.8m-9.4 -3.1h0.8m3 -6h0.8m-7.7 10.3h0.8m8.1 0.9h0.8m4.6 -2h0.8m-5.9 2.3h0.8m-2.9 -7.5h0.8m3.9 4.7h0.8m-7.2 -4.8h0.8m-4 11.2h0.8m3 -11.6h0.8m-1.7 -0.1h0.8m1.9 3.1h0.8m3.3 -14.8h0.8m-4.8 24.3h0.8m-1.3 -13.2h0.8m11 0.4h0.8m-8.8 4.4h0.8m-5.8 -7.2h0.8m1 7h0.8m9.3 -10h0.8m-21.2 12.1h0.8m-0.6 -19.8h0.8m6.3 23.2h0.8m-9.9 -15.4h0.8m19.4 3.6h0.8m-15.2 4.1h0.8m14.3 -0.1h0.8m-5.8 0.1h0.8m-12.1 2.5h0.8m-5.3 4.5h0.8m0.4 -5.2h0.8m-4 -1.4h0.8m14.7 -3.7h0.8m8.5 4.3h0.8m-9.9 -8.6h0.8m-6.5 9.9h0.8m6.8 2.1h0.8m-13.9 -12.1h0.8m0.9 15.2h0.8m-4.6 -13.7h0.8m10.5 6.9h0.8m-1.9 -4.6h0.8m1.7 4.2h0.8m-4.1 2h0.8m-1 -2.4h0.8m7.4 5.2h0.8m-7.1 -3.3h0.8m7 -8.6h0.8m-20.8 7.9h0.8m0.5 -6.4h0.8m10.9 7.4h0.8m-4.2 -5.6h0.8m-7.6 0.3h0.8m3.1 4h0.8m9.8 -1.6h0.8m-13.3 4.2h0.8m13.4 -0.6h0.8m-10.9 -4.1h0.8m0 -3.9h0.8m6.7 4.3h0.8m5.3 8.9h0.8m-15.4 7.9h0.8m-0.7 -19.5h0.8m-8.7 4.6h0.8m12.3 -2.2h0.8m-3.8 4.9h0.8m-4.9 -3.1h0.8m2.4 9.1h0.8m4.8 -9.3h0.8m-11 -0.3h0.8m0.5 -1.2h0.8m6.2 6.7h0.8m3.2 -8h0.8m-5.8 3.2h0.8m3.1 12.9h0.8m0.3 -7.5h0.8m-5.5 -2.2h0.8m-14.2 -1.1h0.8m10.3 -2.2h0.8m4.4 18.5h0.8m-3.5 -25.2h0.8m-4.7 11.8h0.8m5.7 -3.7h0.8m-1.7 -5.7h0.8m4.9 -7.4h0.8m-11.9 7.6h0.8m-1.5 5.7h0.8m2.7 4.3h0.8m9.9 -2.6h0.8m-17.8 -2.9h0.8m0.1 -4.7h0.8m1.5 10.1h0.8m-3.2 -3.6h0.8m-0.5 3.2h0.8m10.6 -13.4h0.8m-3.3 3.3h0.8m-3.2 4.5h0.8m2.3 -6.8h0.8m5.5 9.3h0.8m-16.1 5.3h0.8m11.3 -4.2h0.8m-12 -7.7h0.8m-3.2 13.9h0.8m4.9 -9.4h0.8m-3.3 7.2h0.8m-0.8 -2.1h0.8m-9.3 -9.5h0.8m11.9 -1h0.8m8.7 -6.3h0.8m-10 14.9h0.8m-0.4 -3.4h0.8m-4.1 20.8h0.8m1.4 -24h0.8m-18.6 14.3h0.8m15.3 -0.3h0.8m-0.8 -4.1h0.8m7.5 -9.6h0.8m-22.8 10.1h0.8m24.5 -15.5h0.8m-15.3 8.2h0.8m0.6 4h0.8m0.1 -0.1h0.8m-5 -12.6h0.8m15 10.7h0.8m-9.3 -8.2h0.8m-0.5 6.4h0.8m-0.6 1h0.8m2.6 7.4h0.8m-9.2 -10.3h0.8m5.7 -6.2h0.8m-9.4 6.3h0.8m-9.2 13.2h0.8m10.2 -12.4h0.8m-6.3 4.4h0.8m3.6 -10h0.8m3.9 15.7h0.8m-11.7 -9h0.8m21.1 -1h0.8m-18 10.4h0.8m4.8 -3.8h0.8m7.7 -1.7h0.8m-8.7 7.4h0.8m-11.8 -17.7h0.8m6.9 3h0.8m-0.5 -7.3h0.8m-9.5 15h0.8m7.7 -1.7h0.8m-1.9 -2.5h0.8m-7.6 10.3h0.8m14.6 -18h0.8m-9.8 9.9h0.8m-0.6 -2.4h0.8m3 -10.4h0.8m2.4 13.4h0.8m-11.1 -3.8h0.8m4.4 -0.4h0.8m0.1 -7.3h0.8m-0.7 11.2h0.8m1.1 0.2h0.8m-6.5 -1.8h0.8m8.4 -0.4h0.8m-5.3 0h0.8m1.1 -7.8h0.8m-4.3 12.3h0.8m-5.9 -1.6h0.8m1.9 -5.8h0.8m-4.8 -2.8h0.8m12.9 -3.1h0.8m-7 0.5h0.8m10.5 12h0.8m-17.7 -10.7h0.8m2.3 8.6h0.8m10.9 6.4h0.8m-16.7 -7h0.8m10.6 -5.5h0.8m-9.1 9.5h0.8m-6.3 -5.2h0.8m7.1 -1.9h0.8m-0.3 -7.8h0.8m4 6.9h0.8m6 14.1h0.8m-15.3 -0.2h0.8m10.5 -16h0.8m-10.8 11.7h0.8m-3.7 -9h0.8m-11.4 -6.2h0.8m7.2 4.1h0.8m1.8 5.6h0.8m5.1 -3.6h0.8m-10.5 3.5h0.8m11.1 -1.7h0.8m3.7 -2.3h0.8m-4 4.2h0.8m2.1 7.9h0.8m-15.7 -20h0.8m12.4 12.3h0.8m-4.9 -4.4h0.8m-7.4 9.6h0.8m6.5 -10.1h0.8m-3.3 4.8h0.8m-8.9 -5.4h0.8m10 4.5h0.8m-12 1h0.8m19.3 1.8h0.8m-20.6 -6.3h0.8m3.4 -1.8h0.8m-2 1.1h0.8m3.6 -3.8h0.8m5.2 9.1h0.8m5.4 3h0.8m-6.8 -1.9h0.8m-7.2 -9.2h0.8m3.9 6.8h0.8m-8.7 1.8h0.8m5.1 -6.1h0.8m5.9 0.9h0.8m-8.7 9h0.8m-4.7 -8h0.8m5 -0.1h0.8m-6.5 -4.6h0.8m3.6 4.3h0.8m2.7 8.1h0.8m-5.8 -1.4h0.8m-4.9 4.8h0.8m0.1 -10h0.8m0.3 -2.1h0.8m6.2 2.8h0.8m-10.9 4.5h0.8m4.7 -1.1h0.8m0.3 -6h0.8m-12.8 0.9h0.8" stroke="#111" stroke-width="0.8" stroke-opacity="0.85" fill="none"/>
<rect x="427.9" y="440.9" width="22.8" height="25.6" fill="none" stroke="#111" stroke-width="1.15"/>
<rect x="427.9" y="469.2" width="22.8" height="23.2" fill="none" stroke="#111" stroke-width="1.15"/>
<text x="454.7" y="439.3" font-size="8.5">34.0</text>
<text x="454.7" y="496.4" font-size="8.5">34.6</text>
<text x="406.3" y="513.6" font-size="4.2" text-anchor="middle" fill="#333" stroke="#333" stroke-width="0.15">0 10<tspan dy="-1.4" font-size="3">2</tspan></text>
<text x="429.8" y="513.6" font-size="4.2" text-anchor="middle" fill="#333" stroke="#333" stroke-width="0.15">10<tspan dy="-1.4" font-size="3">3</tspan></text>
<text x="448.3" y="513.6" font-size="4.2" text-anchor="middle" fill="#333" stroke="#333" stroke-width="0.15">10<tspan dy="-1.4" font-size="3">4</tspan></text>
<text x="467.3" y="513.6" font-size="4.2" text-anchor="middle" fill="#333" stroke="#333" stroke-width="0.15">10<tspan dy="-1.4" font-size="3">5</tspan></text>
<path d="M411.3 505.9v1.1M416 505.9v1.1M419.3 505.9v1.1M421.8 505.9v1.1M423.9 505.9v1.1M425.7 505.9v1.1M427.2 505.9v1.1M428.6 505.9v1.1M435.4 505.9v1.1M438.6 505.9v1.1M440.9 505.9v1.1M442.7 505.9v1.1M444.2 505.9v1.1M445.4 505.9v1.1M446.5 505.9v1.1M447.5 505.9v1.1M454 505.9v1.1M457.4 505.9v1.1M459.7 505.9v1.1M461.6 505.9v1.1M463.1 505.9v1.1M464.3 505.9v1.1M465.4 505.9v1.1M466.4 505.9v1.1M394.3 505.9v1.1M395.8 505.9v1.1M397.3 505.9v1.1M398.5 505.9v1.1M399.7 505.9v1.1M400.9 505.9v1.1M402.1 505.9v1.1M404.5 505.9v1.1M405.7 505.9v1.1M406.9 505.9v1.1" stroke="#777" stroke-width="0.45" fill="none"/>
<text x="381.3" y="422.9" font-size="4.2" text-anchor="end" fill="#333" stroke="#333" stroke-width="0.15">10<tspan dy="-1.4" font-size="3">5</tspan></text>
<line x1="383.5" y1="421.6" x2="385.1" y2="421.6" stroke="#444" stroke-width="0.6"/>
<text x="381.3" y="441.5" font-size="4.2" text-anchor="end" fill="#333" stroke="#333" stroke-width="0.15">10<tspan dy="-1.4" font-size="3">4</tspan></text>
<line x1="383.5" y1="440.2" x2="385.1" y2="440.2" stroke="#444" stroke-width="0.6"/>
<text x="381.3" y="462.4" font-size="4.2" text-anchor="end" fill="#333" stroke="#333" stroke-width="0.15">10<tspan dy="-1.4" font-size="3">3</tspan></text>
<line x1="383.5" y1="461.1" x2="385.1" y2="461.1" stroke="#444" stroke-width="0.6"/>
<text x="381.3" y="486.9" font-size="4.2" text-anchor="end" fill="#333" stroke="#333" stroke-width="0.15">0<tspan dy="-1.4" font-size="3"></tspan></text>
<line x1="383.5" y1="485.6" x2="385.1" y2="485.6" stroke="#444" stroke-width="0.6"/>
<path d="M384.1 478.2h1M384.1 473.9h1M384.1 470.8h1M384.1 468.5h1M384.1 466.5h1M384.1 464.9h1M384.1 463.5h1M384.1 462.2h1M384.1 454.8h1M384.1 451.2h1M384.1 448.5h1M384.1 446.5h1M384.1 444.9h1M384.1 443.5h1M384.1 442.3h1M384.1 441.2h1M384.1 434.6h1M384.1 431.4h1M384.1 429h1M384.1 427.2h1M384.1 425.8h1M384.1 424.5h1M384.1 423.5h1M384.1 422.5h1M384.1 487.1h1M384.1 488.6h1M384.1 490.1h1M384.1 491.6h1M384.1 493.6h1M384.1 495.6h1M384.1 498.1h1" stroke="#777" stroke-width="0.45" fill="none"/>
<text transform="translate(26 493.3) rotate(-90)" font-size="13" font-weight="bold" text-anchor="middle">CD161</text>
<path d="M30.2 470V519.5H81" fill="none" stroke="#111" stroke-width="1.7"/>
<path d="M30.2 465.2L26.8 471.8H33.6Z" fill="#111"/>
<path d="M86.6 519.5L80 516.1V522.9Z" fill="#111"/>
<text x="36.3" y="533.4" font-size="13" font-weight="bold">Vα7.2</text>
<text x="21.3" y="570.4" font-size="9.5" text-anchor="middle">ii</text>
<text x="141.8" y="571.1" font-size="12.55" font-weight="bold" text-anchor="middle" letter-spacing="0.16">Gated on CD161- Vα7.2+ T cells</text>
<line x1="35.5" y1="576.6" x2="246.5" y2="576.6" stroke="#111" stroke-width="1.9"/>
<text x="78.8" y="601.2" font-size="12.6" font-weight="bold" text-anchor="middle" word-spacing="-0.9"><tspan font-style="italic">E. coli</tspan> MOI 10</text>
<text x="200.2" y="601.2" font-size="12.6" font-weight="bold" text-anchor="middle" word-spacing="-0.9"><tspan font-style="italic">E. coli</tspan> MOI 100</text>
<rect x="36.4" y="610.6" width="91.4" height="91.6" fill="none" stroke="#8a8a8a" stroke-width="0.9"/>
<path d="M34.2 702.2H36.7M35.5 697.8H36.7M35 693.4H36.7M35.5 689H36.7M34.2 684.6H36.7M35.5 680.2H36.7M35 675.9H36.7M35.5 671.5H36.7M34.2 667.1H36.7M35.5 662.7H36.7M35 658.3H36.7M35.5 653.9H36.7M34.2 649.5H36.7M35.5 645.1H36.7M35 640.7H36.7M35.5 636.4H36.7M34.2 632H36.7M35.5 627.6H36.7M35 623.2H36.7M35.5 618.8H36.7M34.2 614.4H36.7" stroke="#333" stroke-width="0.7" fill="none"/>
<text x="33.6" y="703.6" font-size="4.0" text-anchor="end" fill="#333" stroke="#333" stroke-width="0.15">0</text>
<text x="33.6" y="686.1" font-size="4.0" text-anchor="end" fill="#333" stroke="#333" stroke-width="0.15">20</text>
<text x="33.6" y="668.5" font-size="4.0" text-anchor="end" fill="#333" stroke="#333" stroke-width="0.15">40</text>
<text x="33.6" y="651" font-size="4.0" text-anchor="end" fill="#333" stroke="#333" stroke-width="0.15">60</text>
<text x="33.6" y="633.4" font-size="4.0" text-anchor="end" fill="#333" stroke="#333" stroke-width="0.15">80</text>
<text x="33.6" y="615.8" font-size="4.0" text-anchor="end" fill="#333" stroke="#333" stroke-width="0.15">100</text>
<line x1="49.8" y1="702.2" x2="49.8" y2="704.2" stroke="#333" stroke-width="0.7"/>
<text x="49.8" y="710.7" font-size="4.0" text-anchor="middle" fill="#333" stroke="#333" stroke-width="0.15">0</text>
<line x1="64" y1="702.2" x2="64" y2="704.2" stroke="#333" stroke-width="0.7"/>
<text x="64" y="710.7" font-size="4.0" text-anchor="middle" fill="#333" stroke="#333" stroke-width="0.15">10<tspan dy="-1.5" font-size="2.8">2</tspan></text>
<line x1="83.2" y1="702.2" x2="83.2" y2="704.2" stroke="#333" stroke-width="0.7"/>
<text x="83.2" y="710.7" font-size="4.0" text-anchor="middle" fill="#333" stroke="#333" stroke-width="0.15">10<tspan dy="-1.5" font-size="2.8">3</tspan></text>
<line x1="101.6" y1="702.2" x2="101.6" y2="704.2" stroke="#333" stroke-width="0.7"/>
<text x="101.6" y="710.7" font-size="4.0" text-anchor="middle" fill="#333" stroke="#333" stroke-width="0.15">10<tspan dy="-1.5" font-size="2.8">4</tspan></text>
<line x1="120.1" y1="702.2" x2="120.1" y2="704.2" stroke="#333" stroke-width="0.7"/>
<text x="120.1" y="710.7" font-size="4.0" text-anchor="middle" fill="#333" stroke="#333" stroke-width="0.15">10<tspan dy="-1.5" font-size="2.8">5</tspan></text>
<path d="M54.1 702v1.2M56.6 702v1.2M58.4 702v1.2M59.7 702v1.2M60.9 702v1.2M61.8 702v1.2M62.6 702v1.2M63.4 702v1.2M69.8 702v1.2M73.2 702v1.2M75.6 702v1.2M77.4 702v1.2M78.9 702v1.2M80.2 702v1.2M81.3 702v1.2M82.3 702v1.2M88.7 702v1.2M92 702v1.2M94.3 702v1.2M96 702v1.2M97.5 702v1.2M98.7 702v1.2M99.8 702v1.2M100.7 702v1.2M107.2 702v1.2M110.4 702v1.2M112.7 702v1.2M114.5 702v1.2M116 702v1.2M117.2 702v1.2M118.3 702v1.2M119.3 702v1.2M40.8 702v1.2M42.3 702v1.2M43.8 702v1.2M45 702v1.2M46.2 702v1.2M47.4 702v1.2M48.6 702v1.2M51 702v1.2M52.2 702v1.2M53.4 702v1.2" stroke="#444" stroke-width="0.55" fill="none"/>
<path d="M65.2 701.8L70.5 695.2L73.2 686.7L75.3 676.2L76.8 665.6L77.9 657.1L78.7 653.9L79.6 659.2L80.4 650.8L81.3 636L82.1 625.4L83 616.9L83.6 625.4L84.2 642.3L85.1 663.5L85.9 680.4L87 691L88.5 698.4L91.6 701.3" fill="none" stroke="#b4b4b4" stroke-width="0.9" stroke-linejoin="round"/>
<path d="M56.7 701.8L63.1 700.7L66.3 698.6L69.4 693.3L71.5 685.7L73.2 678.3L74.7 667.7L75.8 655L76.4 642.3L77.5 631.7L78.3 621.2L78.7 615.9L79.4 621.2L80.4 623.3L81.3 624.3L82.1 631.7L83 642.3L83.8 657.1L84.7 671.9L85.7 684.6L86.8 693.1L88 698.4L90.6 700.7L94.8 701.8" fill="none" stroke="#111" stroke-width="1.2" stroke-linejoin="round"/>
<path d="M47.8 702h2.4" stroke="#111" stroke-width="1.1"/>
<rect x="153.8" y="610.6" width="90.9" height="91.6" fill="none" stroke="#8a8a8a" stroke-width="0.9"/>
<path d="M151.6 702.2H154.1M152.9 697.8H154.1M152.4 693.4H154.1M152.9 689H154.1M151.6 684.6H154.1M152.9 680.2H154.1M152.4 675.9H154.1M152.9 671.5H154.1M151.6 667.1H154.1M152.9 662.7H154.1M152.4 658.3H154.1M152.9 653.9H154.1M151.6 649.5H154.1M152.9 645.1H154.1M152.4 640.7H154.1M152.9 636.4H154.1M151.6 632H154.1M152.9 627.6H154.1M152.4 623.2H154.1M152.9 618.8H154.1M151.6 614.4H154.1" stroke="#333" stroke-width="0.7" fill="none"/>
<text x="151" y="703.6" font-size="4.0" text-anchor="end" fill="#333" stroke="#333" stroke-width="0.15">0</text>
<text x="151" y="686.1" font-size="4.0" text-anchor="end" fill="#333" stroke="#333" stroke-width="0.15">20</text>
<text x="151" y="668.5" font-size="4.0" text-anchor="end" fill="#333" stroke="#333" stroke-width="0.15">40</text>
<text x="151" y="651" font-size="4.0" text-anchor="end" fill="#333" stroke="#333" stroke-width="0.15">60</text>
<text x="151" y="633.4" font-size="4.0" text-anchor="end" fill="#333" stroke="#333" stroke-width="0.15">80</text>
<text x="151" y="615.8" font-size="4.0" text-anchor="end" fill="#333" stroke="#333" stroke-width="0.15">100</text>
<line x1="167.2" y1="702.2" x2="167.2" y2="704.2" stroke="#333" stroke-width="0.7"/>
<text x="167.2" y="710.7" font-size="4.0" text-anchor="middle" fill="#333" stroke="#333" stroke-width="0.15">0</text>
<line x1="181.3" y1="702.2" x2="181.3" y2="704.2" stroke="#333" stroke-width="0.7"/>
<text x="181.3" y="710.7" font-size="4.0" text-anchor="middle" fill="#333" stroke="#333" stroke-width="0.15">10<tspan dy="-1.5" font-size="2.8">2</tspan></text>
<line x1="200.3" y1="702.2" x2="200.3" y2="704.2" stroke="#333" stroke-width="0.7"/>
<text x="200.3" y="710.7" font-size="4.0" text-anchor="middle" fill="#333" stroke="#333" stroke-width="0.15">10<tspan dy="-1.5" font-size="2.8">3</tspan></text>
<line x1="218.6" y1="702.2" x2="218.6" y2="704.2" stroke="#333" stroke-width="0.7"/>
<text x="218.6" y="710.7" font-size="4.0" text-anchor="middle" fill="#333" stroke="#333" stroke-width="0.15">10<tspan dy="-1.5" font-size="2.8">4</tspan></text>
<line x1="237.1" y1="702.2" x2="237.1" y2="704.2" stroke="#333" stroke-width="0.7"/>
<text x="237.1" y="710.7" font-size="4.0" text-anchor="middle" fill="#333" stroke="#333" stroke-width="0.15">10<tspan dy="-1.5" font-size="2.8">5</tspan></text>
<path d="M171.4 702v1.2M173.9 702v1.2M175.6 702v1.2M177 702v1.2M178.1 702v1.2M179.1 702v1.2M179.9 702v1.2M180.6 702v1.2M187 702v1.2M190.4 702v1.2M192.7 702v1.2M194.6 702v1.2M196.1 702v1.2M197.4 702v1.2M198.5 702v1.2M199.5 702v1.2M205.8 702v1.2M209.1 702v1.2M211.3 702v1.2M213.1 702v1.2M214.6 702v1.2M215.8 702v1.2M216.8 702v1.2M217.8 702v1.2M224.2 702v1.2M227.4 702v1.2M229.7 702v1.2M231.5 702v1.2M233 702v1.2M234.2 702v1.2M235.3 702v1.2M236.2 702v1.2M158.2 702v1.2M159.7 702v1.2M161.2 702v1.2M162.4 702v1.2M163.6 702v1.2M164.8 702v1.2M166 702v1.2M168.4 702v1.2M169.6 702v1.2M170.8 702v1.2" stroke="#444" stroke-width="0.55" fill="none"/>
<path d="M181.3 701.8L187.6 693.1L190.8 680.4L192.9 667.7L194.2 657.1L195 652.9L195.8 659.2L196.7 655L197.5 646.5L198.4 638.1L199.2 629.6L200.1 621.2L200.7 615.9L201.3 623.3L202 642.3L202.6 663.5L203.5 682.5L204.5 693.1L206 699.4L208.1 701.8" fill="none" stroke="#b4b4b4" stroke-width="0.9" stroke-linejoin="round"/>
<path d="M179.1 701.8L182.3 699.6L185.5 695.4L188.2 688.9L190.3 678.3L192 663.5L193.3 648.7L194.6 633.8L195.4 625.4L196.3 615.9L197.1 619L198 627.5L198.8 636L199.9 648.7L200.9 663.5L202 678.3L203 688.9L204.1 696.3L206 700.7L208.8 701.8" fill="none" stroke="#111" stroke-width="1.2" stroke-linejoin="round"/>
<path d="M165.2 702h2.4" stroke="#111" stroke-width="1.1"/>
<line x1="260" y1="622" x2="267.5" y2="622" stroke="#b4b4b4" stroke-width="1.2"/>
<line x1="260" y1="633.3" x2="268" y2="633.3" stroke="#111" stroke-width="1.6"/>
<text x="272.4" y="623.8" font-size="10.8" font-weight="bold">Unstimulated</text>
<text x="272.8" y="635.5" font-size="10.8" font-weight="bold" font-style="italic">E. coli</text>
<text x="36.6" y="730.5" font-size="12.6" font-weight="bold">Ki67</text>
<line x1="65" y1="726.2" x2="241" y2="726.2" stroke="#111" stroke-width="1.5"/>
<path d="M248 726.2L240.4 722.6V729.8Z" fill="#111"/>
</svg>
</body>
</html>
